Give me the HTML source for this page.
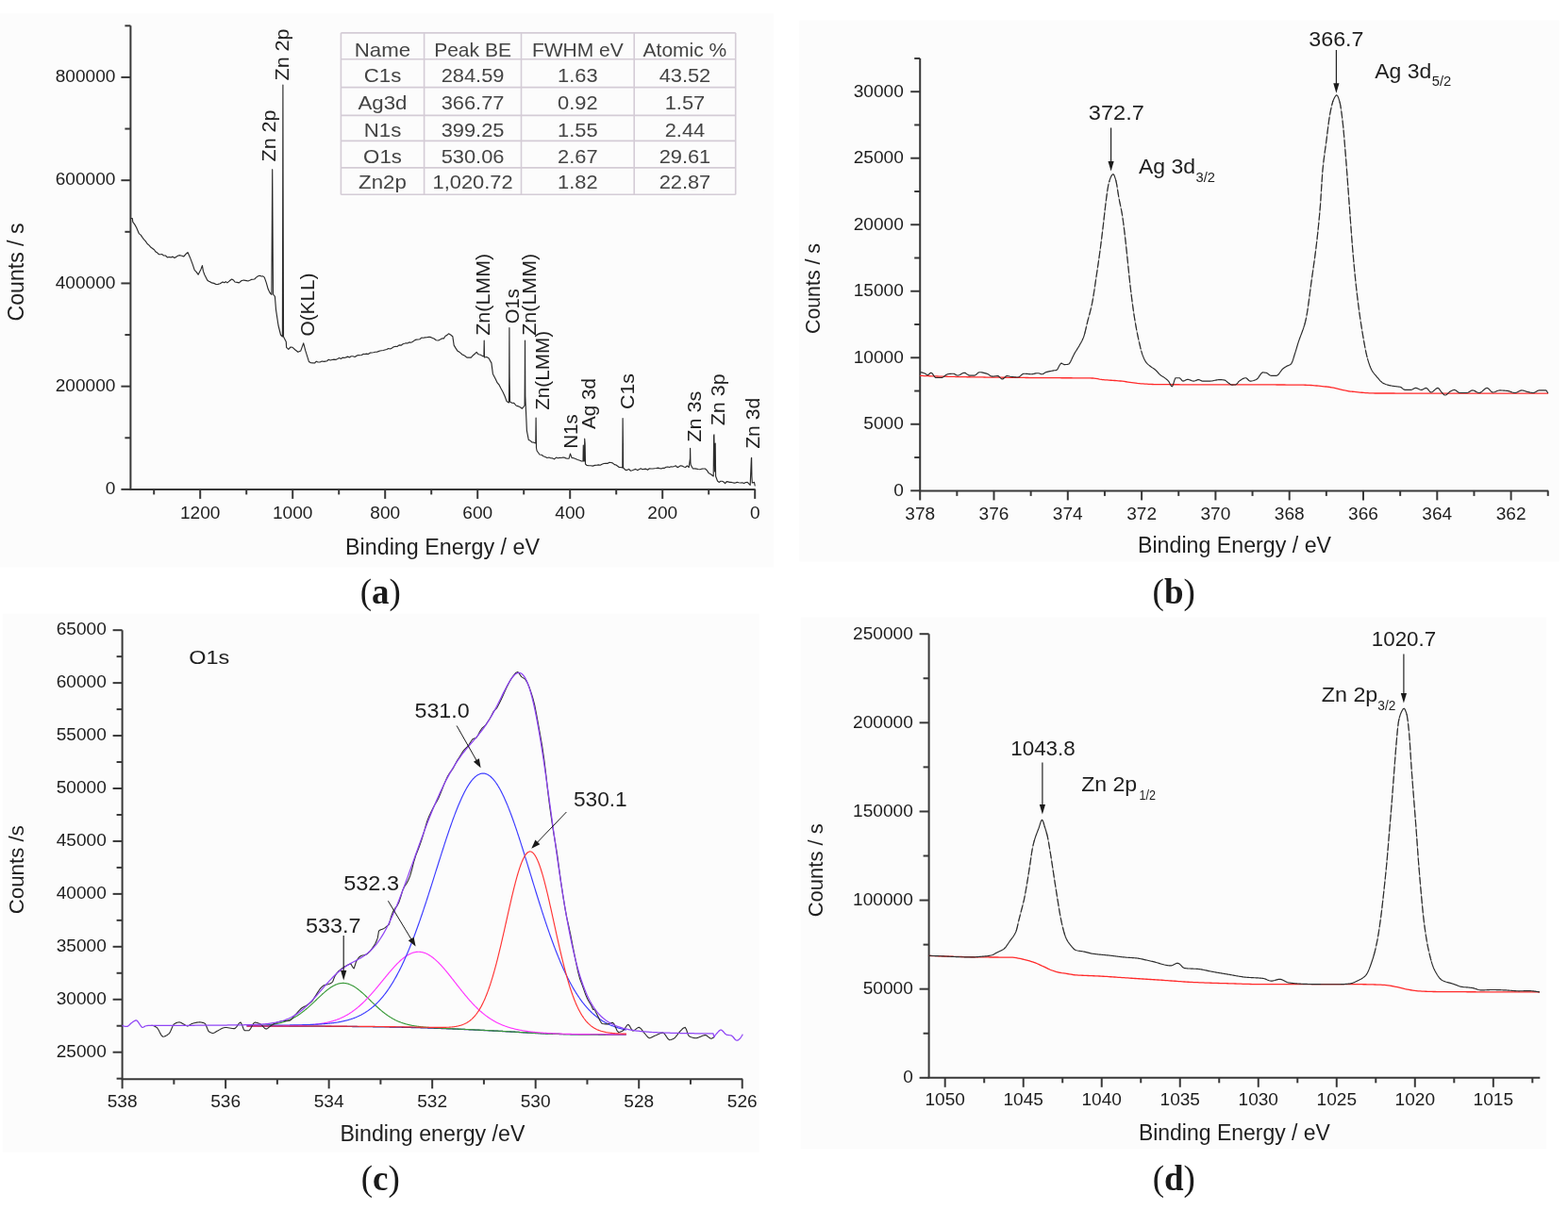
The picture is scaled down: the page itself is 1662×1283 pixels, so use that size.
<!DOCTYPE html>
<html><head><meta charset="utf-8"><title>XPS spectra</title>
<style>html,body{margin:0;padding:0;background:#fff;}body{width:1662px;height:1283px;overflow:hidden;}svg{display:block;}</style>
</head><body>
<svg width="1662" height="1283" viewBox="0 0 1662 1283">
<rect width="1662" height="1283" fill="#ffffff"/>
<rect x="0" y="14.4" width="820" height="587.1" fill="#fcfcfc"/>
<rect x="847.2" y="21.7" width="805.5" height="573.8" fill="#fcfcfc"/>
<rect x="2.7" y="650.6" width="801.9" height="570.9" fill="#fcfcfc"/>
<rect x="848.6" y="654.4" width="790.4" height="564.0000000000001" fill="#fcfcfc"/>
<line x1="138.4" y1="518.9" x2="138.4" y2="27.32" stroke="#383838" stroke-width="2.0"/>
<line x1="137.4" y1="518.9" x2="800.6" y2="518.9" stroke="#383838" stroke-width="2.0"/>
<line x1="128.4" y1="518.9" x2="138.4" y2="518.9" stroke="#383838" stroke-width="2.0"/>
<line x1="128.4" y1="409.66" x2="138.4" y2="409.66" stroke="#383838" stroke-width="2.0"/>
<line x1="128.4" y1="300.42" x2="138.4" y2="300.42" stroke="#383838" stroke-width="2.0"/>
<line x1="128.4" y1="191.18" x2="138.4" y2="191.18" stroke="#383838" stroke-width="2.0"/>
<line x1="128.4" y1="81.94" x2="138.4" y2="81.94" stroke="#383838" stroke-width="2.0"/>
<line x1="132.4" y1="464.28" x2="138.4" y2="464.28" stroke="#383838" stroke-width="2.0"/>
<line x1="132.4" y1="355.04" x2="138.4" y2="355.04" stroke="#383838" stroke-width="2.0"/>
<line x1="132.4" y1="245.8" x2="138.4" y2="245.8" stroke="#383838" stroke-width="2.0"/>
<line x1="132.4" y1="136.56" x2="138.4" y2="136.56" stroke="#383838" stroke-width="2.0"/>
<line x1="132.4" y1="27.32" x2="138.4" y2="27.32" stroke="#383838" stroke-width="2.0"/>
<text x="122.4" y="524.2" font-family='"Liberation Sans", Arial, sans-serif' font-size="18" font-weight="normal" fill="#1e1e1e" text-anchor="end" textLength="10.61" lengthAdjust="spacingAndGlyphs" >0</text>
<text x="122.4" y="414.96" font-family='"Liberation Sans", Arial, sans-serif' font-size="18" font-weight="normal" fill="#1e1e1e" text-anchor="end" textLength="63.67" lengthAdjust="spacingAndGlyphs" >200000</text>
<text x="122.4" y="305.72" font-family='"Liberation Sans", Arial, sans-serif' font-size="18" font-weight="normal" fill="#1e1e1e" text-anchor="end" textLength="63.67" lengthAdjust="spacingAndGlyphs" >400000</text>
<text x="122.4" y="196.48" font-family='"Liberation Sans", Arial, sans-serif' font-size="18" font-weight="normal" fill="#1e1e1e" text-anchor="end" textLength="63.67" lengthAdjust="spacingAndGlyphs" >600000</text>
<text x="122.4" y="87.24" font-family='"Liberation Sans", Arial, sans-serif' font-size="18" font-weight="normal" fill="#1e1e1e" text-anchor="end" textLength="63.67" lengthAdjust="spacingAndGlyphs" >800000</text>
<line x1="800.2" y1="518.9" x2="800.2" y2="528.9" stroke="#383838" stroke-width="2.0"/>
<line x1="702.2" y1="518.9" x2="702.2" y2="528.9" stroke="#383838" stroke-width="2.0"/>
<line x1="604.2" y1="518.9" x2="604.2" y2="528.9" stroke="#383838" stroke-width="2.0"/>
<line x1="506.2" y1="518.9" x2="506.2" y2="528.9" stroke="#383838" stroke-width="2.0"/>
<line x1="408.2" y1="518.9" x2="408.2" y2="528.9" stroke="#383838" stroke-width="2.0"/>
<line x1="310.2" y1="518.9" x2="310.2" y2="528.9" stroke="#383838" stroke-width="2.0"/>
<line x1="212.2" y1="518.9" x2="212.2" y2="528.9" stroke="#383838" stroke-width="2.0"/>
<line x1="751.2" y1="518.9" x2="751.2" y2="524.4" stroke="#383838" stroke-width="2.0"/>
<line x1="653.2" y1="518.9" x2="653.2" y2="524.4" stroke="#383838" stroke-width="2.0"/>
<line x1="555.2" y1="518.9" x2="555.2" y2="524.4" stroke="#383838" stroke-width="2.0"/>
<line x1="457.2" y1="518.9" x2="457.2" y2="524.4" stroke="#383838" stroke-width="2.0"/>
<line x1="359.2" y1="518.9" x2="359.2" y2="524.4" stroke="#383838" stroke-width="2.0"/>
<line x1="261.2" y1="518.9" x2="261.2" y2="524.4" stroke="#383838" stroke-width="2.0"/>
<line x1="163.2" y1="518.9" x2="163.2" y2="524.4" stroke="#383838" stroke-width="2.0"/>
<text x="800.2" y="550.3" font-family='"Liberation Sans", Arial, sans-serif' font-size="18" font-weight="normal" fill="#1e1e1e" text-anchor="middle" textLength="10.61" lengthAdjust="spacingAndGlyphs" >0</text>
<text x="702.2" y="550.3" font-family='"Liberation Sans", Arial, sans-serif' font-size="18" font-weight="normal" fill="#1e1e1e" text-anchor="middle" textLength="31.83" lengthAdjust="spacingAndGlyphs" >200</text>
<text x="604.2" y="550.3" font-family='"Liberation Sans", Arial, sans-serif' font-size="18" font-weight="normal" fill="#1e1e1e" text-anchor="middle" textLength="31.83" lengthAdjust="spacingAndGlyphs" >400</text>
<text x="506.2" y="550.3" font-family='"Liberation Sans", Arial, sans-serif' font-size="18" font-weight="normal" fill="#1e1e1e" text-anchor="middle" textLength="31.83" lengthAdjust="spacingAndGlyphs" >600</text>
<text x="408.2" y="550.3" font-family='"Liberation Sans", Arial, sans-serif' font-size="18" font-weight="normal" fill="#1e1e1e" text-anchor="middle" textLength="31.83" lengthAdjust="spacingAndGlyphs" >800</text>
<text x="310.2" y="550.3" font-family='"Liberation Sans", Arial, sans-serif' font-size="18" font-weight="normal" fill="#1e1e1e" text-anchor="middle" textLength="42.45" lengthAdjust="spacingAndGlyphs" >1000</text>
<text x="212.2" y="550.3" font-family='"Liberation Sans", Arial, sans-serif' font-size="18" font-weight="normal" fill="#1e1e1e" text-anchor="middle" textLength="42.45" lengthAdjust="spacingAndGlyphs" >1200</text>
<text x="469" y="588" font-family='"Liberation Sans", Arial, sans-serif' font-size="23" font-weight="normal" fill="#1e1e1e" text-anchor="middle" textLength="206" lengthAdjust="spacingAndGlyphs" >Binding Energy / eV</text>
<text transform="translate(24.5,288.5) rotate(-90)" font-family='"Liberation Sans", Arial, sans-serif' font-size="23" font-weight="normal" fill="#1e1e1e" text-anchor="middle" textLength="104" lengthAdjust="spacingAndGlyphs" >Counts / s</text>
<text x="403.3" y="639.5" font-family='"Liberation Serif", "Times New Roman", serif' font-size="37" font-weight="bold" fill="#1a1a1a" text-anchor="middle" ><tspan font-weight="normal">(</tspan>a<tspan font-weight="normal">)</tspan></text>
<polyline fill="none" stroke="#2b2b2b" stroke-width="1.15" stroke-linejoin="round" stroke-linecap="round"  points="138.7,231.5 140.3,231.5 140.8,235.4 142.7,237.86 144.6,241.2 147.5,247.9 149.18,249.1 150.85,251.61 152.52,253.91 154.2,255.6 156.13,258.46 158.07,260.13 160,262.3 161.7,263.45 163.4,264.77 165.1,267.06 166.8,268.1 168.48,269.72 170.15,269.7 171.82,269.6 173.5,271 175.43,270.97 177.37,272.88 179.3,272.5 181.2,272.91 183.1,272.15 185,273.4 186.95,272.15 188.9,271 190.83,270.69 192.77,271.32 194.7,272 196.85,269.53 199,267.6 201.4,272.9 204.3,280.6 206.2,286.4 208.15,288.41 210.1,291.2 213,285.4 214.4,281.6 215.4,287.4 216.8,291.2 219.7,297 221.3,298.27 222.9,298.9 224.5,299.9 226.75,300.38 229,301.5 231.1,301.38 233.2,300.8 236.1,298.9 237.7,299.69 239.3,298.66 240.9,299.9 243.3,297.81 245.7,296 247.35,296.96 249,299 251.2,299.35 253.4,299.9 255.8,297.74 258.2,297 259.8,297.34 261.4,297.65 263,298 264.68,297.33 266.35,296.42 268.02,296.28 269.7,296 271.63,294.13 273.57,292.72 275.5,292.2 277.1,292.96 278.7,292.86 280.3,294.1 282.3,299.9 284.2,306.6 286.1,310.5 287.9,312.4 288.4,230 288.7,179.7 289,230 289.5,312 291.4,314.3 292.5,328.3 295,345 297.5,355 299.4,357 299.7,200 299.9,90 300.1,200 300.5,357 303.3,362.6 303.6,368.3 305.8,370.4 308,368 310.1,368.3 313,371 315.9,373.3 318.8,371.9 321.7,363.9 323.8,371.9 327.4,383.4 329.6,384.79 331.8,384.9 333.53,384.99 335.27,383.2 337,384 339.1,383.95 341.2,382.99 343.3,383.4 344.98,383.07 346.65,382.72 348.32,381.26 350,382 351.95,381.5 353.9,381.11 355.85,381.4 357.8,380.5 359.6,379.6 361.4,380.41 363.2,379.15 365,379.5 366.8,378.87 368.6,378.14 370.4,378.95 372.2,377.7 374.15,377.71 376.1,378.44 378.05,377.15 380,376.5 381.65,376.71 383.3,376.46 384.95,375.42 386.6,375.5 388.45,375.09 390.3,375.49 392.15,374.16 394,374 395.77,373.75 397.55,373.29 399.33,373.29 401.1,372.6 402.83,372 404.55,371.72 406.27,371.53 408,371 409.88,370.56 411.75,369.52 413.62,369.99 415.5,369 417.33,367.79 419.17,367.34 421,367.5 423.03,365.86 425.07,366.17 427.1,364.7 428.73,364.27 430.37,363.7 432,364 433.73,362.88 435.47,363.23 437.2,362.5 439.13,361.09 441.07,360.13 443,360 444.9,359.74 446.8,358.14 448.7,358.2 450.52,357.82 452.35,357.8 454.18,357.36 456,357.4 458,358.17 460,359 462.3,360.74 464.6,361 466.53,360.02 468.47,358.91 470.4,358.9 472.1,356.19 473.8,355.39 475.5,353.8 477.65,355.06 479.8,356.7 481.2,366.1 483,369.15 484.8,371.9 486.53,373.01 488.27,374.37 490,376 491.63,376.64 493.27,377.78 494.9,379.1 497.1,379.19 499.3,379.1 501.23,376.96 503.17,375.29 505.1,373.3 507.25,375.8 509.4,376.2 511.15,377.36 512.9,378 513.2,361 513.5,379 515.75,378.53 518,379.8 520.9,384.9 522.4,396.4 525.3,402 527.15,405.95 529,408 531.05,412.04 533.1,415.7 535.05,420.03 537,425.4 539.4,427 539.7,400 539.9,347.5 540.1,400 540.5,426 542.65,427.2 544.8,427.4 547,430 548.8,430.66 550.6,431.3 553.5,433.2 556.1,430 556.3,400 556.5,361 556.8,420 558.4,456.6 560.3,466.4 562.15,467.36 564,469 565.9,469.15 567.8,470 568.1,443 568.5,475 569.1,478 572,482 574,482.29 576,483.69 578,484.5 579.92,485.44 581.85,485.02 583.78,485.78 585.7,485.9 587.56,486.85 589.42,485.07 591.28,485.8 593.14,485.41 595,485.5 596.62,485.04 598.24,485.18 599.86,485.85 601.48,486.22 603.1,486.1 604.5,481.1 606,485.4 608,485.66 610,486.5 612.35,487.43 614.7,488.3 616.35,489.05 618,489 618.3,472 618.6,489 619.4,489 619.7,465.2 620.1,470 620.5,492 621.9,493.4 623.95,493.76 626,493.8 628.25,494.08 630.5,493.4 632.4,493.27 634.3,492.91 636.2,493.26 638.1,492.22 640,491.5 641.98,491.32 643.95,491.39 645.92,490.24 647.9,490.5 649.6,491.15 651.3,492.6 653,493 654.67,494.18 656.33,495.52 658,495.5 659.8,496 660.1,443.5 660.4,470 660.6,496 663,498.4 664.8,498.33 666.6,497.44 668.4,499.23 670.2,498.68 672,498 673.8,497.36 675.6,498.64 677.4,497.84 679.2,496.76 681,497.7 682.83,497.35 684.67,497.19 686.5,498.22 688.33,496.8 690.17,496.98 692,497 693.78,496.71 695.57,496.52 697.35,496.1 699.13,496.59 700.92,496.93 702.7,496.2 704.42,496.34 706.13,495.29 707.85,494.97 709.57,495.47 711.28,494.81 713,495 714.67,494.5 716.33,493.78 718,495.62 719.67,494.9 721.33,493.71 723,494.1 724.8,494.95 726.6,495.54 728.4,493.84 730.2,495.5 731.5,486 731.6,475.3 731.9,490 732.2,493 734.5,497 736.33,496.86 738.17,497.12 740,497.5 741.88,497.73 743.75,497.18 745.62,497 747.5,497 749.43,498.87 751.37,501.82 753.3,502.7 756.2,505 756.6,462 756.9,460.9 757.2,480 757.6,500 758.2,470 758.6,505 760.5,510 762.12,511.44 763.75,510.21 765.38,510.24 767,511 768.6,512.56 770.2,510.62 771.8,510.92 773.4,511.34 775,511.4 776.6,511.75 778.2,512.13 779.8,511.86 781.4,511.24 783,511.8 784.86,512 786.72,511.78 788.58,512.59 790.44,511.47 792.3,511.4 795.2,514.3 796.4,486 796.6,485.4 796.9,505 797.3,512 799.5,511.4 800.2,515"/>
<text transform="translate(306.2,85.5) rotate(-90)" font-family='"Liberation Sans", Arial, sans-serif' font-size="20.5" font-weight="normal" fill="#202020" text-anchor="start" textLength="55" lengthAdjust="spacingAndGlyphs" >Zn 2p</text>
<text transform="translate(292,171.5) rotate(-90)" font-family='"Liberation Sans", Arial, sans-serif' font-size="20.5" font-weight="normal" fill="#202020" text-anchor="start" textLength="55" lengthAdjust="spacingAndGlyphs" >Zn 2p</text>
<text transform="translate(333.4,356.5) rotate(-90)" font-family='"Liberation Sans", Arial, sans-serif' font-size="20.5" font-weight="normal" fill="#202020" text-anchor="start" textLength="67" lengthAdjust="spacingAndGlyphs" >O(KLL)</text>
<text transform="translate(519.3,355.8) rotate(-90)" font-family='"Liberation Sans", Arial, sans-serif' font-size="20.5" font-weight="normal" fill="#202020" text-anchor="start" textLength="87" lengthAdjust="spacingAndGlyphs" >Zn(LMM)</text>
<text transform="translate(549.5,343.2) rotate(-90)" font-family='"Liberation Sans", Arial, sans-serif' font-size="20.5" font-weight="normal" fill="#202020" text-anchor="start" textLength="37" lengthAdjust="spacingAndGlyphs" >O1s</text>
<text transform="translate(568.2,355.8) rotate(-90)" font-family='"Liberation Sans", Arial, sans-serif' font-size="20.5" font-weight="normal" fill="#202020" text-anchor="start" textLength="87" lengthAdjust="spacingAndGlyphs" >Zn(LMM)</text>
<text transform="translate(581.8,434.8) rotate(-90)" font-family='"Liberation Sans", Arial, sans-serif' font-size="20.5" font-weight="normal" fill="#202020" text-anchor="start" textLength="84" lengthAdjust="spacingAndGlyphs" >Zn(LMM)</text>
<text transform="translate(612.3,475.8) rotate(-90)" font-family='"Liberation Sans", Arial, sans-serif' font-size="20.5" font-weight="normal" fill="#202020" text-anchor="start" textLength="36.5" lengthAdjust="spacingAndGlyphs" >N1s</text>
<text transform="translate(630.8,455) rotate(-90)" font-family='"Liberation Sans", Arial, sans-serif' font-size="20.5" font-weight="normal" fill="#202020" text-anchor="start" textLength="54" lengthAdjust="spacingAndGlyphs" >Ag 3d</text>
<text transform="translate(671.5,434) rotate(-90)" font-family='"Liberation Sans", Arial, sans-serif' font-size="20.5" font-weight="normal" fill="#202020" text-anchor="start" textLength="38" lengthAdjust="spacingAndGlyphs" >C1s</text>
<text transform="translate(743,468.8) rotate(-90)" font-family='"Liberation Sans", Arial, sans-serif' font-size="20.5" font-weight="normal" fill="#202020" text-anchor="start" textLength="54" lengthAdjust="spacingAndGlyphs" >Zn 3s</text>
<text transform="translate(768,451.3) rotate(-90)" font-family='"Liberation Sans", Arial, sans-serif' font-size="20.5" font-weight="normal" fill="#202020" text-anchor="start" textLength="55" lengthAdjust="spacingAndGlyphs" >Zn 3p</text>
<text transform="translate(805.1,475.8) rotate(-90)" font-family='"Liberation Sans", Arial, sans-serif' font-size="20.5" font-weight="normal" fill="#202020" text-anchor="start" textLength="54" lengthAdjust="spacingAndGlyphs" >Zn 3d</text>
<line x1="361.4" y1="34.9" x2="361.4" y2="206.3" stroke="#d4ccd6" stroke-width="1.6"/>
<line x1="449.6" y1="34.9" x2="449.6" y2="206.3" stroke="#d4ccd6" stroke-width="1.6"/>
<line x1="552.5" y1="34.9" x2="552.5" y2="206.3" stroke="#d4ccd6" stroke-width="1.6"/>
<line x1="672.2" y1="34.9" x2="672.2" y2="206.3" stroke="#d4ccd6" stroke-width="1.6"/>
<line x1="779.7" y1="34.9" x2="779.7" y2="206.3" stroke="#d4ccd6" stroke-width="1.6"/>
<line x1="361.4" y1="34.9" x2="779.7" y2="34.9" stroke="#d4ccd6" stroke-width="1.6"/>
<line x1="361.4" y1="62.8" x2="779.7" y2="62.8" stroke="#d4ccd6" stroke-width="1.6"/>
<line x1="361.4" y1="92.6" x2="779.7" y2="92.6" stroke="#d4ccd6" stroke-width="1.6"/>
<line x1="361.4" y1="122.4" x2="779.7" y2="122.4" stroke="#d4ccd6" stroke-width="1.6"/>
<line x1="361.4" y1="149.4" x2="779.7" y2="149.4" stroke="#d4ccd6" stroke-width="1.6"/>
<line x1="361.4" y1="177.9" x2="779.7" y2="177.9" stroke="#d4ccd6" stroke-width="1.6"/>
<line x1="361.4" y1="206.3" x2="779.7" y2="206.3" stroke="#d4ccd6" stroke-width="1.6"/>
<text x="405.5" y="60.2" font-family='"Liberation Sans", Arial, sans-serif' font-size="21" font-weight="normal" fill="#444444" text-anchor="middle" textLength="59.38" lengthAdjust="spacingAndGlyphs" >Name</text>
<text x="501.05" y="60.2" font-family='"Liberation Sans", Arial, sans-serif' font-size="21" font-weight="normal" fill="#444444" text-anchor="middle" textLength="81.71" lengthAdjust="spacingAndGlyphs" >Peak BE</text>
<text x="612.35" y="60.2" font-family='"Liberation Sans", Arial, sans-serif' font-size="21" font-weight="normal" fill="#444444" text-anchor="middle" textLength="96.83" lengthAdjust="spacingAndGlyphs" >FWHM eV</text>
<text x="725.95" y="60.2" font-family='"Liberation Sans", Arial, sans-serif' font-size="21" font-weight="normal" fill="#444444" text-anchor="middle" textLength="88.69" lengthAdjust="spacingAndGlyphs" >Atomic %</text>
<text x="405.5" y="87.2" font-family='"Liberation Sans", Arial, sans-serif' font-size="21" font-weight="normal" fill="#444444" text-anchor="middle" textLength="39.59" lengthAdjust="spacingAndGlyphs" >C1s</text>
<text x="501.05" y="87.2" font-family='"Liberation Sans", Arial, sans-serif' font-size="21" font-weight="normal" fill="#444444" text-anchor="middle" textLength="66.8" lengthAdjust="spacingAndGlyphs" >284.59</text>
<text x="612.35" y="87.2" font-family='"Liberation Sans", Arial, sans-serif' font-size="21" font-weight="normal" fill="#444444" text-anchor="middle" textLength="42.51" lengthAdjust="spacingAndGlyphs" >1.63</text>
<text x="725.95" y="87.2" font-family='"Liberation Sans", Arial, sans-serif' font-size="21" font-weight="normal" fill="#444444" text-anchor="middle" textLength="54.65" lengthAdjust="spacingAndGlyphs" >43.52</text>
<text x="405.5" y="115.5" font-family='"Liberation Sans", Arial, sans-serif' font-size="21" font-weight="normal" fill="#444444" text-anchor="middle" textLength="51.99" lengthAdjust="spacingAndGlyphs" >Ag3d</text>
<text x="501.05" y="115.5" font-family='"Liberation Sans", Arial, sans-serif' font-size="21" font-weight="normal" fill="#444444" text-anchor="middle" textLength="66.8" lengthAdjust="spacingAndGlyphs" >366.77</text>
<text x="612.35" y="115.5" font-family='"Liberation Sans", Arial, sans-serif' font-size="21" font-weight="normal" fill="#444444" text-anchor="middle" textLength="42.51" lengthAdjust="spacingAndGlyphs" >0.92</text>
<text x="725.95" y="115.5" font-family='"Liberation Sans", Arial, sans-serif' font-size="21" font-weight="normal" fill="#444444" text-anchor="middle" textLength="42.51" lengthAdjust="spacingAndGlyphs" >1.57</text>
<text x="405.5" y="144.5" font-family='"Liberation Sans", Arial, sans-serif' font-size="21" font-weight="normal" fill="#444444" text-anchor="middle" textLength="39.59" lengthAdjust="spacingAndGlyphs" >N1s</text>
<text x="501.05" y="144.5" font-family='"Liberation Sans", Arial, sans-serif' font-size="21" font-weight="normal" fill="#444444" text-anchor="middle" textLength="66.8" lengthAdjust="spacingAndGlyphs" >399.25</text>
<text x="612.35" y="144.5" font-family='"Liberation Sans", Arial, sans-serif' font-size="21" font-weight="normal" fill="#444444" text-anchor="middle" textLength="42.51" lengthAdjust="spacingAndGlyphs" >1.55</text>
<text x="725.95" y="144.5" font-family='"Liberation Sans", Arial, sans-serif' font-size="21" font-weight="normal" fill="#444444" text-anchor="middle" textLength="42.51" lengthAdjust="spacingAndGlyphs" >2.44</text>
<text x="405.5" y="172.6" font-family='"Liberation Sans", Arial, sans-serif' font-size="21" font-weight="normal" fill="#444444" text-anchor="middle" textLength="40.82" lengthAdjust="spacingAndGlyphs" >O1s</text>
<text x="501.05" y="172.6" font-family='"Liberation Sans", Arial, sans-serif' font-size="21" font-weight="normal" fill="#444444" text-anchor="middle" textLength="66.8" lengthAdjust="spacingAndGlyphs" >530.06</text>
<text x="612.35" y="172.6" font-family='"Liberation Sans", Arial, sans-serif' font-size="21" font-weight="normal" fill="#444444" text-anchor="middle" textLength="42.51" lengthAdjust="spacingAndGlyphs" >2.67</text>
<text x="725.95" y="172.6" font-family='"Liberation Sans", Arial, sans-serif' font-size="21" font-weight="normal" fill="#444444" text-anchor="middle" textLength="54.65" lengthAdjust="spacingAndGlyphs" >29.61</text>
<text x="405.5" y="200.2" font-family='"Liberation Sans", Arial, sans-serif' font-size="21" font-weight="normal" fill="#444444" text-anchor="middle" textLength="50.74" lengthAdjust="spacingAndGlyphs" >Zn2p</text>
<text x="501.05" y="200.2" font-family='"Liberation Sans", Arial, sans-serif' font-size="21" font-weight="normal" fill="#444444" text-anchor="middle" textLength="85.01" lengthAdjust="spacingAndGlyphs" >1,020.72</text>
<text x="612.35" y="200.2" font-family='"Liberation Sans", Arial, sans-serif' font-size="21" font-weight="normal" fill="#444444" text-anchor="middle" textLength="42.51" lengthAdjust="spacingAndGlyphs" >1.82</text>
<text x="725.95" y="200.2" font-family='"Liberation Sans", Arial, sans-serif' font-size="21" font-weight="normal" fill="#444444" text-anchor="middle" textLength="54.65" lengthAdjust="spacingAndGlyphs" >22.87</text>
<line x1="975.2" y1="520.4" x2="975.2" y2="61.95" stroke="#383838" stroke-width="2.0"/>
<line x1="974.2" y1="520.4" x2="1641.2" y2="520.4" stroke="#383838" stroke-width="2.0"/>
<line x1="965.2" y1="520.3" x2="975.2" y2="520.3" stroke="#383838" stroke-width="2.0"/>
<line x1="965.2" y1="449.78" x2="975.2" y2="449.78" stroke="#383838" stroke-width="2.0"/>
<line x1="965.2" y1="379.27" x2="975.2" y2="379.27" stroke="#383838" stroke-width="2.0"/>
<line x1="965.2" y1="308.75" x2="975.2" y2="308.75" stroke="#383838" stroke-width="2.0"/>
<line x1="965.2" y1="238.24" x2="975.2" y2="238.24" stroke="#383838" stroke-width="2.0"/>
<line x1="965.2" y1="167.72" x2="975.2" y2="167.72" stroke="#383838" stroke-width="2.0"/>
<line x1="965.2" y1="97.21" x2="975.2" y2="97.21" stroke="#383838" stroke-width="2.0"/>
<line x1="969.2" y1="485.04" x2="975.2" y2="485.04" stroke="#383838" stroke-width="2.0"/>
<line x1="969.2" y1="414.53" x2="975.2" y2="414.53" stroke="#383838" stroke-width="2.0"/>
<line x1="969.2" y1="344.01" x2="975.2" y2="344.01" stroke="#383838" stroke-width="2.0"/>
<line x1="969.2" y1="273.5" x2="975.2" y2="273.5" stroke="#383838" stroke-width="2.0"/>
<line x1="969.2" y1="202.98" x2="975.2" y2="202.98" stroke="#383838" stroke-width="2.0"/>
<line x1="969.2" y1="132.47" x2="975.2" y2="132.47" stroke="#383838" stroke-width="2.0"/>
<line x1="969.2" y1="61.95" x2="975.2" y2="61.95" stroke="#383838" stroke-width="2.0"/>
<text x="957.8" y="525.6" font-family='"Liberation Sans", Arial, sans-serif' font-size="18" font-weight="normal" fill="#1e1e1e" text-anchor="end" textLength="10.61" lengthAdjust="spacingAndGlyphs" >0</text>
<text x="957.8" y="455.08" font-family='"Liberation Sans", Arial, sans-serif' font-size="18" font-weight="normal" fill="#1e1e1e" text-anchor="end" textLength="42.45" lengthAdjust="spacingAndGlyphs" >5000</text>
<text x="957.8" y="384.57" font-family='"Liberation Sans", Arial, sans-serif' font-size="18" font-weight="normal" fill="#1e1e1e" text-anchor="end" textLength="53.06" lengthAdjust="spacingAndGlyphs" >10000</text>
<text x="957.8" y="314.06" font-family='"Liberation Sans", Arial, sans-serif' font-size="18" font-weight="normal" fill="#1e1e1e" text-anchor="end" textLength="53.06" lengthAdjust="spacingAndGlyphs" >15000</text>
<text x="957.8" y="243.54" font-family='"Liberation Sans", Arial, sans-serif' font-size="18" font-weight="normal" fill="#1e1e1e" text-anchor="end" textLength="53.06" lengthAdjust="spacingAndGlyphs" >20000</text>
<text x="957.8" y="173.02" font-family='"Liberation Sans", Arial, sans-serif' font-size="18" font-weight="normal" fill="#1e1e1e" text-anchor="end" textLength="53.06" lengthAdjust="spacingAndGlyphs" >25000</text>
<text x="957.8" y="102.51" font-family='"Liberation Sans", Arial, sans-serif' font-size="18" font-weight="normal" fill="#1e1e1e" text-anchor="end" textLength="53.06" lengthAdjust="spacingAndGlyphs" >30000</text>
<line x1="1601.6" y1="520.4" x2="1601.6" y2="530.4" stroke="#383838" stroke-width="2.0"/>
<line x1="1523.3" y1="520.4" x2="1523.3" y2="530.4" stroke="#383838" stroke-width="2.0"/>
<line x1="1445" y1="520.4" x2="1445" y2="530.4" stroke="#383838" stroke-width="2.0"/>
<line x1="1366.7" y1="520.4" x2="1366.7" y2="530.4" stroke="#383838" stroke-width="2.0"/>
<line x1="1288.4" y1="520.4" x2="1288.4" y2="530.4" stroke="#383838" stroke-width="2.0"/>
<line x1="1210.1" y1="520.4" x2="1210.1" y2="530.4" stroke="#383838" stroke-width="2.0"/>
<line x1="1131.8" y1="520.4" x2="1131.8" y2="530.4" stroke="#383838" stroke-width="2.0"/>
<line x1="1053.5" y1="520.4" x2="1053.5" y2="530.4" stroke="#383838" stroke-width="2.0"/>
<line x1="975.2" y1="520.4" x2="975.2" y2="530.4" stroke="#383838" stroke-width="2.0"/>
<line x1="1640.75" y1="520.4" x2="1640.75" y2="525.9" stroke="#383838" stroke-width="2.0"/>
<line x1="1562.45" y1="520.4" x2="1562.45" y2="525.9" stroke="#383838" stroke-width="2.0"/>
<line x1="1484.15" y1="520.4" x2="1484.15" y2="525.9" stroke="#383838" stroke-width="2.0"/>
<line x1="1405.85" y1="520.4" x2="1405.85" y2="525.9" stroke="#383838" stroke-width="2.0"/>
<line x1="1327.55" y1="520.4" x2="1327.55" y2="525.9" stroke="#383838" stroke-width="2.0"/>
<line x1="1249.25" y1="520.4" x2="1249.25" y2="525.9" stroke="#383838" stroke-width="2.0"/>
<line x1="1170.95" y1="520.4" x2="1170.95" y2="525.9" stroke="#383838" stroke-width="2.0"/>
<line x1="1092.65" y1="520.4" x2="1092.65" y2="525.9" stroke="#383838" stroke-width="2.0"/>
<line x1="1014.35" y1="520.4" x2="1014.35" y2="525.9" stroke="#383838" stroke-width="2.0"/>
<text x="1601.6" y="551" font-family='"Liberation Sans", Arial, sans-serif' font-size="18" font-weight="normal" fill="#1e1e1e" text-anchor="middle" textLength="31.83" lengthAdjust="spacingAndGlyphs" >362</text>
<text x="1523.3" y="551" font-family='"Liberation Sans", Arial, sans-serif' font-size="18" font-weight="normal" fill="#1e1e1e" text-anchor="middle" textLength="31.83" lengthAdjust="spacingAndGlyphs" >364</text>
<text x="1445" y="551" font-family='"Liberation Sans", Arial, sans-serif' font-size="18" font-weight="normal" fill="#1e1e1e" text-anchor="middle" textLength="31.83" lengthAdjust="spacingAndGlyphs" >366</text>
<text x="1366.7" y="551" font-family='"Liberation Sans", Arial, sans-serif' font-size="18" font-weight="normal" fill="#1e1e1e" text-anchor="middle" textLength="31.83" lengthAdjust="spacingAndGlyphs" >368</text>
<text x="1288.4" y="551" font-family='"Liberation Sans", Arial, sans-serif' font-size="18" font-weight="normal" fill="#1e1e1e" text-anchor="middle" textLength="31.83" lengthAdjust="spacingAndGlyphs" >370</text>
<text x="1210.1" y="551" font-family='"Liberation Sans", Arial, sans-serif' font-size="18" font-weight="normal" fill="#1e1e1e" text-anchor="middle" textLength="31.83" lengthAdjust="spacingAndGlyphs" >372</text>
<text x="1131.8" y="551" font-family='"Liberation Sans", Arial, sans-serif' font-size="18" font-weight="normal" fill="#1e1e1e" text-anchor="middle" textLength="31.83" lengthAdjust="spacingAndGlyphs" >374</text>
<text x="1053.5" y="551" font-family='"Liberation Sans", Arial, sans-serif' font-size="18" font-weight="normal" fill="#1e1e1e" text-anchor="middle" textLength="31.83" lengthAdjust="spacingAndGlyphs" >376</text>
<text x="975.2" y="551" font-family='"Liberation Sans", Arial, sans-serif' font-size="18" font-weight="normal" fill="#1e1e1e" text-anchor="middle" textLength="31.83" lengthAdjust="spacingAndGlyphs" >378</text>
<text x="1308.5" y="585.5" font-family='"Liberation Sans", Arial, sans-serif' font-size="23" font-weight="normal" fill="#1e1e1e" text-anchor="middle" textLength="205" lengthAdjust="spacingAndGlyphs" >Binding Energy / eV</text>
<text transform="translate(869.4,306) rotate(-90)" font-family='"Liberation Sans", Arial, sans-serif' font-size="22" font-weight="normal" fill="#1e1e1e" text-anchor="middle" textLength="96" lengthAdjust="spacingAndGlyphs" >Counts / s</text>
<text x="1244.2" y="639.5" font-family='"Liberation Serif", "Times New Roman", serif' font-size="37" font-weight="bold" fill="#1a1a1a" text-anchor="middle" ><tspan font-weight="normal">(</tspan>b<tspan font-weight="normal">)</tspan></text>
<polyline fill="none" stroke="#ff2a2a" stroke-width="1.3" stroke-linejoin="round" stroke-linecap="round"  points="975.5,398.4 977.5,398.47 979.5,398.53 981.5,398.6 983.5,398.67 985.5,398.73 987.5,398.8 989.5,398.86 991.5,398.93 993.5,398.99 995.5,399.05 997.5,399.11 999.5,399.16 1001.5,399.22 1003.5,399.27 1005.5,399.33 1007.5,399.38 1009.5,399.42 1011.5,399.47 1013.5,399.51 1015.5,399.55 1017.5,399.59 1018,399.6 1019.5,399.63 1021.5,399.66 1023.5,399.7 1025.5,399.73 1027.5,399.76 1029.5,399.79 1031.5,399.82 1033.5,399.85 1035.5,399.88 1037.5,399.91 1039.5,399.94 1041.5,399.97 1043.5,400 1045.5,400.03 1047.5,400.05 1049.5,400.08 1051.5,400.1 1053.5,400.13 1055.5,400.15 1057.5,400.18 1059.5,400.2 1061.5,400.22 1063.5,400.25 1065.5,400.27 1067.5,400.29 1069.5,400.31 1071.5,400.33 1073.5,400.35 1075.5,400.37 1077.5,400.39 1079.5,400.41 1081.5,400.43 1083.5,400.45 1085.5,400.47 1087.5,400.49 1089.5,400.51 1091.5,400.53 1093.5,400.54 1095.5,400.56 1097.5,400.58 1099.5,400.6 1100,400.6 1101.5,400.61 1103.5,400.63 1105.5,400.64 1107.5,400.65 1109.5,400.66 1111.5,400.67 1113.5,400.68 1115.5,400.69 1117.5,400.7 1119.5,400.71 1121.5,400.71 1123.5,400.72 1125.5,400.73 1127.5,400.73 1129.5,400.74 1131.5,400.75 1133.5,400.76 1135.5,400.77 1137.5,400.78 1139.5,400.79 1141.5,400.81 1143.5,400.82 1145.5,400.84 1147.5,400.86 1149.5,400.88 1151.5,400.9 1153.5,400.93 1155.5,400.95 1157.5,400.98 1158.5,401 1159.5,401.05 1161.5,401.3 1163.5,401.67 1165.5,402.08 1167.5,402.41 1168.2,402.5 1169.5,402.63 1171.5,402.81 1173.5,402.97 1175.5,403.11 1177.5,403.24 1179.5,403.37 1181.5,403.5 1183.5,403.64 1185.5,403.8 1187.5,403.98 1187.7,404 1189.5,404.2 1191.5,404.45 1193.5,404.74 1195.5,405.04 1197.5,405.35 1199.5,405.66 1201.5,405.95 1203.5,406.22 1205.5,406.45 1207.2,406.6 1207.5,406.62 1209.5,406.78 1211.5,406.93 1213.5,407.08 1215.5,407.21 1217.5,407.33 1219.5,407.43 1221.5,407.52 1223.5,407.57 1225,407.6 1225.5,407.61 1227.5,407.63 1229.5,407.65 1231.5,407.66 1233.5,407.68 1235.5,407.7 1237.5,407.71 1239.5,407.72 1241.5,407.73 1243.5,407.74 1245.5,407.75 1247.5,407.76 1249.5,407.77 1251.5,407.78 1253.5,407.78 1255.5,407.79 1257.5,407.79 1259.5,407.8 1260,407.8 1261.5,407.8 1263.5,407.81 1265.5,407.81 1267.5,407.82 1269.5,407.82 1271.5,407.82 1273.5,407.83 1275.5,407.83 1277.5,407.83 1279.5,407.83 1281.5,407.84 1283.5,407.84 1285.5,407.84 1287.5,407.84 1289.5,407.85 1291.5,407.85 1293.5,407.85 1295.5,407.85 1297.5,407.85 1299.5,407.85 1301.5,407.86 1303.5,407.86 1305.5,407.86 1307.5,407.86 1309.5,407.87 1311.5,407.87 1313.5,407.87 1315.5,407.87 1317.5,407.88 1319.5,407.88 1321.5,407.88 1323.5,407.89 1325.5,407.89 1327.5,407.89 1329.5,407.9 1330,407.9 1331.5,407.9 1333.5,407.91 1335.5,407.91 1337.5,407.92 1339.5,407.92 1341.5,407.93 1343.5,407.94 1345.5,407.94 1347.5,407.95 1349.5,407.96 1351.5,407.97 1353.5,407.98 1355.5,407.99 1357.5,408 1359.5,408.01 1361.5,408.02 1363.5,408.03 1365.5,408.05 1367.5,408.06 1369.5,408.08 1371.5,408.1 1373.5,408.12 1375.5,408.14 1377.5,408.16 1379.5,408.18 1381.4,408.2 1381.5,408.2 1383.5,408.24 1385.5,408.31 1387.5,408.4 1389.5,408.52 1391.5,408.66 1393.5,408.81 1395.5,408.99 1397.5,409.17 1399.5,409.37 1401.5,409.58 1403.5,409.79 1405.5,410.01 1407.2,410.2 1407.5,410.23 1409.5,410.51 1411.5,410.84 1413.5,411.23 1415.5,411.66 1417.5,412.12 1419.5,412.59 1421.5,413.07 1423.5,413.53 1425.5,413.98 1427.5,414.38 1429.5,414.74 1431.5,415.04 1432.9,415.2 1433.5,415.26 1435.5,415.47 1437.5,415.67 1439.5,415.87 1441.5,416.06 1443.5,416.24 1445.5,416.41 1447.5,416.56 1449.5,416.69 1451.5,416.8 1453.5,416.89 1455.5,416.96 1457.5,416.99 1458.6,417 1459.5,417 1461.5,417 1463.5,417.01 1465.5,417.01 1467.5,417.01 1469.5,417.01 1471.5,417.02 1473.5,417.02 1475.5,417.02 1477.5,417.02 1479.5,417.03 1481.5,417.03 1483.5,417.03 1485.5,417.03 1487.5,417.04 1489.5,417.04 1491.5,417.04 1493.5,417.04 1495.5,417.04 1497.5,417.05 1499.5,417.05 1501.5,417.05 1503.5,417.05 1505.5,417.05 1507.5,417.06 1509.5,417.06 1511.5,417.06 1513.5,417.06 1515.5,417.06 1517.5,417.06 1519.5,417.07 1521.5,417.07 1523.5,417.07 1525.5,417.07 1527.5,417.07 1529.5,417.07 1531.5,417.07 1533.5,417.07 1535.5,417.08 1537.5,417.08 1539.5,417.08 1541.5,417.08 1543.5,417.08 1545.5,417.08 1547.5,417.08 1549.5,417.08 1551.5,417.08 1553.5,417.08 1555.5,417.09 1557.5,417.09 1559.5,417.09 1561.5,417.09 1563.5,417.09 1565.5,417.09 1567.5,417.09 1569.5,417.09 1571.5,417.09 1573.5,417.09 1575.5,417.09 1577.5,417.09 1579.5,417.09 1581.5,417.09 1583.5,417.09 1585.5,417.09 1587.5,417.1 1589.5,417.1 1591.5,417.1 1593.5,417.1 1595.5,417.1 1597.5,417.1 1599.5,417.1 1601.5,417.1 1603.5,417.1 1605.5,417.1 1607.5,417.1 1609.5,417.1 1611.5,417.1 1613.5,417.1 1615.5,417.1 1617.5,417.1 1619.5,417.1 1621.5,417.1 1623.5,417.1 1625.5,417.1 1627.5,417.1 1629.5,417.1 1631.5,417.1 1633.5,417.1 1635.5,417.1 1637.5,417.1 1639.5,417.1 1640.6,417.1"/>
<polyline fill="none" stroke="#2b2b2b" stroke-width="1.15" stroke-linejoin="round" stroke-linecap="round"  points="975.8,394.7 976.8,394.89 977.8,395.14 978.8,395.44 979.6,395.7 979.8,395.78 980.8,396.33 981.8,396.97 982.8,397.47 983.5,397.6 983.8,397.54 984.8,396.78 985.8,395.73 986.8,395.2 987.8,395.69 988.8,396.89 989.8,398.37 990.8,399.7 991.8,400.45 992.1,400.5 992.8,400.5 993.8,400.5 994.8,400.5 995.8,400.5 996.8,400.5 997.8,400.5 997.9,400.5 998.8,400.33 999.8,399.81 1000.8,399.09 1001.8,398.28 1002.8,397.52 1003.8,396.94 1004.6,396.7 1004.8,396.67 1005.8,396.53 1006.8,396.41 1007.8,396.32 1008.8,396.25 1009.8,396.21 1010.4,396.2 1010.8,396.24 1011.8,396.59 1012.8,397.15 1013.8,397.71 1014.8,398.06 1015.2,398.1 1015.8,398.04 1016.8,397.69 1017.8,397.15 1018.8,396.52 1019.8,395.91 1020.8,395.44 1021.8,395.21 1022,395.2 1022.8,395.36 1023.8,395.88 1024.8,396.61 1025.8,397.35 1026.8,397.91 1027.7,398.1 1027.8,398.1 1028.8,398.1 1029.8,398.1 1030.8,398.1 1031.8,398.1 1032.6,398.1 1032.8,398.09 1033.8,397.71 1034.8,396.97 1035.8,396.09 1036.8,395.28 1037.8,394.77 1038.3,394.7 1038.8,394.71 1039.8,394.78 1040.8,394.91 1041.8,395.1 1042.8,395.33 1043.8,395.58 1044.8,395.86 1045.8,396.14 1046,396.2 1046.8,396.52 1047.8,397.11 1048.8,397.79 1049.8,398.43 1050.8,398.91 1051.8,399.1 1052.8,399.06 1053.8,398.96 1054.8,398.84 1055.8,398.71 1056.8,398.63 1057.6,398.6 1057.8,398.62 1058.8,399.13 1059.8,400.09 1060.8,401.12 1061.8,401.85 1062.4,402 1062.8,401.93 1063.8,401.3 1064.8,400.3 1065.8,399.3 1066.8,398.67 1067.2,398.6 1067.8,398.63 1068.8,398.79 1069.8,399.04 1070.8,399.29 1071.8,399.48 1072,399.5 1072.8,399.59 1073.8,399.69 1074.8,399.79 1075.8,399.87 1076.8,399.94 1077.8,399.98 1078.8,400 1079.8,399.77 1080.8,399.19 1081.8,398.4 1082.8,397.55 1083.8,396.81 1084.8,396.32 1085.5,396.2 1085.8,396.2 1086.8,396.24 1087.8,396.31 1088.8,396.4 1089.8,396.49 1090.8,396.58 1091.8,396.66 1092.8,396.7 1093.2,396.7 1093.8,396.68 1094.8,396.56 1095.8,396.37 1096.8,396.14 1097.8,395.93 1098.8,395.77 1099.8,395.7 1099.9,395.7 1100.8,395.79 1101.8,396.05 1102.8,396.35 1103.8,396.61 1104.7,396.7 1104.8,396.7 1105.8,396.39 1106.8,395.76 1107.8,395.09 1108.6,394.7 1108.8,394.63 1109.8,394.34 1110.8,394.08 1111.8,393.86 1112.8,393.64 1113,393.6 1113.8,393.44 1114.8,393.25 1115.8,393.07 1116.8,392.89 1117.3,392.8 1117.8,392.72 1118.8,392.58 1119.8,392.39 1120.1,392.3 1120.8,391.65 1121.8,389.78 1122.8,387.81 1123,387.5 1123.8,386.2 1124.8,385.11 1124.9,385.1 1125.8,385.41 1126.8,386.1 1127.8,386.58 1128,386.6 1128.8,386.59 1129.8,386.54 1130.8,386.46 1131.8,386.35 1132.2,386.3 1132.8,386.06 1133.8,385.02 1134.8,383.37 1135.8,381.33 1136.8,379.1 1137.8,376.9 1138.8,374.94 1139,374.6 1139.8,373.3 1140.8,371.72 1141.8,370.16 1142.8,368.55 1143.8,366.86 1144,366.5 1144.8,365.09 1145.8,363.34 1146.8,361.46 1147.8,359.34 1148.7,357.1 1148.8,356.82 1149.8,353.44"/>
<polyline fill="none" stroke="#a8a8a8" stroke-width="1.15" stroke-linejoin="round" stroke-linecap="round"  points="1149.8,353.44 1150.8,349.28 1151.8,344.87 1152.6,341.5 1152.8,340.71 1153.8,336.92 1154.8,333.24 1155.8,329.43 1156.8,325.26 1157.5,322 1157.8,320.48 1158.8,314.83 1159.8,308.49 1160.8,301.73 1161.8,294.86 1162.4,290.8 1162.8,288.12 1163.8,281.35 1164.8,274.4 1165.8,267.21 1166.3,263.5 1166.8,259.69 1167.8,251.76 1168.8,243.54 1169.2,240.2 1169.8,234.97 1170.8,225.85 1171.8,217.16 1172.1,214.8 1172.8,209.4 1173.8,202.01 1174.8,196.17 1175,195.3 1175.8,192.26"/>
<polyline fill="none" stroke="#2b2b2b" stroke-width="1.15" stroke-linejoin="round" stroke-linecap="round" stroke-dasharray="7,3.2" points="1149.8,353.44 1150.8,349.28 1151.8,344.87 1152.6,341.5 1152.8,340.71 1153.8,336.92 1154.8,333.24 1155.8,329.43 1156.8,325.26 1157.5,322 1157.8,320.48 1158.8,314.83 1159.8,308.49 1160.8,301.73 1161.8,294.86 1162.4,290.8 1162.8,288.12 1163.8,281.35 1164.8,274.4 1165.8,267.21 1166.3,263.5 1166.8,259.69 1167.8,251.76 1168.8,243.54 1169.2,240.2 1169.8,234.97 1170.8,225.85 1171.8,217.16 1172.1,214.8 1172.8,209.4 1173.8,202.01 1174.8,196.17 1175,195.3 1175.8,192.26"/>
<polyline fill="none" stroke="#2b2b2b" stroke-width="1.15" stroke-linejoin="round" stroke-linecap="round"  points="1175.8,192.26 1176.8,189.14 1177.8,186.92 1178,186.6 1178.8,185.43 1179.8,184.61 1179.9,184.6 1180.8,185.51 1181.8,188.1 1182.8,191.4"/>
<polyline fill="none" stroke="#a8a8a8" stroke-width="1.15" stroke-linejoin="round" stroke-linecap="round"  points="1182.8,191.4 1183.8,196.23 1184.8,202.74 1185.8,209 1186.8,214.11 1187.8,218.87 1188.8,223.89 1189.6,228.5 1189.8,229.78 1190.8,236.98 1191.8,245.11 1192.6,251.9 1192.8,253.63 1193.8,262.8 1194.8,272.42 1195.5,279.1 1195.8,281.95 1196.8,291.66 1197.8,301.13 1198.4,306.4 1198.8,309.73 1199.8,317.81 1200.8,325.41 1201.8,332.44 1202.3,335.7 1202.8,338.82 1203.8,344.72 1204.8,350.18 1205.8,355.21 1206.2,357.1 1206.8,359.88 1207.8,364.42 1208.8,368.7 1209.8,372.54"/>
<polyline fill="none" stroke="#2b2b2b" stroke-width="1.15" stroke-linejoin="round" stroke-linecap="round" stroke-dasharray="7,3.2" points="1182.8,191.4 1183.8,196.23 1184.8,202.74 1185.8,209 1186.8,214.11 1187.8,218.87 1188.8,223.89 1189.6,228.5 1189.8,229.78 1190.8,236.98 1191.8,245.11 1192.6,251.9 1192.8,253.63 1193.8,262.8 1194.8,272.42 1195.5,279.1 1195.8,281.95 1196.8,291.66 1197.8,301.13 1198.4,306.4 1198.8,309.73 1199.8,317.81 1200.8,325.41 1201.8,332.44 1202.3,335.7 1202.8,338.82 1203.8,344.72 1204.8,350.18 1205.8,355.21 1206.2,357.1 1206.8,359.88 1207.8,364.42 1208.8,368.7 1209.8,372.54"/>
<polyline fill="none" stroke="#2b2b2b" stroke-width="1.15" stroke-linejoin="round" stroke-linecap="round"  points="1209.8,372.54 1210.8,375.77 1211.1,376.6 1211.8,378.37 1212.8,380.65 1213.8,382.58 1214.8,384.14 1215,384.4 1215.8,385.33 1216.8,386.32 1217.8,387.16 1218.8,387.95 1219.5,388.5 1219.8,388.74 1220.8,389.46 1221.8,390.12 1222.8,390.79 1223.8,391.49 1224.7,392.2 1224.8,392.29 1225.8,393.25 1226.8,394.36 1227.8,395.5 1228.8,396.58 1229.8,397.5 1230.8,398.24 1231.8,398.89 1232.8,399.5 1233.8,400.13 1234.6,400.7 1234.8,400.85 1235.8,401.62 1236.8,402.45 1237.8,403.37 1238.5,404.1 1238.8,404.48 1239.8,406.27 1240.8,408.23 1241.8,409.59 1242.3,409.8 1242.8,409.39 1243.8,406.8 1244.8,403.38 1245.8,400.97 1246.2,400.7 1246.8,400.7 1247.8,400.7 1248.8,400.7 1249.8,400.7 1250,400.7 1250.8,401.07 1251.8,402.2 1252.8,403.44 1253.8,404.09 1253.9,404.1 1254.8,403.93 1255.8,403.48 1256.8,402.92 1257.8,402.47 1258.7,402.3 1258.8,402.3 1259.8,402.43 1260.8,402.72 1261.8,403.1 1262.8,403.5 1263.8,403.84 1264.8,404.06 1265.4,404.1 1265.8,404.07 1266.8,403.79 1267.8,403.35 1268.8,402.91 1269.8,402.63 1270.2,402.6 1270.8,402.66 1271.8,402.99 1272.8,403.44 1273.8,403.87 1274.8,404.09 1275,404.1 1275.8,404.1 1276.8,404.1 1277.8,404.1 1278.8,404.1 1279.8,404.1 1280.8,404.1 1281.8,404.1 1282.7,404.1 1282.8,404.1 1283.8,404.05 1284.8,403.92 1285.8,403.74 1286.8,403.52 1287.8,403.29 1288.8,403.07 1289.8,402.87 1290.8,402.71 1291.8,402.62 1292.4,402.6 1292.8,402.6 1293.8,402.63 1294.8,402.69 1295.8,402.79 1296.8,402.91 1297.8,403.05 1298.1,403.1 1298.8,403.36 1299.8,404.1 1300.8,405.02 1301.8,405.87 1302,406 1302.8,406.56 1303.8,407.28 1304.8,407.86 1305.8,408.1 1306.8,408.09 1307.8,408.05 1308.8,407.98 1309.7,407.9 1309.8,407.88 1310.8,407.23 1311.8,406.02 1312.8,404.75 1313.5,404.1 1313.8,403.89 1314.8,403.19 1315.8,402.5 1316.8,401.87 1317.8,401.34 1318.8,400.95 1319.8,400.73 1320.3,400.7 1320.8,400.8 1321.8,401.49 1322.8,402.51 1323.8,403.49 1324.8,404.06 1325.1,404.1 1325.8,404.07 1326.8,403.95 1327.8,403.74 1328.8,403.45 1329.8,403.11 1330.8,402.72 1331.8,402.3 1332.8,401.55 1333.8,400.33 1334.8,398.85 1335.8,397.34 1336.8,396.03 1337.8,395.15 1338.6,394.9 1338.8,394.9 1339.8,394.96 1340.8,395.1 1341.8,395.28 1342.4,395.4 1342.8,395.53 1343.8,396.14 1344.8,396.98 1345.8,397.76 1346.8,398.25 1347.2,398.3 1347.8,398.3 1348.8,398.3 1349.8,398.3 1350.8,398.3 1351.8,398.3 1352.8,398.3 1353,398.3 1353.8,398.09 1354.8,397.31 1355.8,396.14 1356.8,394.74 1357.8,393.31 1358.8,392.01 1359.7,391.1 1359.8,391.02 1360.8,390.25 1361.8,389.56 1362.8,388.93 1363.5,388.5 1363.8,388.33 1364.8,387.86 1365.8,387.45 1366.8,387.02 1367.8,386.44 1368.6,385.8 1368.8,385.58 1369.8,383.6 1370.8,380.61 1371.8,377.24 1372.5,375 1372.8,374.09 1373.8,370.87 1374.8,367.52 1375.8,364.2 1376.3,362.6 1376.8,361.08 1377.8,358.25 1378.8,355.61 1379.8,353.01 1380.8,350.32 1381.8,347.41 1382.8,344.12"/>
<polyline fill="none" stroke="#a8a8a8" stroke-width="1.15" stroke-linejoin="round" stroke-linecap="round"  points="1382.8,344.12 1383.8,340.33 1384,339.5 1384.8,335.66 1385.8,329.74 1386.8,322.9 1387.8,315.46 1388.8,307.77 1389.8,300.18 1390.4,295.8 1390.8,292.97 1391.8,285.97 1392.8,278.92 1393.8,271.63 1394.8,263.87 1395.6,257.2 1395.8,255.46 1396.8,246.39 1397.8,236.54 1398.8,225.69 1399.4,218.6 1399.8,213.19 1400.8,197.1 1401.8,182.27 1402,180 1402.8,172.32 1403.8,164.31 1404.8,157.17 1405.8,149.96 1405.9,149.2 1406.8,142.02 1407.8,133.87 1408.8,126.38 1409.7,120.9 1409.8,120.38 1410.8,115.41 1411.8,111 1412.8,107.44"/>
<polyline fill="none" stroke="#2b2b2b" stroke-width="1.15" stroke-linejoin="round" stroke-linecap="round" stroke-dasharray="7,3.2" points="1382.8,344.12 1383.8,340.33 1384,339.5 1384.8,335.66 1385.8,329.74 1386.8,322.9 1387.8,315.46 1388.8,307.77 1389.8,300.18 1390.4,295.8 1390.8,292.97 1391.8,285.97 1392.8,278.92 1393.8,271.63 1394.8,263.87 1395.6,257.2 1395.8,255.46 1396.8,246.39 1397.8,236.54 1398.8,225.69 1399.4,218.6 1399.8,213.19 1400.8,197.1 1401.8,182.27 1402,180 1402.8,172.32 1403.8,164.31 1404.8,157.17 1405.8,149.96 1405.9,149.2 1406.8,142.02 1407.8,133.87 1408.8,126.38 1409.7,120.9 1409.8,120.38 1410.8,115.41 1411.8,111 1412.8,107.44"/>
<polyline fill="none" stroke="#2b2b2b" stroke-width="1.15" stroke-linejoin="round" stroke-linecap="round"  points="1412.8,107.44 1413.6,105.4 1413.8,104.99 1414.8,103.03 1415.8,101.49 1416.8,100.81 1416.9,100.8 1417.8,101.63 1418.8,104.05 1419.8,107.31 1420,108"/>
<polyline fill="none" stroke="#a8a8a8" stroke-width="1.15" stroke-linejoin="round" stroke-linecap="round"  points="1420,108 1420.8,111.64 1421.8,118.2 1422.8,126.11 1423.1,128.6 1423.8,135.11 1424.8,146.21 1425.8,158.48 1426.5,167.2 1426.8,170.96 1427.8,184.16 1428.8,197.98 1429.8,211.83 1430.3,218.6 1430.8,225.35 1431.8,239.07 1432.8,252.59 1433.8,265.29 1434.2,270 1434.8,276.77 1435.8,287.54 1436.8,297.6 1437.8,306.85 1438,308.6 1438.8,315.37 1439.8,323.42 1440.8,330.99 1441.8,338.08 1442.8,344.69 1443.2,347.2 1443.8,350.89 1444.8,356.92 1445.8,362.72 1446.8,368.17 1447.8,373.15 1448.8,377.56 1449.6,380.6"/>
<polyline fill="none" stroke="#2b2b2b" stroke-width="1.15" stroke-linejoin="round" stroke-linecap="round" stroke-dasharray="7,3.2" points="1420,108 1420.8,111.64 1421.8,118.2 1422.8,126.11 1423.1,128.6 1423.8,135.11 1424.8,146.21 1425.8,158.48 1426.5,167.2 1426.8,170.96 1427.8,184.16 1428.8,197.98 1429.8,211.83 1430.3,218.6 1430.8,225.35 1431.8,239.07 1432.8,252.59 1433.8,265.29 1434.2,270 1434.8,276.77 1435.8,287.54 1436.8,297.6 1437.8,306.85 1438,308.6 1438.8,315.37 1439.8,323.42 1440.8,330.99 1441.8,338.08 1442.8,344.69 1443.2,347.2 1443.8,350.89 1444.8,356.92 1445.8,362.72 1446.8,368.17 1447.8,373.15 1448.8,377.56 1449.6,380.6"/>
<polyline fill="none" stroke="#2b2b2b" stroke-width="1.15" stroke-linejoin="round" stroke-linecap="round"  points="1449.6,380.6 1449.8,381.29 1450.8,384.57 1451.8,387.49 1452.8,390.03 1453.8,392.13 1454,392.5 1454.8,393.83 1455.8,395.26 1456.8,396.52 1457.8,397.68 1458.6,398.6 1458.8,398.83 1459.8,400.02 1460.8,401.23 1461.8,402.41 1462.8,403.53 1463.8,404.54 1464.8,405.42 1465.8,406.13 1466.3,406.4 1466.8,406.64 1467.8,407.08 1468.8,407.47 1469.8,407.82 1470.8,408.12 1471.8,408.4 1472.8,408.64 1473.8,408.86 1474,408.9 1474.8,409.05 1475.8,409.22 1476.8,409.37 1477.8,409.51 1478.8,409.64 1479.8,409.77 1480,409.8 1480.8,409.89 1481.8,409.99 1482.8,410.1 1483.8,410.24 1484.1,410.3 1484.8,410.56 1485.8,411.25 1486.8,412.11 1487.8,412.88 1488.8,413.35 1489.2,413.4 1489.8,413.4 1490.8,413.4 1491.8,413.4 1492.8,413.4 1493.8,413.4 1494.8,413.4 1495.3,413.4 1495.8,413.35 1496.8,413 1497.8,412.46 1498.8,411.9 1499.8,411.5 1500.5,411.4 1500.8,411.41 1501.8,411.63 1502.8,412.04 1503.8,412.52 1504.8,412.98 1505.8,413.31 1506.6,413.4 1506.8,413.39 1507.8,413.12 1508.8,412.6 1509.8,412.03 1510.8,411.56 1511.7,411.4 1511.8,411.41 1512.8,411.95 1513.8,413.1 1514.8,414.43 1515.8,415.54 1516.8,416 1517.8,415.76 1518.8,415.13 1519.8,414.27 1520.8,413.32 1521.8,412.43 1522.8,411.74 1523.8,411.41 1524,411.4 1524.8,411.74 1525.8,412.86 1526.8,414.33 1527.8,415.68 1528.1,416 1528.8,416.73 1529.8,417.83 1530.8,418.69 1531.7,419 1531.8,419 1532.8,418.68 1533.8,417.98 1534.8,417.06 1535.8,416.11 1536.8,415.3 1537.3,415 1537.8,414.74 1538.8,414.21 1539.8,413.75 1540.8,413.46 1541.4,413.4 1541.8,413.44 1542.8,413.81 1543.8,414.46 1544.8,415.22 1545.8,415.91 1546.8,416.39 1547.5,416.5 1547.8,416.5 1548.8,416.5 1549.8,416.5 1550.8,416.5 1551.8,416.5 1552.8,416.5 1553.8,416.5 1554.7,416.5 1554.8,416.5 1555.8,416.28 1556.8,415.79 1557.8,415.17 1558.8,414.56 1559.8,414.09 1560.8,413.9 1561.8,414.04 1562.8,414.39 1563.8,414.88 1564.8,415.42 1565.8,415.92 1566.8,416.31 1567.8,416.49 1568,416.5 1568.8,416.36 1569.8,415.87 1570.8,415.12 1571.8,414.23 1572.8,413.3 1573.8,412.45 1574.8,411.8 1575.8,411.44 1576.2,411.4 1576.8,411.52 1577.8,412.18 1578.8,413.19 1579.8,414.32 1580.8,415.3 1581.8,415.91 1582.3,416 1582.8,415.97 1583.8,415.76 1584.8,415.42 1585.8,414.99 1586.8,414.56 1587.8,414.2 1588.8,413.96 1589.5,413.9 1589.8,413.9 1590.8,413.92 1591.8,413.95 1592.8,414 1593.8,414.07 1594.8,414.14 1595.8,414.23 1596.8,414.32 1597.6,414.4 1597.8,414.42 1598.8,414.61 1599.8,414.89 1600.8,415.23 1601.8,415.59 1602.8,415.93 1603.8,416.22 1604.8,416.42 1605.8,416.5 1606.8,416.36 1607.8,416.01 1608.8,415.52 1609.8,414.98 1610.8,414.48 1611.8,414.09 1612.8,413.91 1613,413.9 1613.8,413.96 1614.8,414.16 1615.8,414.46 1616.8,414.81 1617.8,415.15 1618.8,415.43 1619.1,415.5 1619.8,415.65 1620.8,415.86 1621.8,416.08 1622.8,416.26 1623.8,416.41 1624.8,416.49 1625.3,416.5 1625.8,416.45 1626.8,416.11 1627.8,415.55 1628.8,414.91 1629.8,414.34 1630.8,413.97 1631.4,413.9 1631.8,413.9 1632.8,413.9 1633.8,413.9 1634.8,413.9 1635.8,413.9 1636.8,413.9 1637.8,413.9 1638.5,413.9 1638.8,413.99 1639.8,415.19 1640.6,416.5"/>
<text x="1183.3" y="127.4" font-family='"Liberation Sans", Arial, sans-serif' font-size="22.5" font-weight="normal" fill="#1e1e1e" text-anchor="middle" textLength="59" lengthAdjust="spacingAndGlyphs" >372.7</text>
<line x1="1177.6" y1="135.5" x2="1177.6" y2="172" stroke="#1a1a1a" stroke-width="1.15"/>
<polygon points="1174.5,171 1180.7,171 1177.6,181.5" fill="#1a1a1a"/>
<text x="1416.4" y="49" font-family='"Liberation Sans", Arial, sans-serif' font-size="22.5" font-weight="normal" fill="#1e1e1e" text-anchor="middle" textLength="58.2" lengthAdjust="spacingAndGlyphs" >366.7</text>
<line x1="1416.4" y1="53" x2="1416.4" y2="89.3" stroke="#1a1a1a" stroke-width="1.15"/>
<polygon points="1413.3,88.3 1419.5,88.3 1416.4,98.8" fill="#1a1a1a"/>
<text x="1207.0" y="184.3" font-family='"Liberation Sans", Arial, sans-serif' font-size="22" fill="#1e1e1e"><tspan textLength="60" lengthAdjust="spacingAndGlyphs">Ag 3d</tspan><tspan font-size="14" dy="8.6" dx="0.5" textLength="20.5" lengthAdjust="spacingAndGlyphs">3/2</tspan></text>
<text x="1457.3" y="82.7" font-family='"Liberation Sans", Arial, sans-serif' font-size="22" fill="#1e1e1e"><tspan textLength="60" lengthAdjust="spacingAndGlyphs">Ag 3d</tspan><tspan font-size="14" dy="8.6" dx="0.5" textLength="20.5" lengthAdjust="spacingAndGlyphs">5/2</tspan></text>
<line x1="129.6" y1="1144.3" x2="129.6" y2="668.18" stroke="#383838" stroke-width="2.0"/>
<line x1="128.6" y1="1144.3" x2="787.2" y2="1144.3" stroke="#383838" stroke-width="2.0"/>
<line x1="119.6" y1="1115.7" x2="129.6" y2="1115.7" stroke="#383838" stroke-width="2.0"/>
<line x1="119.6" y1="1059.76" x2="129.6" y2="1059.76" stroke="#383838" stroke-width="2.0"/>
<line x1="119.6" y1="1003.82" x2="129.6" y2="1003.82" stroke="#383838" stroke-width="2.0"/>
<line x1="119.6" y1="947.88" x2="129.6" y2="947.88" stroke="#383838" stroke-width="2.0"/>
<line x1="119.6" y1="891.94" x2="129.6" y2="891.94" stroke="#383838" stroke-width="2.0"/>
<line x1="119.6" y1="836" x2="129.6" y2="836" stroke="#383838" stroke-width="2.0"/>
<line x1="119.6" y1="780.06" x2="129.6" y2="780.06" stroke="#383838" stroke-width="2.0"/>
<line x1="119.6" y1="724.12" x2="129.6" y2="724.12" stroke="#383838" stroke-width="2.0"/>
<line x1="119.6" y1="668.18" x2="129.6" y2="668.18" stroke="#383838" stroke-width="2.0"/>
<line x1="123.6" y1="1143.67" x2="129.6" y2="1143.67" stroke="#383838" stroke-width="2.0"/>
<line x1="123.6" y1="1087.73" x2="129.6" y2="1087.73" stroke="#383838" stroke-width="2.0"/>
<line x1="123.6" y1="1031.79" x2="129.6" y2="1031.79" stroke="#383838" stroke-width="2.0"/>
<line x1="123.6" y1="975.85" x2="129.6" y2="975.85" stroke="#383838" stroke-width="2.0"/>
<line x1="123.6" y1="919.91" x2="129.6" y2="919.91" stroke="#383838" stroke-width="2.0"/>
<line x1="123.6" y1="863.97" x2="129.6" y2="863.97" stroke="#383838" stroke-width="2.0"/>
<line x1="123.6" y1="808.03" x2="129.6" y2="808.03" stroke="#383838" stroke-width="2.0"/>
<line x1="123.6" y1="752.09" x2="129.6" y2="752.09" stroke="#383838" stroke-width="2.0"/>
<line x1="123.6" y1="696.15" x2="129.6" y2="696.15" stroke="#383838" stroke-width="2.0"/>
<text x="112.8" y="1121" font-family='"Liberation Sans", Arial, sans-serif' font-size="18" font-weight="normal" fill="#1e1e1e" text-anchor="end" textLength="53.06" lengthAdjust="spacingAndGlyphs" >25000</text>
<text x="112.8" y="1065.06" font-family='"Liberation Sans", Arial, sans-serif' font-size="18" font-weight="normal" fill="#1e1e1e" text-anchor="end" textLength="53.06" lengthAdjust="spacingAndGlyphs" >30000</text>
<text x="112.8" y="1009.12" font-family='"Liberation Sans", Arial, sans-serif' font-size="18" font-weight="normal" fill="#1e1e1e" text-anchor="end" textLength="53.06" lengthAdjust="spacingAndGlyphs" >35000</text>
<text x="112.8" y="953.18" font-family='"Liberation Sans", Arial, sans-serif' font-size="18" font-weight="normal" fill="#1e1e1e" text-anchor="end" textLength="53.06" lengthAdjust="spacingAndGlyphs" >40000</text>
<text x="112.8" y="897.24" font-family='"Liberation Sans", Arial, sans-serif' font-size="18" font-weight="normal" fill="#1e1e1e" text-anchor="end" textLength="53.06" lengthAdjust="spacingAndGlyphs" >45000</text>
<text x="112.8" y="841.3" font-family='"Liberation Sans", Arial, sans-serif' font-size="18" font-weight="normal" fill="#1e1e1e" text-anchor="end" textLength="53.06" lengthAdjust="spacingAndGlyphs" >50000</text>
<text x="112.8" y="785.36" font-family='"Liberation Sans", Arial, sans-serif' font-size="18" font-weight="normal" fill="#1e1e1e" text-anchor="end" textLength="53.06" lengthAdjust="spacingAndGlyphs" >55000</text>
<text x="112.8" y="729.42" font-family='"Liberation Sans", Arial, sans-serif' font-size="18" font-weight="normal" fill="#1e1e1e" text-anchor="end" textLength="53.06" lengthAdjust="spacingAndGlyphs" >60000</text>
<text x="112.8" y="673.48" font-family='"Liberation Sans", Arial, sans-serif' font-size="18" font-weight="normal" fill="#1e1e1e" text-anchor="end" textLength="53.06" lengthAdjust="spacingAndGlyphs" >65000</text>
<line x1="786.72" y1="1144.3" x2="786.72" y2="1154.3" stroke="#383838" stroke-width="2.0"/>
<line x1="677.2" y1="1144.3" x2="677.2" y2="1154.3" stroke="#383838" stroke-width="2.0"/>
<line x1="567.68" y1="1144.3" x2="567.68" y2="1154.3" stroke="#383838" stroke-width="2.0"/>
<line x1="458.16" y1="1144.3" x2="458.16" y2="1154.3" stroke="#383838" stroke-width="2.0"/>
<line x1="348.64" y1="1144.3" x2="348.64" y2="1154.3" stroke="#383838" stroke-width="2.0"/>
<line x1="239.12" y1="1144.3" x2="239.12" y2="1154.3" stroke="#383838" stroke-width="2.0"/>
<line x1="129.6" y1="1144.3" x2="129.6" y2="1154.3" stroke="#383838" stroke-width="2.0"/>
<line x1="731.96" y1="1144.3" x2="731.96" y2="1149.8" stroke="#383838" stroke-width="2.0"/>
<line x1="622.44" y1="1144.3" x2="622.44" y2="1149.8" stroke="#383838" stroke-width="2.0"/>
<line x1="512.92" y1="1144.3" x2="512.92" y2="1149.8" stroke="#383838" stroke-width="2.0"/>
<line x1="403.4" y1="1144.3" x2="403.4" y2="1149.8" stroke="#383838" stroke-width="2.0"/>
<line x1="293.88" y1="1144.3" x2="293.88" y2="1149.8" stroke="#383838" stroke-width="2.0"/>
<line x1="184.36" y1="1144.3" x2="184.36" y2="1149.8" stroke="#383838" stroke-width="2.0"/>
<text x="786.72" y="1174.3" font-family='"Liberation Sans", Arial, sans-serif' font-size="18" font-weight="normal" fill="#1e1e1e" text-anchor="middle" textLength="31.83" lengthAdjust="spacingAndGlyphs" >526</text>
<text x="677.2" y="1174.3" font-family='"Liberation Sans", Arial, sans-serif' font-size="18" font-weight="normal" fill="#1e1e1e" text-anchor="middle" textLength="31.83" lengthAdjust="spacingAndGlyphs" >528</text>
<text x="567.68" y="1174.3" font-family='"Liberation Sans", Arial, sans-serif' font-size="18" font-weight="normal" fill="#1e1e1e" text-anchor="middle" textLength="31.83" lengthAdjust="spacingAndGlyphs" >530</text>
<text x="458.16" y="1174.3" font-family='"Liberation Sans", Arial, sans-serif' font-size="18" font-weight="normal" fill="#1e1e1e" text-anchor="middle" textLength="31.83" lengthAdjust="spacingAndGlyphs" >532</text>
<text x="348.64" y="1174.3" font-family='"Liberation Sans", Arial, sans-serif' font-size="18" font-weight="normal" fill="#1e1e1e" text-anchor="middle" textLength="31.83" lengthAdjust="spacingAndGlyphs" >534</text>
<text x="239.12" y="1174.3" font-family='"Liberation Sans", Arial, sans-serif' font-size="18" font-weight="normal" fill="#1e1e1e" text-anchor="middle" textLength="31.83" lengthAdjust="spacingAndGlyphs" >536</text>
<text x="129.6" y="1174.3" font-family='"Liberation Sans", Arial, sans-serif' font-size="18" font-weight="normal" fill="#1e1e1e" text-anchor="middle" textLength="31.83" lengthAdjust="spacingAndGlyphs" >538</text>
<text x="458.4" y="1210" font-family='"Liberation Sans", Arial, sans-serif' font-size="23" font-weight="normal" fill="#1e1e1e" text-anchor="middle" textLength="196" lengthAdjust="spacingAndGlyphs" >Binding energy /eV</text>
<text transform="translate(24.9,922.2) rotate(-90)" font-family='"Liberation Sans", Arial, sans-serif' font-size="22" font-weight="normal" fill="#1e1e1e" text-anchor="middle" textLength="94" lengthAdjust="spacingAndGlyphs" >Counts /s</text>
<text x="403.2" y="1262" font-family='"Liberation Serif", "Times New Roman", serif' font-size="37" font-weight="bold" fill="#1a1a1a" text-anchor="middle" ><tspan font-weight="normal">(</tspan>c<tspan font-weight="normal">)</tspan></text>
<text x="200.3" y="703.6" font-family='"Liberation Sans", Arial, sans-serif' font-size="21" font-weight="normal" fill="#1e1e1e" text-anchor="start" textLength="43" lengthAdjust="spacingAndGlyphs" >O1s</text>
<polyline fill="none" stroke="#23238a" stroke-width="1.3" stroke-linejoin="round" stroke-linecap="round"  points="262.12,1088.07 263.21,1088.07 264.31,1088.07 265.4,1088.07 266.5,1088.07 267.6,1088.07 268.69,1088.07 269.79,1088.07 270.88,1088.07 271.98,1088.07 273.07,1088.07 274.17,1088.07 275.26,1088.07 276.36,1088.07 277.45,1088.07 278.55,1088.07 279.64,1088.07 280.74,1088.07 281.83,1088.07 282.93,1088.07 284.02,1088.07 285.12,1088.07 286.21,1088.07 287.31,1088.07 288.4,1088.07 289.5,1088.07 290.59,1088.08 291.69,1088.08 292.78,1088.08 293.88,1088.08 294.98,1088.08 296.07,1088.08 297.17,1088.08 298.26,1088.08 299.36,1088.08 300.45,1088.08 301.55,1088.08 302.64,1088.08 303.74,1088.09 304.83,1088.09 305.93,1088.09 307.02,1088.09 308.12,1088.09 309.21,1088.09 310.31,1088.09 311.4,1088.1 312.5,1088.1 313.59,1088.1 314.69,1088.1 315.78,1088.1 316.88,1088.11 317.97,1088.11 319.07,1088.11 320.16,1088.11 321.26,1088.12 322.36,1088.12 323.45,1088.12 324.55,1088.13 325.64,1088.13 326.74,1088.13 327.83,1088.14 328.93,1088.14 330.02,1088.15 331.12,1088.15 332.21,1088.16 333.31,1088.16 334.4,1088.17 335.5,1088.17 336.59,1088.18 337.69,1088.18 338.78,1088.19 339.88,1088.19 340.97,1088.2 342.07,1088.21 343.16,1088.21 344.26,1088.22 345.35,1088.23 346.45,1088.24 347.54,1088.24 348.64,1088.25 349.74,1088.26 350.83,1088.27 351.93,1088.28 353.02,1088.28 354.12,1088.29 355.21,1088.3 356.31,1088.31 357.4,1088.32 358.5,1088.33 359.59,1088.34 360.69,1088.35 361.78,1088.36 362.88,1088.37 363.97,1088.38 365.07,1088.39 366.16,1088.4 367.26,1088.41 368.35,1088.42 369.45,1088.43 370.54,1088.44 371.64,1088.46 372.73,1088.47 373.83,1088.48 374.92,1088.49 376.02,1088.5 377.12,1088.51 378.21,1088.52 379.31,1088.54 380.4,1088.55 381.5,1088.56 382.59,1088.57 383.69,1088.58 384.78,1088.6 385.88,1088.61 386.97,1088.62 388.07,1088.63 389.16,1088.65 390.26,1088.66 391.35,1088.67 392.45,1088.69 393.54,1088.7 394.64,1088.71 395.73,1088.73 396.83,1088.74 397.92,1088.76 399.02,1088.77 400.11,1088.79 401.21,1088.8 402.3,1088.82 403.4,1088.83 404.5,1088.85 405.59,1088.86 406.69,1088.88 407.78,1088.9 408.88,1088.91 409.97,1088.93 411.07,1088.95 412.16,1088.97 413.26,1088.98 414.35,1089 415.45,1089.02 416.54,1089.04 417.64,1089.06 418.73,1089.08 419.83,1089.1 420.92,1089.13 422.02,1089.15 423.11,1089.17 424.21,1089.19 425.3,1089.22 426.4,1089.24 427.49,1089.26 428.59,1089.29 429.68,1089.31 430.78,1089.34 431.88,1089.37 432.97,1089.39 434.07,1089.42 435.16,1089.45 436.26,1089.48 437.35,1089.5 438.45,1089.53 439.54,1089.56 440.64,1089.59 441.73,1089.62 442.83,1089.66 443.92,1089.69 445.02,1089.72 446.11,1089.75 447.21,1089.79 448.3,1089.82 449.4,1089.85 450.49,1089.89 451.59,1089.93 452.68,1089.96 453.78,1090 454.87,1090.03 455.97,1090.07 457.06,1090.11 458.16,1090.15 459.26,1090.19 460.35,1090.23 461.45,1090.26 462.54,1090.3 463.64,1090.35 464.73,1090.39 465.83,1090.43 466.92,1090.47 468.02,1090.51 469.11,1090.55 470.21,1090.6 471.3,1090.64 472.4,1090.68 473.49,1090.73 474.59,1090.77 475.68,1090.82 476.78,1090.86 477.87,1090.91 478.97,1090.95 480.06,1091 481.16,1091.04 482.25,1091.09 483.35,1091.14 484.44,1091.18 485.54,1091.23 486.64,1091.28 487.73,1091.33 488.83,1091.38 489.92,1091.43 491.02,1091.47 492.11,1091.52 493.21,1091.57 494.3,1091.62 495.4,1091.67 496.49,1091.72 497.59,1091.77 498.68,1091.82 499.78,1091.87 500.87,1091.92 501.97,1091.97 503.06,1092.03 504.16,1092.08 505.25,1092.13 506.35,1092.18 507.44,1092.23 508.54,1092.29 509.63,1092.34 510.73,1092.39 511.82,1092.44 512.92,1092.5 514.02,1092.55 515.11,1092.61 516.21,1092.66 517.3,1092.71 518.4,1092.77 519.49,1092.82 520.59,1092.88 521.68,1092.94 522.78,1092.99 523.87,1093.05 524.97,1093.1 526.06,1093.16 527.16,1093.22 528.25,1093.28 529.35,1093.34 530.44,1093.39 531.54,1093.45 532.63,1093.51 533.73,1093.57 534.82,1093.63 535.92,1093.69 537.01,1093.75 538.11,1093.81 539.2,1093.88 540.3,1093.94 541.4,1094 542.49,1094.06 543.59,1094.13 544.68,1094.19 545.78,1094.25 546.87,1094.32 547.97,1094.38 549.06,1094.44 550.16,1094.51 551.25,1094.57 552.35,1094.63 553.44,1094.7 554.54,1094.76 555.63,1094.82 556.73,1094.89 557.82,1094.95 558.92,1095.01 560.01,1095.07 561.11,1095.13 562.2,1095.2 563.3,1095.26 564.39,1095.31 565.49,1095.37 566.58,1095.43 567.68,1095.49 568.78,1095.55 569.87,1095.6 570.97,1095.66 572.06,1095.71 573.16,1095.76 574.25,1095.81 575.35,1095.86 576.44,1095.91 577.54,1095.96 578.63,1096.01 579.73,1096.05 580.82,1096.09 581.92,1096.14 583.01,1096.18 584.11,1096.22 585.2,1096.26 586.3,1096.29 587.39,1096.33 588.49,1096.36 589.58,1096.4 590.68,1096.43 591.77,1096.46 592.87,1096.49 593.96,1096.52 595.06,1096.55 596.16,1096.57 597.25,1096.6 598.35,1096.62 599.44,1096.64 600.54,1096.66 601.63,1096.68 602.73,1096.7 603.82,1096.72 604.92,1096.74 606.01,1096.76 607.11,1096.77 608.2,1096.79 609.3,1096.8 610.39,1096.81 611.49,1096.83 612.58,1096.84 613.68,1096.85 614.77,1096.86 615.87,1096.87 616.96,1096.88 618.06,1096.89 619.15,1096.9 620.25,1096.91 621.34,1096.91 622.44,1096.92 623.54,1096.93 624.63,1096.93 625.73,1096.94 626.82,1096.95 627.92,1096.95 629.01,1096.96 630.11,1096.96 631.2,1096.97 632.3,1096.97 633.39,1096.97 634.49,1096.98 635.58,1096.98 636.68,1096.98 637.77,1096.99 638.87,1096.99 639.96,1096.99 641.06,1097 642.15,1097 643.25,1097 644.34,1097 645.44,1097.01 646.53,1097.01 647.63,1097.01 648.72,1097.01 649.82,1097.01 650.92,1097.02 652.01,1097.02 653.11,1097.02 654.2,1097.02 655.3,1097.02 656.39,1097.02 657.49,1097.03 658.58,1097.03 659.68,1097.03 660.77,1097.03 661.87,1097.03 662.96,1097.03"/>
<polyline fill="none" stroke="#3a9a3a" stroke-width="1.15" stroke-linejoin="round" stroke-linecap="round"  points="262.12,1087.76 262.67,1087.75 263.21,1087.74 263.76,1087.73 264.31,1087.72 264.86,1087.71 265.4,1087.7 265.95,1087.69 266.5,1087.68 267.05,1087.67 267.6,1087.66 268.14,1087.64 268.69,1087.63 269.24,1087.61 269.79,1087.6 270.33,1087.58 270.88,1087.57 271.43,1087.55 271.98,1087.53 272.52,1087.51 273.07,1087.49 273.62,1087.47 274.17,1087.45 274.71,1087.42 275.26,1087.4 275.81,1087.37 276.36,1087.35 276.9,1087.32 277.45,1087.29 278,1087.26 278.55,1087.23 279.09,1087.19 279.64,1087.16 280.19,1087.12 280.74,1087.08 281.29,1087.04 281.83,1086.99 282.38,1086.95 282.93,1086.9 283.48,1086.85 284.02,1086.8 284.57,1086.75 285.12,1086.69 285.67,1086.63 286.21,1086.57 286.76,1086.51 287.31,1086.44 287.86,1086.37 288.4,1086.3 288.95,1086.22 289.5,1086.14 290.05,1086.06 290.59,1085.98 291.14,1085.89 291.69,1085.8 292.24,1085.7 292.78,1085.6 293.33,1085.5 293.88,1085.39 294.43,1085.28 294.98,1085.16 295.52,1085.04 296.07,1084.92 296.62,1084.79 297.17,1084.65 297.71,1084.51 298.26,1084.37 298.81,1084.22 299.36,1084.07 299.9,1083.91 300.45,1083.74 301,1083.57 301.55,1083.4 302.09,1083.21 302.64,1083.03 303.19,1082.83 303.74,1082.63 304.28,1082.43 304.83,1082.22 305.38,1082 305.93,1081.77 306.47,1081.54 307.02,1081.31 307.57,1081.06 308.12,1080.81 308.67,1080.55 309.21,1080.29 309.76,1080.02 310.31,1079.74 310.86,1079.45 311.4,1079.16 311.95,1078.86 312.5,1078.55 313.05,1078.24 313.59,1077.92 314.14,1077.59 314.69,1077.25 315.24,1076.91 315.78,1076.56 316.33,1076.2 316.88,1075.83 317.43,1075.46 317.97,1075.08 318.52,1074.7 319.07,1074.3 319.62,1073.9 320.16,1073.5 320.71,1073.08 321.26,1072.66 321.81,1072.23 322.36,1071.8 322.9,1071.36 323.45,1070.91 324,1070.46 324.55,1070 325.09,1069.54 325.64,1069.07 326.19,1068.6 326.74,1068.12 327.28,1067.63 327.83,1067.14 328.38,1066.65 328.93,1066.15 329.47,1065.65 330.02,1065.15 330.57,1064.64 331.12,1064.13 331.66,1063.61 332.21,1063.1 332.76,1062.58 333.31,1062.06 333.85,1061.54 334.4,1061.02 334.95,1060.49 335.5,1059.97 336.05,1059.44 336.59,1058.92 337.14,1058.4 337.69,1057.88 338.24,1057.36 338.78,1056.84 339.33,1056.33 339.88,1055.81 340.43,1055.31 340.97,1054.8 341.52,1054.3 342.07,1053.8 342.62,1053.31 343.16,1052.82 343.71,1052.34 344.26,1051.87 344.81,1051.4 345.35,1050.94 345.9,1050.49 346.45,1050.05 347,1049.61 347.54,1049.19 348.09,1048.77 348.64,1048.36 349.19,1047.96 349.74,1047.58 350.28,1047.2 350.83,1046.84 351.38,1046.49 351.93,1046.15 352.47,1045.82 353.02,1045.51 353.57,1045.21 354.12,1044.92 354.66,1044.65 355.21,1044.39 355.76,1044.14 356.31,1043.92 356.85,1043.7 357.4,1043.5 357.95,1043.32 358.5,1043.15 359.04,1043 359.59,1042.87 360.14,1042.75 360.69,1042.65 361.23,1042.56 361.78,1042.5 362.33,1042.45 362.88,1042.41 363.43,1042.4 363.97,1042.4 364.52,1042.41 365.07,1042.45 365.62,1042.5 366.16,1042.57 366.71,1042.66 367.26,1042.76 367.81,1042.88 368.35,1043.01 368.9,1043.16 369.45,1043.33 370,1043.52 370.54,1043.72 371.09,1043.93 371.64,1044.16 372.19,1044.41 372.73,1044.67 373.28,1044.95 373.83,1045.24 374.38,1045.54 374.92,1045.86 375.47,1046.19 376.02,1046.53 376.57,1046.89 377.12,1047.25 377.66,1047.63 378.21,1048.02 378.76,1048.42 379.31,1048.83 379.85,1049.26 380.4,1049.69 380.95,1050.13 381.5,1050.58 382.04,1051.03 382.59,1051.5 383.14,1051.97 383.69,1052.45 384.23,1052.94 384.78,1053.43 385.33,1053.93 385.88,1054.43 386.42,1054.94 386.97,1055.45 387.52,1055.97 388.07,1056.49 388.61,1057.01 389.16,1057.54 389.71,1058.07 390.26,1058.6 390.81,1059.13 391.35,1059.66 391.9,1060.19 392.45,1060.73 393,1061.26 393.54,1061.79 394.09,1062.32 394.64,1062.85 395.19,1063.38 395.73,1063.91 396.28,1064.43 396.83,1064.96 397.38,1065.47 397.92,1065.99 398.47,1066.5 399.02,1067.01 399.57,1067.52 400.11,1068.02 400.66,1068.51 401.21,1069.01 401.76,1069.49 402.3,1069.97 402.85,1070.45 403.4,1070.92 403.95,1071.39 404.5,1071.84 405.04,1072.3 405.59,1072.74 406.14,1073.18 406.69,1073.62 407.23,1074.05 407.78,1074.47 408.33,1074.88 408.88,1075.29 409.42,1075.69 409.97,1076.08 410.52,1076.47 411.07,1076.85 411.61,1077.22 412.16,1077.58 412.71,1077.94 413.26,1078.29 413.8,1078.63 414.35,1078.97 414.9,1079.3 415.45,1079.62 415.99,1079.94 416.54,1080.24 417.09,1080.54 417.64,1080.84 418.19,1081.12 418.73,1081.4 419.28,1081.68 419.83,1081.94 420.38,1082.2 420.92,1082.45 421.47,1082.7 422.02,1082.94 422.57,1083.17 423.11,1083.4 423.66,1083.62 424.21,1083.83 424.76,1084.04 425.3,1084.25 425.85,1084.44 426.4,1084.63 426.95,1084.82 427.49,1085 428.04,1085.17 428.59,1085.34 429.14,1085.51 429.68,1085.67 430.23,1085.82 430.78,1085.97 431.33,1086.12 431.88,1086.26 432.42,1086.4 432.97,1086.53 433.52,1086.66 434.07,1086.78 434.61,1086.9 435.16,1087.02 435.71,1087.13 436.26,1087.24 436.8,1087.34 437.35,1087.45 437.9,1087.54 438.45,1087.64 438.99,1087.73 439.54,1087.82 440.09,1087.91 440.64,1087.99 441.18,1088.07 441.73,1088.15 442.28,1088.23 442.83,1088.3 443.37,1088.37 443.92,1088.44 444.47,1088.51 445.02,1088.57 445.57,1088.64 446.11,1088.7 446.66,1088.76 447.21,1088.81 447.76,1088.87 448.3,1088.92 448.85,1088.97 449.4,1089.03 449.95,1089.07 450.49,1089.12 451.04,1089.17 451.59,1089.22 452.14,1089.26 452.68,1089.3 453.23,1089.35 453.78,1089.39 454.33,1089.43 454.87,1089.47 455.42,1089.5 455.97,1089.54 456.52,1089.58 457.06,1089.62 457.61,1089.65 458.16,1089.69 458.71,1089.72 459.26,1089.75 459.8,1089.79 460.35,1089.82 460.9,1089.85 461.45,1089.88 461.99,1089.91 462.54,1089.94 463.09,1089.97 463.64,1090 464.18,1090.03 464.73,1090.06 465.28,1090.09 465.83,1090.12 466.37,1090.15 466.92,1090.18 467.47,1090.2 468.02,1090.23 468.56,1090.26 469.11,1090.29 469.66,1090.31 470.21,1090.34 470.75,1090.37 471.3,1090.39 471.85,1090.42 472.4,1090.45 472.95,1090.47 473.49,1090.5 474.04,1090.52 474.59,1090.55 475.14,1090.58 475.68,1090.6 476.23,1090.63 476.78,1090.65 477.33,1090.68 477.87,1090.7 478.42,1090.73 478.97,1090.76 479.52,1090.78 480.06,1090.81 480.61,1090.83 481.16,1090.86 481.71,1090.88 482.25,1090.91 482.8,1090.93 483.35,1090.96 483.9,1090.99 484.44,1091.01 484.99,1091.04 485.54,1091.06 486.09,1091.09 486.64,1091.11 487.18,1091.14 487.73,1091.17 488.28,1091.19 488.83,1091.22 489.37,1091.24 489.92,1091.27 490.47,1091.29 491.02,1091.32 491.56,1091.35 492.11,1091.37 492.66,1091.4 493.21,1091.42 493.75,1091.45 494.3,1091.48 494.85,1091.5 495.4,1091.53 495.94,1091.55 496.49,1091.58 497.04,1091.61 497.59,1091.63 498.13,1091.66 498.68,1091.69 499.23,1091.71 499.78,1091.74 500.33,1091.76 500.87,1091.79 501.42,1091.82 501.97,1091.84 502.52,1091.87 503.06,1091.9 503.61,1091.92 504.16,1091.95 504.71,1091.98 505.25,1092 505.8,1092.03 506.35,1092.06 506.9,1092.09 507.44,1092.11 507.99,1092.14 508.54,1092.17 509.09,1092.19 509.63,1092.22 510.18,1092.25 510.73,1092.28 511.28,1092.3 511.82,1092.33 512.37,1092.36 512.92,1092.39 513.47,1092.41 514.02,1092.44 514.56,1092.47 515.11,1092.5 515.66,1092.52 516.21,1092.55 516.75,1092.58 517.3,1092.61 517.85,1092.64 518.4,1092.66 518.94,1092.69 519.49,1092.72 520.04,1092.75 520.59,1092.78 521.13,1092.81 521.68,1092.83 522.23,1092.86 522.78,1092.89 523.32,1092.92 523.87,1092.95 524.42,1092.98 524.97,1093.01 525.51,1093.04 526.06,1093.07 526.61,1093.1 527.16,1093.12 527.71,1093.15 528.25,1093.18 528.8,1093.21 529.35,1093.24 529.9,1093.27 530.44,1093.3 530.99,1093.33 531.54,1093.36 532.09,1093.39 532.63,1093.42 533.18,1093.45 533.73,1093.48 534.28,1093.52 534.82,1093.55 535.37,1093.58 535.92,1093.61 536.47,1093.64 537.01,1093.67 537.56,1093.7 538.11,1093.73 538.66,1093.76 539.2,1093.79 539.75,1093.83 540.3,1093.86 540.85,1093.89 541.4,1093.92 541.94,1093.95 542.49,1093.98 543.04,1094.02 543.59,1094.05 544.13,1094.08 544.68,1094.11 545.23,1094.14 545.78,1094.18 546.32,1094.21 546.87,1094.24 547.42,1094.27 547.97,1094.3 548.51,1094.34 549.06,1094.37 549.61,1094.4 550.16,1094.43 550.7,1094.46 551.25,1094.5 551.8,1094.53 552.35,1094.56 552.89,1094.59 553.44,1094.63 553.99,1094.66 554.54,1094.69 555.09,1094.72 555.63,1094.75 556.18,1094.79 556.73,1094.82 557.28,1094.85 557.82,1094.88 558.37,1094.91 558.92,1094.94 559.47,1094.98 560.01,1095.01 560.56,1095.04 561.11,1095.07 561.66,1095.1 562.2,1095.13 562.75,1095.16 563.3,1095.19 563.85,1095.22 564.39,1095.25 564.94,1095.28 565.49,1095.31 566.04,1095.34 566.58,1095.37 567.13,1095.4 567.68,1095.43 568.23,1095.46 568.78,1095.48 569.32,1095.51 569.87,1095.54 570.42,1095.57 570.97,1095.6 571.51,1095.62 572.06,1095.65 572.61,1095.68 573.16,1095.7 573.7,1095.73 574.25,1095.75 574.8,1095.78 575.35,1095.81 575.89,1095.83 576.44,1095.85 576.99,1095.88 577.54,1095.9 578.08,1095.93 578.63,1095.95 579.18,1095.97 579.73,1096 580.27,1096.02 580.82,1096.04 581.37,1096.06 581.92,1096.08 582.47,1096.1 583.01,1096.12 583.56,1096.14 584.11,1096.16 584.66,1096.18 585.2,1096.2 585.75,1096.22 586.3,1096.24 586.85,1096.26 587.39,1096.28 587.94,1096.3 588.49,1096.31 589.04,1096.33 589.58,1096.35 590.13,1096.36 590.68,1096.38 591.23,1096.4 591.77,1096.41 592.32,1096.43 592.87,1096.44 593.42,1096.46 593.96,1096.47 594.51,1096.48 595.06,1096.5 595.61,1096.51 596.16,1096.52 596.7,1096.54 597.25,1096.55 597.8,1096.56 598.35,1096.57 598.89,1096.58 599.44,1096.6 599.99,1096.61 600.54,1096.62 601.08,1096.63 601.63,1096.64 602.18,1096.65 602.73,1096.66 603.27,1096.67 603.82,1096.68 604.37,1096.69 604.92,1096.7 605.46,1096.7 606.01,1096.71 606.56,1096.72 607.11,1096.73 607.65,1096.74 608.2,1096.74 608.75,1096.75 609.3,1096.76 609.85,1096.77 610.39,1096.77 610.94,1096.78 611.49,1096.78 612.04,1096.79 612.58,1096.8 613.13,1096.8 613.68,1096.81 614.23,1096.81 614.77,1096.82 615.32,1096.83 615.87,1096.83 616.42,1096.84 616.96,1096.84 617.51,1096.85 618.06,1096.85 618.61,1096.85 619.15,1096.86 619.7,1096.86 620.25,1096.87 620.8,1096.87 621.34,1096.87 621.89,1096.88 622.44,1096.88 622.99,1096.89 623.54,1096.89 624.08,1096.89 624.63,1096.9 625.18,1096.9 625.73,1096.9 626.27,1096.91 626.82,1096.91 627.37,1096.91 627.92,1096.91 628.46,1096.92 629.01,1096.92 629.56,1096.92 630.11,1096.92 630.65,1096.93 631.2,1096.93 631.75,1096.93 632.3,1096.93 632.84,1096.94 633.39,1096.94 633.94,1096.94 634.49,1096.94 635.03,1096.94 635.58,1096.95 636.13,1096.95 636.68,1096.95 637.23,1096.95 637.77,1096.95 638.32,1096.96 638.87,1096.96 639.42,1096.96 639.96,1096.96 640.51,1096.96 641.06,1096.96 641.61,1096.96 642.15,1096.97 642.7,1096.97 643.25,1096.97 643.8,1096.97 644.34,1096.97 644.89,1096.97 645.44,1096.97 645.99,1096.98 646.53,1096.98 647.08,1096.98 647.63,1096.98 648.18,1096.98 648.72,1096.98 649.27,1096.98 649.82,1096.98 650.37,1096.98 650.92,1096.98 651.46,1096.99 652.01,1096.99 652.56,1096.99 653.11,1096.99 653.65,1096.99 654.2,1096.99 654.75,1096.99 655.3,1096.99 655.84,1096.99 656.39,1096.99 656.94,1096.99 657.49,1097 658.03,1097 658.58,1097 659.13,1097 659.68,1097 660.22,1097 660.77,1097 661.32,1097 661.87,1097 662.41,1097 662.96,1097 663.51,1097"/>
<polyline fill="none" stroke="#ff33ff" stroke-width="1.15" stroke-linejoin="round" stroke-linecap="round"  points="262.12,1087.83 262.67,1087.82 263.21,1087.82 263.76,1087.82 264.31,1087.82 264.86,1087.82 265.4,1087.82 265.95,1087.82 266.5,1087.82 267.05,1087.81 267.6,1087.81 268.14,1087.81 268.69,1087.81 269.24,1087.81 269.79,1087.81 270.33,1087.8 270.88,1087.8 271.43,1087.8 271.98,1087.8 272.52,1087.8 273.07,1087.8 273.62,1087.79 274.17,1087.79 274.71,1087.79 275.26,1087.79 275.81,1087.79 276.36,1087.78 276.9,1087.78 277.45,1087.78 278,1087.78 278.55,1087.78 279.09,1087.77 279.64,1087.77 280.19,1087.77 280.74,1087.77 281.29,1087.77 281.83,1087.76 282.38,1087.76 282.93,1087.76 283.48,1087.76 284.02,1087.75 284.57,1087.75 285.12,1087.75 285.67,1087.74 286.21,1087.74 286.76,1087.74 287.31,1087.74 287.86,1087.73 288.4,1087.73 288.95,1087.73 289.5,1087.72 290.05,1087.72 290.59,1087.72 291.14,1087.71 291.69,1087.71 292.24,1087.7 292.78,1087.7 293.33,1087.7 293.88,1087.69 294.43,1087.69 294.98,1087.68 295.52,1087.68 296.07,1087.67 296.62,1087.67 297.17,1087.66 297.71,1087.66 298.26,1087.65 298.81,1087.65 299.36,1087.64 299.9,1087.64 300.45,1087.63 301,1087.62 301.55,1087.62 302.09,1087.61 302.64,1087.6 303.19,1087.59 303.74,1087.59 304.28,1087.58 304.83,1087.57 305.38,1087.56 305.93,1087.55 306.47,1087.54 307.02,1087.53 307.57,1087.52 308.12,1087.51 308.67,1087.5 309.21,1087.49 309.76,1087.48 310.31,1087.47 310.86,1087.46 311.4,1087.44 311.95,1087.43 312.5,1087.42 313.05,1087.4 313.59,1087.39 314.14,1087.37 314.69,1087.35 315.24,1087.34 315.78,1087.32 316.33,1087.3 316.88,1087.28 317.43,1087.26 317.97,1087.24 318.52,1087.22 319.07,1087.2 319.62,1087.18 320.16,1087.16 320.71,1087.13 321.26,1087.11 321.81,1087.08 322.36,1087.05 322.9,1087.03 323.45,1087 324,1086.97 324.55,1086.94 325.09,1086.9 325.64,1086.87 326.19,1086.84 326.74,1086.8 327.28,1086.76 327.83,1086.72 328.38,1086.68 328.93,1086.64 329.47,1086.6 330.02,1086.55 330.57,1086.51 331.12,1086.46 331.66,1086.41 332.21,1086.36 332.76,1086.31 333.31,1086.25 333.85,1086.2 334.4,1086.14 334.95,1086.08 335.5,1086.02 336.05,1085.95 336.59,1085.89 337.14,1085.82 337.69,1085.75 338.24,1085.67 338.78,1085.6 339.33,1085.52 339.88,1085.44 340.43,1085.35 340.97,1085.27 341.52,1085.18 342.07,1085.09 342.62,1084.99 343.16,1084.89 343.71,1084.79 344.26,1084.69 344.81,1084.58 345.35,1084.47 345.9,1084.36 346.45,1084.24 347,1084.12 347.54,1084 348.09,1083.87 348.64,1083.74 349.19,1083.61 349.74,1083.47 350.28,1083.33 350.83,1083.18 351.38,1083.03 351.93,1082.87 352.47,1082.71 353.02,1082.55 353.57,1082.38 354.12,1082.21 354.66,1082.03 355.21,1081.85 355.76,1081.66 356.31,1081.47 356.85,1081.28 357.4,1081.07 357.95,1080.87 358.5,1080.66 359.04,1080.44 359.59,1080.22 360.14,1079.99 360.69,1079.76 361.23,1079.52 361.78,1079.27 362.33,1079.02 362.88,1078.77 363.43,1078.51 363.97,1078.24 364.52,1077.97 365.07,1077.69 365.62,1077.4 366.16,1077.11 366.71,1076.81 367.26,1076.51 367.81,1076.19 368.35,1075.88 368.9,1075.55 369.45,1075.22 370,1074.89 370.54,1074.54 371.09,1074.19 371.64,1073.84 372.19,1073.47 372.73,1073.1 373.28,1072.73 373.83,1072.34 374.38,1071.95 374.92,1071.55 375.47,1071.15 376.02,1070.74 376.57,1070.32 377.12,1069.89 377.66,1069.46 378.21,1069.02 378.76,1068.57 379.31,1068.12 379.85,1067.66 380.4,1067.19 380.95,1066.72 381.5,1066.24 382.04,1065.75 382.59,1065.26 383.14,1064.76 383.69,1064.25 384.23,1063.74 384.78,1063.22 385.33,1062.69 385.88,1062.15 386.42,1061.61 386.97,1061.07 387.52,1060.52 388.07,1059.96 388.61,1059.39 389.16,1058.82 389.71,1058.25 390.26,1057.66 390.81,1057.08 391.35,1056.48 391.9,1055.89 392.45,1055.28 393,1054.68 393.54,1054.06 394.09,1053.44 394.64,1052.82 395.19,1052.19 395.73,1051.56 396.28,1050.93 396.83,1050.29 397.38,1049.65 397.92,1049 398.47,1048.35 399.02,1047.7 399.57,1047.04 400.11,1046.39 400.66,1045.73 401.21,1045.06 401.76,1044.4 402.3,1043.73 402.85,1043.06 403.4,1042.39 403.95,1041.72 404.5,1041.05 405.04,1040.38 405.59,1039.71 406.14,1039.04 406.69,1038.37 407.23,1037.69 407.78,1037.02 408.33,1036.35 408.88,1035.69 409.42,1035.02 409.97,1034.36 410.52,1033.69 411.07,1033.04 411.61,1032.38 412.16,1031.73 412.71,1031.08 413.26,1030.43 413.8,1029.79 414.35,1029.15 414.9,1028.52 415.45,1027.89 415.99,1027.27 416.54,1026.65 417.09,1026.04 417.64,1025.43 418.19,1024.84 418.73,1024.24 419.28,1023.66 419.83,1023.08 420.38,1022.51 420.92,1021.95 421.47,1021.4 422.02,1020.86 422.57,1020.32 423.11,1019.8 423.66,1019.28 424.21,1018.78 424.76,1018.28 425.3,1017.8 425.85,1017.32 426.4,1016.86 426.95,1016.41 427.49,1015.97 428.04,1015.54 428.59,1015.12 429.14,1014.72 429.68,1014.33 430.23,1013.95 430.78,1013.59 431.33,1013.23 431.88,1012.9 432.42,1012.57 432.97,1012.26 433.52,1011.97 434.07,1011.69 434.61,1011.42 435.16,1011.17 435.71,1010.93 436.26,1010.71 436.8,1010.5 437.35,1010.31 437.9,1010.14 438.45,1009.98 438.99,1009.84 439.54,1009.71 440.09,1009.6 440.64,1009.5 441.18,1009.42 441.73,1009.36 442.28,1009.31 442.83,1009.28 443.37,1009.27 443.92,1009.27 444.47,1009.29 445.02,1009.33 445.57,1009.38 446.11,1009.45 446.66,1009.53 447.21,1009.63 447.76,1009.75 448.3,1009.88 448.85,1010.03 449.4,1010.2 449.95,1010.38 450.49,1010.58 451.04,1010.79 451.59,1011.02 452.14,1011.26 452.68,1011.52 453.23,1011.8 453.78,1012.08 454.33,1012.39 454.87,1012.71 455.42,1013.04 455.97,1013.39 456.52,1013.75 457.06,1014.12 457.61,1014.51 458.16,1014.91 458.71,1015.33 459.26,1015.75 459.8,1016.19 460.35,1016.65 460.9,1017.11 461.45,1017.59 461.99,1018.07 462.54,1018.57 463.09,1019.08 463.64,1019.6 464.18,1020.14 464.73,1020.68 465.28,1021.23 465.83,1021.79 466.37,1022.36 466.92,1022.94 467.47,1023.52 468.02,1024.12 468.56,1024.72 469.11,1025.33 469.66,1025.95 470.21,1026.58 470.75,1027.21 471.3,1027.85 471.85,1028.5 472.4,1029.15 472.95,1029.8 473.49,1030.46 474.04,1031.13 474.59,1031.8 475.14,1032.48 475.68,1033.16 476.23,1033.84 476.78,1034.52 477.33,1035.21 477.87,1035.91 478.42,1036.6 478.97,1037.3 479.52,1037.99 480.06,1038.69 480.61,1039.4 481.16,1040.1 481.71,1040.8 482.25,1041.5 482.8,1042.21 483.35,1042.91 483.9,1043.61 484.44,1044.32 484.99,1045.02 485.54,1045.72 486.09,1046.42 486.64,1047.11 487.18,1047.81 487.73,1048.5 488.28,1049.2 488.83,1049.88 489.37,1050.57 489.92,1051.25 490.47,1051.93 491.02,1052.61 491.56,1053.28 492.11,1053.95 492.66,1054.62 493.21,1055.28 493.75,1055.93 494.3,1056.59 494.85,1057.23 495.4,1057.88 495.94,1058.52 496.49,1059.15 497.04,1059.78 497.59,1060.4 498.13,1061.02 498.68,1061.63 499.23,1062.23 499.78,1062.83 500.33,1063.43 500.87,1064.02 501.42,1064.6 501.97,1065.17 502.52,1065.74 503.06,1066.31 503.61,1066.86 504.16,1067.41 504.71,1067.96 505.25,1068.49 505.8,1069.02 506.35,1069.55 506.9,1070.07 507.44,1070.58 507.99,1071.08 508.54,1071.58 509.09,1072.07 509.63,1072.55 510.18,1073.02 510.73,1073.49 511.28,1073.96 511.82,1074.41 512.37,1074.86 512.92,1075.3 513.47,1075.74 514.02,1076.16 514.56,1076.58 515.11,1077 515.66,1077.41 516.21,1077.81 516.75,1078.2 517.3,1078.59 517.85,1078.97 518.4,1079.34 518.94,1079.71 519.49,1080.07 520.04,1080.43 520.59,1080.77 521.13,1081.11 521.68,1081.45 522.23,1081.78 522.78,1082.1 523.32,1082.42 523.87,1082.73 524.42,1083.03 524.97,1083.33 525.51,1083.63 526.06,1083.91 526.61,1084.2 527.16,1084.47 527.71,1084.74 528.25,1085.01 528.8,1085.27 529.35,1085.52 529.9,1085.77 530.44,1086.01 530.99,1086.25 531.54,1086.49 532.09,1086.72 532.63,1086.94 533.18,1087.16 533.73,1087.37 534.28,1087.58 534.82,1087.79 535.37,1087.99 535.92,1088.19 536.47,1088.38 537.01,1088.57 537.56,1088.75 538.11,1088.93 538.66,1089.11 539.2,1089.28 539.75,1089.45 540.3,1089.61 540.85,1089.77 541.4,1089.93 541.94,1090.08 542.49,1090.23 543.04,1090.38 543.59,1090.53 544.13,1090.67 544.68,1090.8 545.23,1090.94 545.78,1091.07 546.32,1091.2 546.87,1091.32 547.42,1091.45 547.97,1091.57 548.51,1091.68 549.06,1091.8 549.61,1091.91 550.16,1092.02 550.7,1092.13 551.25,1092.23 551.8,1092.34 552.35,1092.44 552.89,1092.53 553.44,1092.63 553.99,1092.72 554.54,1092.82 555.09,1092.91 555.63,1092.99 556.18,1093.08 556.73,1093.16 557.28,1093.25 557.82,1093.33 558.37,1093.4 558.92,1093.48 559.47,1093.56 560.01,1093.63 560.56,1093.7 561.11,1093.77 561.66,1093.84 562.2,1093.91 562.75,1093.98 563.3,1094.04 563.85,1094.11 564.39,1094.17 564.94,1094.23 565.49,1094.29 566.04,1094.35 566.58,1094.4 567.13,1094.46 567.68,1094.51 568.23,1094.57 568.78,1094.62 569.32,1094.67 569.87,1094.72 570.42,1094.77 570.97,1094.82 571.51,1094.87 572.06,1094.91 572.61,1094.96 573.16,1095 573.7,1095.05 574.25,1095.09 574.8,1095.13 575.35,1095.17 575.89,1095.21 576.44,1095.25 576.99,1095.29 577.54,1095.32 578.08,1095.36 578.63,1095.4 579.18,1095.43 579.73,1095.47 580.27,1095.5 580.82,1095.53 581.37,1095.56 581.92,1095.59 582.47,1095.63 583.01,1095.66 583.56,1095.68 584.11,1095.71 584.66,1095.74 585.2,1095.77 585.75,1095.8 586.3,1095.82 586.85,1095.85 587.39,1095.87 587.94,1095.9 588.49,1095.92 589.04,1095.94 589.58,1095.97 590.13,1095.99 590.68,1096.01 591.23,1096.03 591.77,1096.05 592.32,1096.07 592.87,1096.09 593.42,1096.11 593.96,1096.13 594.51,1096.15 595.06,1096.17 595.61,1096.18 596.16,1096.2 596.7,1096.22 597.25,1096.23 597.8,1096.25 598.35,1096.27 598.89,1096.28 599.44,1096.3 599.99,1096.31 600.54,1096.32 601.08,1096.34 601.63,1096.35 602.18,1096.36 602.73,1096.38 603.27,1096.39 603.82,1096.4 604.37,1096.41 604.92,1096.42 605.46,1096.43 606.01,1096.45 606.56,1096.46 607.11,1096.47 607.65,1096.48 608.2,1096.49 608.75,1096.5 609.3,1096.51 609.85,1096.51 610.39,1096.52 610.94,1096.53 611.49,1096.54 612.04,1096.55 612.58,1096.56 613.13,1096.56 613.68,1096.57 614.23,1096.58 614.77,1096.59 615.32,1096.59 615.87,1096.6 616.42,1096.61 616.96,1096.61 617.51,1096.62 618.06,1096.63 618.61,1096.63 619.15,1096.64 619.7,1096.64 620.25,1096.65 620.8,1096.66 621.34,1096.66 621.89,1096.67 622.44,1096.67 622.99,1096.68 623.54,1096.68 624.08,1096.69 624.63,1096.69 625.18,1096.69 625.73,1096.7 626.27,1096.7 626.82,1096.71 627.37,1096.71 627.92,1096.72 628.46,1096.72 629.01,1096.72 629.56,1096.73 630.11,1096.73 630.65,1096.73 631.2,1096.74 631.75,1096.74 632.3,1096.75 632.84,1096.75 633.39,1096.75 633.94,1096.75 634.49,1096.76 635.03,1096.76 635.58,1096.76 636.13,1096.77 636.68,1096.77 637.23,1096.77 637.77,1096.78 638.32,1096.78 638.87,1096.78 639.42,1096.78 639.96,1096.79 640.51,1096.79 641.06,1096.79 641.61,1096.79 642.15,1096.8 642.7,1096.8 643.25,1096.8 643.8,1096.8 644.34,1096.8 644.89,1096.81 645.44,1096.81 645.99,1096.81 646.53,1096.81 647.08,1096.82 647.63,1096.82 648.18,1096.82 648.72,1096.82 649.27,1096.82 649.82,1096.83 650.37,1096.83 650.92,1096.83 651.46,1096.83 652.01,1096.83 652.56,1096.83 653.11,1096.84 653.65,1096.84 654.2,1096.84 654.75,1096.84 655.3,1096.84 655.84,1096.84 656.39,1096.85 656.94,1096.85 657.49,1096.85 658.03,1096.85 658.58,1096.85 659.13,1096.85 659.68,1096.85 660.22,1096.86 660.77,1096.86 661.32,1096.86 661.87,1096.86 662.41,1096.86 662.96,1096.86 663.51,1096.86"/>
<polyline fill="none" stroke="#3a3aff" stroke-width="1.15" stroke-linejoin="round" stroke-linecap="round"  points="262.12,1087.33 262.67,1087.33 263.21,1087.32 263.76,1087.32 264.31,1087.32 264.86,1087.31 265.4,1087.31 265.95,1087.31 266.5,1087.3 267.05,1087.3 267.6,1087.3 268.14,1087.29 268.69,1087.29 269.24,1087.29 269.79,1087.28 270.33,1087.28 270.88,1087.28 271.43,1087.27 271.98,1087.27 272.52,1087.27 273.07,1087.26 273.62,1087.26 274.17,1087.26 274.71,1087.25 275.26,1087.25 275.81,1087.25 276.36,1087.24 276.9,1087.24 277.45,1087.23 278,1087.23 278.55,1087.23 279.09,1087.22 279.64,1087.22 280.19,1087.22 280.74,1087.21 281.29,1087.21 281.83,1087.2 282.38,1087.2 282.93,1087.19 283.48,1087.19 284.02,1087.19 284.57,1087.18 285.12,1087.18 285.67,1087.17 286.21,1087.17 286.76,1087.16 287.31,1087.16 287.86,1087.16 288.4,1087.15 288.95,1087.15 289.5,1087.14 290.05,1087.14 290.59,1087.13 291.14,1087.13 291.69,1087.12 292.24,1087.12 292.78,1087.11 293.33,1087.11 293.88,1087.1 294.43,1087.1 294.98,1087.09 295.52,1087.09 296.07,1087.08 296.62,1087.07 297.17,1087.07 297.71,1087.06 298.26,1087.06 298.81,1087.05 299.36,1087.05 299.9,1087.04 300.45,1087.03 301,1087.03 301.55,1087.02 302.09,1087.01 302.64,1087.01 303.19,1087 303.74,1086.99 304.28,1086.99 304.83,1086.98 305.38,1086.97 305.93,1086.96 306.47,1086.96 307.02,1086.95 307.57,1086.94 308.12,1086.93 308.67,1086.92 309.21,1086.92 309.76,1086.91 310.31,1086.9 310.86,1086.89 311.4,1086.88 311.95,1086.87 312.5,1086.86 313.05,1086.85 313.59,1086.84 314.14,1086.83 314.69,1086.82 315.24,1086.81 315.78,1086.8 316.33,1086.79 316.88,1086.78 317.43,1086.77 317.97,1086.76 318.52,1086.74 319.07,1086.73 319.62,1086.72 320.16,1086.7 320.71,1086.69 321.26,1086.68 321.81,1086.66 322.36,1086.65 322.9,1086.63 323.45,1086.62 324,1086.6 324.55,1086.59 325.09,1086.57 325.64,1086.55 326.19,1086.54 326.74,1086.52 327.28,1086.5 327.83,1086.48 328.38,1086.46 328.93,1086.44 329.47,1086.42 330.02,1086.4 330.57,1086.38 331.12,1086.36 331.66,1086.34 332.21,1086.31 332.76,1086.29 333.31,1086.26 333.85,1086.24 334.4,1086.21 334.95,1086.19 335.5,1086.16 336.05,1086.13 336.59,1086.1 337.14,1086.07 337.69,1086.04 338.24,1086.01 338.78,1085.97 339.33,1085.94 339.88,1085.9 340.43,1085.87 340.97,1085.83 341.52,1085.79 342.07,1085.76 342.62,1085.71 343.16,1085.67 343.71,1085.63 344.26,1085.59 344.81,1085.54 345.35,1085.5 345.9,1085.45 346.45,1085.4 347,1085.35 347.54,1085.3 348.09,1085.24 348.64,1085.19 349.19,1085.13 349.74,1085.07 350.28,1085.01 350.83,1084.95 351.38,1084.88 351.93,1084.82 352.47,1084.75 353.02,1084.68 353.57,1084.61 354.12,1084.54 354.66,1084.46 355.21,1084.38 355.76,1084.3 356.31,1084.22 356.85,1084.14 357.4,1084.05 357.95,1083.96 358.5,1083.87 359.04,1083.77 359.59,1083.68 360.14,1083.58 360.69,1083.47 361.23,1083.37 361.78,1083.26 362.33,1083.15 362.88,1083.03 363.43,1082.92 363.97,1082.8 364.52,1082.67 365.07,1082.55 365.62,1082.41 366.16,1082.28 366.71,1082.14 367.26,1082 367.81,1081.86 368.35,1081.71 368.9,1081.55 369.45,1081.4 370,1081.23 370.54,1081.07 371.09,1080.9 371.64,1080.73 372.19,1080.55 372.73,1080.36 373.28,1080.18 373.83,1079.98 374.38,1079.79 374.92,1079.59 375.47,1079.38 376.02,1079.17 376.57,1078.95 377.12,1078.73 377.66,1078.5 378.21,1078.26 378.76,1078.03 379.31,1077.78 379.85,1077.53 380.4,1077.27 380.95,1077.01 381.5,1076.74 382.04,1076.47 382.59,1076.18 383.14,1075.9 383.69,1075.6 384.23,1075.3 384.78,1074.99 385.33,1074.68 385.88,1074.35 386.42,1074.02 386.97,1073.69 387.52,1073.34 388.07,1072.99 388.61,1072.63 389.16,1072.26 389.71,1071.89 390.26,1071.5 390.81,1071.11 391.35,1070.71 391.9,1070.3 392.45,1069.89 393,1069.46 393.54,1069.03 394.09,1068.59 394.64,1068.13 395.19,1067.67 395.73,1067.2 396.28,1066.72 396.83,1066.23 397.38,1065.73 397.92,1065.23 398.47,1064.71 399.02,1064.18 399.57,1063.64 400.11,1063.09 400.66,1062.53 401.21,1061.96 401.76,1061.38 402.3,1060.79 402.85,1060.19 403.4,1059.58 403.95,1058.96 404.5,1058.32 405.04,1057.67 405.59,1057.02 406.14,1056.35 406.69,1055.67 407.23,1054.98 407.78,1054.27 408.33,1053.56 408.88,1052.83 409.42,1052.09 409.97,1051.34 410.52,1050.58 411.07,1049.8 411.61,1049.01 412.16,1048.21 412.71,1047.4 413.26,1046.57 413.8,1045.73 414.35,1044.88 414.9,1044.01 415.45,1043.13 415.99,1042.24 416.54,1041.34 417.09,1040.42 417.64,1039.49 418.19,1038.55 418.73,1037.59 419.28,1036.62 419.83,1035.64 420.38,1034.64 420.92,1033.63 421.47,1032.6 422.02,1031.56 422.57,1030.51 423.11,1029.45 423.66,1028.37 424.21,1027.28 424.76,1026.17 425.3,1025.05 425.85,1023.92 426.4,1022.77 426.95,1021.61 427.49,1020.43 428.04,1019.25 428.59,1018.04 429.14,1016.83 429.68,1015.6 430.23,1014.36 430.78,1013.1 431.33,1011.84 431.88,1010.55 432.42,1009.26 432.97,1007.95 433.52,1006.63 434.07,1005.29 434.61,1003.95 435.16,1002.59 435.71,1001.21 436.26,999.83 436.8,998.43 437.35,997.02 437.9,995.6 438.45,994.17 438.99,992.72 439.54,991.26 440.09,989.79 440.64,988.31 441.18,986.82 441.73,985.31 442.28,983.8 442.83,982.27 443.37,980.74 443.92,979.19 444.47,977.63 445.02,976.07 445.57,974.49 446.11,972.9 446.66,971.31 447.21,969.7 447.76,968.09 448.3,966.46 448.85,964.83 449.4,963.19 449.95,961.55 450.49,959.89 451.04,958.23 451.59,956.56 452.14,954.89 452.68,953.21 453.23,951.52 453.78,949.82 454.33,948.12 454.87,946.42 455.42,944.71 455.97,943 456.52,941.28 457.06,939.56 457.61,937.83 458.16,936.1 458.71,934.37 459.26,932.64 459.8,930.9 460.35,929.16 460.9,927.42 461.45,925.69 461.99,923.95 462.54,922.2 463.09,920.47 463.64,918.73 464.18,916.99 464.73,915.25 465.28,913.52 465.83,911.79 466.37,910.06 466.92,908.33 467.47,906.61 468.02,904.89 468.56,903.18 469.11,901.47 469.66,899.77 470.21,898.07 470.75,896.38 471.3,894.69 471.85,893.02 472.4,891.35 472.95,889.69 473.49,888.04 474.04,886.39 474.59,884.76 475.14,883.14 475.68,881.53 476.23,879.92 476.78,878.33 477.33,876.76 477.87,875.19 478.42,873.64 478.97,872.1 479.52,870.57 480.06,869.06 480.61,867.56 481.16,866.08 481.71,864.62 482.25,863.17 482.8,861.74 483.35,860.32 483.9,858.92 484.44,857.54 484.99,856.18 485.54,854.84 486.09,853.52 486.64,852.21 487.18,850.93 487.73,849.67 488.28,848.42 488.83,847.2 489.37,846.01 489.92,844.83 490.47,843.68 491.02,842.55 491.56,841.44 492.11,840.36 492.66,839.3 493.21,838.27 493.75,837.26 494.3,836.28 494.85,835.32 495.4,834.39 495.94,833.49 496.49,832.61 497.04,831.76 497.59,830.94 498.13,830.15 498.68,829.38 499.23,828.64 499.78,827.93 500.33,827.25 500.87,826.6 501.42,825.98 501.97,825.39 502.52,824.83 503.06,824.3 503.61,823.8 504.16,823.33 504.71,822.89 505.25,822.48 505.8,822.1 506.35,821.76 506.9,821.44 507.44,821.16 507.99,820.91 508.54,820.69 509.09,820.51 509.63,820.35 510.18,820.23 510.73,820.14 511.28,820.08 511.82,820.05 512.37,820.06 512.92,820.1 513.47,820.17 514.02,820.27 514.56,820.41 515.11,820.58 515.66,820.77 516.21,821.01 516.75,821.27 517.3,821.57 517.85,821.89 518.4,822.25 518.94,822.64 519.49,823.06 520.04,823.52 520.59,824 521.13,824.52 521.68,825.06 522.23,825.64 522.78,826.25 523.32,826.88 523.87,827.55 524.42,828.25 524.97,828.97 525.51,829.73 526.06,830.51 526.61,831.32 527.16,832.17 527.71,833.03 528.25,833.93 528.8,834.85 529.35,835.8 529.9,836.78 530.44,837.79 530.99,838.82 531.54,839.87 532.09,840.95 532.63,842.06 533.18,843.19 533.73,844.34 534.28,845.52 534.82,846.72 535.37,847.94 535.92,849.19 536.47,850.46 537.01,851.75 537.56,853.06 538.11,854.39 538.66,855.75 539.2,857.12 539.75,858.51 540.3,859.92 540.85,861.35 541.4,862.8 541.94,864.27 542.49,865.75 543.04,867.25 543.59,868.76 544.13,870.3 544.68,871.84 545.23,873.4 545.78,874.98 546.32,876.57 546.87,878.17 547.42,879.79 547.97,881.42 548.51,883.06 549.06,884.71 549.61,886.38 550.16,888.05 550.7,889.74 551.25,891.43 551.8,893.13 552.35,894.85 552.89,896.57 553.44,898.29 553.99,900.03 554.54,901.77 555.09,903.52 555.63,905.28 556.18,907.03 556.73,908.8 557.28,910.57 557.82,912.34 558.37,914.12 558.92,915.9 559.47,917.68 560.01,919.47 560.56,921.25 561.11,923.04 561.66,924.83 562.2,926.62 562.75,928.41 563.3,930.2 563.85,931.99 564.39,933.78 564.94,935.57 565.49,937.35 566.04,939.14 566.58,940.92 567.13,942.69 567.68,944.47 568.23,946.24 568.78,948 569.32,949.77 569.87,951.52 570.42,953.27 570.97,955.02 571.51,956.76 572.06,958.5 572.61,960.22 573.16,961.94 573.7,963.66 574.25,965.37 574.8,967.07 575.35,968.76 575.89,970.44 576.44,972.11 576.99,973.78 577.54,975.44 578.08,977.08 578.63,978.72 579.18,980.35 579.73,981.97 580.27,983.58 580.82,985.17 581.37,986.76 581.92,988.34 582.47,989.9 583.01,991.46 583.56,993 584.11,994.53 584.66,996.05 585.2,997.56 585.75,999.05 586.3,1000.53 586.85,1002 587.39,1003.46 587.94,1004.91 588.49,1006.34 589.04,1007.76 589.58,1009.17 590.13,1010.56 590.68,1011.94 591.23,1013.31 591.77,1014.66 592.32,1016 592.87,1017.33 593.42,1018.64 593.96,1019.94 594.51,1021.23 595.06,1022.5 595.61,1023.75 596.16,1025 596.7,1026.23 597.25,1027.45 597.8,1028.65 598.35,1029.84 598.89,1031.01 599.44,1032.17 599.99,1033.32 600.54,1034.45 601.08,1035.57 601.63,1036.67 602.18,1037.76 602.73,1038.84 603.27,1039.9 603.82,1040.95 604.37,1041.98 604.92,1043 605.46,1044.01 606.01,1045 606.56,1045.98 607.11,1046.95 607.65,1047.9 608.2,1048.84 608.75,1049.76 609.3,1050.67 609.85,1051.57 610.39,1052.45 610.94,1053.33 611.49,1054.18 612.04,1055.03 612.58,1055.86 613.13,1056.68 613.68,1057.49 614.23,1058.28 614.77,1059.06 615.32,1059.83 615.87,1060.59 616.42,1061.33 616.96,1062.06 617.51,1062.78 618.06,1063.49 618.61,1064.19 619.15,1064.87 619.7,1065.54 620.25,1066.21 620.8,1066.85 621.34,1067.49 621.89,1068.12 622.44,1068.74 622.99,1069.34 623.54,1069.93 624.08,1070.52 624.63,1071.09 625.18,1071.65 625.73,1072.2 626.27,1072.74 626.82,1073.28 627.37,1073.8 627.92,1074.31 628.46,1074.81 629.01,1075.3 629.56,1075.78 630.11,1076.26 630.65,1076.72 631.2,1077.17 631.75,1077.62 632.3,1078.06 632.84,1078.48 633.39,1078.9 633.94,1079.31 634.49,1079.72 635.03,1080.11 635.58,1080.5 636.13,1080.87 636.68,1081.24 637.23,1081.6 637.77,1081.96 638.32,1082.31 638.87,1082.65 639.42,1082.98 639.96,1083.3 640.51,1083.62 641.06,1083.93 641.61,1084.24 642.15,1084.53 642.7,1084.82 643.25,1085.11 643.8,1085.39 644.34,1085.66 644.89,1085.92 645.44,1086.18 645.99,1086.44 646.53,1086.68 647.08,1086.93 647.63,1087.16 648.18,1087.39 648.72,1087.62 649.27,1087.84 649.82,1088.05 650.37,1088.26 650.92,1088.47 651.46,1088.67 652.01,1088.86 652.56,1089.06 653.11,1089.24 653.65,1089.42 654.2,1089.6 654.75,1089.77 655.3,1089.94 655.84,1090.11 656.39,1090.27 656.94,1090.42 657.49,1090.57 658.03,1090.72 658.58,1090.87 659.13,1091.01 659.68,1091.15 660.22,1091.28 660.77,1091.41 661.32,1091.54 661.87,1091.66 662.41,1091.78 662.96,1091.9 663.51,1092.02"/>
<polyline fill="none" stroke="#ff3333" stroke-width="1.15" stroke-linejoin="round" stroke-linecap="round"  points="262.12,1087.97 262.67,1087.97 263.21,1087.97 263.76,1087.97 264.31,1087.97 264.86,1087.97 265.4,1087.97 265.95,1087.97 266.5,1087.97 267.05,1087.97 267.6,1087.97 268.14,1087.97 268.69,1087.97 269.24,1087.97 269.79,1087.97 270.33,1087.97 270.88,1087.97 271.43,1087.97 271.98,1087.97 272.52,1087.97 273.07,1087.97 273.62,1087.97 274.17,1087.97 274.71,1087.97 275.26,1087.97 275.81,1087.97 276.36,1087.97 276.9,1087.97 277.45,1087.96 278,1087.96 278.55,1087.96 279.09,1087.96 279.64,1087.96 280.19,1087.96 280.74,1087.96 281.29,1087.96 281.83,1087.96 282.38,1087.96 282.93,1087.96 283.48,1087.96 284.02,1087.96 284.57,1087.96 285.12,1087.96 285.67,1087.96 286.21,1087.96 286.76,1087.96 287.31,1087.96 287.86,1087.96 288.4,1087.96 288.95,1087.96 289.5,1087.96 290.05,1087.96 290.59,1087.96 291.14,1087.96 291.69,1087.96 292.24,1087.96 292.78,1087.96 293.33,1087.96 293.88,1087.96 294.43,1087.96 294.98,1087.96 295.52,1087.96 296.07,1087.96 296.62,1087.96 297.17,1087.96 297.71,1087.96 298.26,1087.96 298.81,1087.96 299.36,1087.96 299.9,1087.96 300.45,1087.96 301,1087.96 301.55,1087.96 302.09,1087.96 302.64,1087.96 303.19,1087.96 303.74,1087.96 304.28,1087.96 304.83,1087.96 305.38,1087.96 305.93,1087.96 306.47,1087.96 307.02,1087.96 307.57,1087.96 308.12,1087.96 308.67,1087.96 309.21,1087.96 309.76,1087.96 310.31,1087.96 310.86,1087.96 311.4,1087.96 311.95,1087.96 312.5,1087.96 313.05,1087.96 313.59,1087.96 314.14,1087.96 314.69,1087.96 315.24,1087.96 315.78,1087.96 316.33,1087.96 316.88,1087.97 317.43,1087.97 317.97,1087.97 318.52,1087.97 319.07,1087.97 319.62,1087.97 320.16,1087.97 320.71,1087.97 321.26,1087.97 321.81,1087.97 322.36,1087.97 322.9,1087.97 323.45,1087.97 324,1087.98 324.55,1087.98 325.09,1087.98 325.64,1087.98 326.19,1087.98 326.74,1087.98 327.28,1087.98 327.83,1087.98 328.38,1087.98 328.93,1087.99 329.47,1087.99 330.02,1087.99 330.57,1087.99 331.12,1087.99 331.66,1087.99 332.21,1088 332.76,1088 333.31,1088 333.85,1088 334.4,1088 334.95,1088 335.5,1088.01 336.05,1088.01 336.59,1088.01 337.14,1088.01 337.69,1088.01 338.24,1088.02 338.78,1088.02 339.33,1088.02 339.88,1088.02 340.43,1088.03 340.97,1088.03 341.52,1088.03 342.07,1088.03 342.62,1088.03 343.16,1088.04 343.71,1088.04 344.26,1088.04 344.81,1088.05 345.35,1088.05 345.9,1088.05 346.45,1088.05 347,1088.06 347.54,1088.06 348.09,1088.06 348.64,1088.07 349.19,1088.07 349.74,1088.07 350.28,1088.07 350.83,1088.08 351.38,1088.08 351.93,1088.08 352.47,1088.09 353.02,1088.09 353.57,1088.09 354.12,1088.1 354.66,1088.1 355.21,1088.1 355.76,1088.11 356.31,1088.11 356.85,1088.12 357.4,1088.12 357.95,1088.12 358.5,1088.13 359.04,1088.13 359.59,1088.13 360.14,1088.14 360.69,1088.14 361.23,1088.15 361.78,1088.15 362.33,1088.15 362.88,1088.16 363.43,1088.16 363.97,1088.17 364.52,1088.17 365.07,1088.17 365.62,1088.18 366.16,1088.18 366.71,1088.19 367.26,1088.19 367.81,1088.19 368.35,1088.2 368.9,1088.2 369.45,1088.21 370,1088.21 370.54,1088.21 371.09,1088.22 371.64,1088.22 372.19,1088.23 372.73,1088.23 373.28,1088.24 373.83,1088.24 374.38,1088.24 374.92,1088.25 375.47,1088.25 376.02,1088.26 376.57,1088.26 377.12,1088.27 377.66,1088.27 378.21,1088.28 378.76,1088.28 379.31,1088.28 379.85,1088.29 380.4,1088.29 380.95,1088.3 381.5,1088.3 382.04,1088.31 382.59,1088.31 383.14,1088.32 383.69,1088.32 384.23,1088.33 384.78,1088.33 385.33,1088.33 385.88,1088.34 386.42,1088.34 386.97,1088.35 387.52,1088.35 388.07,1088.36 388.61,1088.36 389.16,1088.37 389.71,1088.37 390.26,1088.38 390.81,1088.38 391.35,1088.39 391.9,1088.39 392.45,1088.4 393,1088.4 393.54,1088.41 394.09,1088.41 394.64,1088.42 395.19,1088.42 395.73,1088.43 396.28,1088.43 396.83,1088.44 397.38,1088.44 397.92,1088.45 398.47,1088.45 399.02,1088.46 399.57,1088.46 400.11,1088.47 400.66,1088.47 401.21,1088.48 401.76,1088.48 402.3,1088.49 402.85,1088.49 403.4,1088.5 403.95,1088.51 404.5,1088.51 405.04,1088.52 405.59,1088.52 406.14,1088.53 406.69,1088.53 407.23,1088.54 407.78,1088.55 408.33,1088.55 408.88,1088.56 409.42,1088.57 409.97,1088.57 410.52,1088.58 411.07,1088.58 411.61,1088.59 412.16,1088.6 412.71,1088.6 413.26,1088.61 413.8,1088.62 414.35,1088.62 414.9,1088.63 415.45,1088.64 415.99,1088.64 416.54,1088.65 417.09,1088.66 417.64,1088.67 418.19,1088.67 418.73,1088.68 419.28,1088.69 419.83,1088.7 420.38,1088.7 420.92,1088.71 421.47,1088.72 422.02,1088.73 422.57,1088.73 423.11,1088.74 423.66,1088.75 424.21,1088.76 424.76,1088.77 425.3,1088.78 425.85,1088.78 426.4,1088.79 426.95,1088.8 427.49,1088.81 428.04,1088.82 428.59,1088.83 429.14,1088.84 429.68,1088.84 430.23,1088.85 430.78,1088.86 431.33,1088.87 431.88,1088.88 432.42,1088.89 432.97,1088.9 433.52,1088.91 434.07,1088.92 434.61,1088.93 435.16,1088.94 435.71,1088.95 436.26,1088.96 436.8,1088.97 437.35,1088.98 437.9,1088.99 438.45,1089 438.99,1089.01 439.54,1089.02 440.09,1089.03 440.64,1089.04 441.18,1089.05 441.73,1089.06 442.28,1089.07 442.83,1089.08 443.37,1089.09 443.92,1089.1 444.47,1089.11 445.02,1089.12 445.57,1089.13 446.11,1089.15 446.66,1089.16 447.21,1089.17 447.76,1089.18 448.3,1089.19 448.85,1089.2 449.4,1089.21 449.95,1089.22 450.49,1089.23 451.04,1089.24 451.59,1089.25 452.14,1089.26 452.68,1089.27 453.23,1089.28 453.78,1089.29 454.33,1089.3 454.87,1089.31 455.42,1089.32 455.97,1089.33 456.52,1089.34 457.06,1089.35 457.61,1089.36 458.16,1089.36 458.71,1089.37 459.26,1089.38 459.8,1089.39 460.35,1089.39 460.9,1089.4 461.45,1089.41 461.99,1089.41 462.54,1089.42 463.09,1089.42 463.64,1089.42 464.18,1089.43 464.73,1089.43 465.28,1089.43 465.83,1089.43 466.37,1089.43 466.92,1089.43 467.47,1089.43 468.02,1089.42 468.56,1089.42 469.11,1089.41 469.66,1089.4 470.21,1089.39 470.75,1089.38 471.3,1089.37 471.85,1089.36 472.4,1089.34 472.95,1089.32 473.49,1089.3 474.04,1089.28 474.59,1089.25 475.14,1089.23 475.68,1089.2 476.23,1089.16 476.78,1089.13 477.33,1089.09 477.87,1089.04 478.42,1089 478.97,1088.95 479.52,1088.89 480.06,1088.83 480.61,1088.77 481.16,1088.7 481.71,1088.62 482.25,1088.54 482.8,1088.46 483.35,1088.37 483.9,1088.27 484.44,1088.17 484.99,1088.05 485.54,1087.94 486.09,1087.81 486.64,1087.68 487.18,1087.53 487.73,1087.38 488.28,1087.22 488.83,1087.05 489.37,1086.87 489.92,1086.68 490.47,1086.48 491.02,1086.26 491.56,1086.04 492.11,1085.8 492.66,1085.55 493.21,1085.28 493.75,1085 494.3,1084.71 494.85,1084.4 495.4,1084.07 495.94,1083.73 496.49,1083.37 497.04,1083 497.59,1082.6 498.13,1082.19 498.68,1081.76 499.23,1081.3 499.78,1080.83 500.33,1080.33 500.87,1079.81 501.42,1079.27 501.97,1078.7 502.52,1078.11 503.06,1077.5 503.61,1076.86 504.16,1076.19 504.71,1075.5 505.25,1074.78 505.8,1074.03 506.35,1073.25 506.9,1072.44 507.44,1071.6 507.99,1070.72 508.54,1069.82 509.09,1068.88 509.63,1067.92 510.18,1066.91 510.73,1065.88 511.28,1064.81 511.82,1063.7 512.37,1062.56 512.92,1061.38 513.47,1060.17 514.02,1058.91 514.56,1057.62 515.11,1056.3 515.66,1054.93 516.21,1053.53 516.75,1052.09 517.3,1050.61 517.85,1049.09 518.4,1047.54 518.94,1045.94 519.49,1044.31 520.04,1042.63 520.59,1040.92 521.13,1039.17 521.68,1037.39 522.23,1035.56 522.78,1033.7 523.32,1031.8 523.87,1029.87 524.42,1027.9 524.97,1025.89 525.51,1023.86 526.06,1021.79 526.61,1019.68 527.16,1017.55 527.71,1015.38 528.25,1013.19 528.8,1010.96 529.35,1008.72 529.9,1006.44 530.44,1004.14 530.99,1001.82 531.54,999.48 532.09,997.12 532.63,994.74 533.18,992.35 533.73,989.94 534.28,987.52 534.82,985.09 535.37,982.65 535.92,980.2 536.47,977.75 537.01,975.3 537.56,972.85 538.11,970.4 538.66,967.96 539.2,965.53 539.75,963.1 540.3,960.69 540.85,958.29 541.4,955.91 541.94,953.55 542.49,951.22 543.04,948.91 543.59,946.62 544.13,944.37 544.68,942.15 545.23,939.97 545.78,937.82 546.32,935.72 546.87,933.66 547.42,931.64 547.97,929.68 548.51,927.77 549.06,925.91 549.61,924.1 550.16,922.36 550.7,920.68 551.25,919.06 551.8,917.51 552.35,916.02 552.89,914.61 553.44,913.27 553.99,912 554.54,910.81 555.09,909.7 555.63,908.66 556.18,907.71 556.73,906.84 557.28,906.06 557.82,905.36 558.37,904.75 558.92,904.22 559.47,903.78 560.01,903.44 560.56,903.18 561.11,903.01 561.66,902.93 562.2,902.94 562.75,903.05 563.3,903.24 563.85,903.52 564.39,903.9 564.94,904.36 565.49,904.91 566.04,905.55 566.58,906.27 567.13,907.08 567.68,907.98 568.23,908.96 568.78,910.02 569.32,911.16 569.87,912.38 570.42,913.68 570.97,915.05 571.51,916.49 572.06,918.01 572.61,919.59 573.16,921.24 573.7,922.96 574.25,924.73 574.8,926.57 575.35,928.46 575.89,930.41 576.44,932.41 576.99,934.46 577.54,936.56 578.08,938.7 578.63,940.88 579.18,943.11 579.73,945.37 580.27,947.66 580.82,949.99 581.37,952.34 581.92,954.72 582.47,957.12 583.01,959.54 583.56,961.99 584.11,964.44 584.66,966.91 585.2,969.39 585.75,971.88 586.3,974.38 586.85,976.88 587.39,979.38 587.94,981.87 588.49,984.37 589.04,986.86 589.58,989.34 590.13,991.81 590.68,994.27 591.23,996.71 591.77,999.14 592.32,1001.56 592.87,1003.95 593.42,1006.32 593.96,1008.68 594.51,1011 595.06,1013.3 595.61,1015.58 596.16,1017.83 596.7,1020.05 597.25,1022.23 597.8,1024.39 598.35,1026.51 598.89,1028.61 599.44,1030.66 599.99,1032.69 600.54,1034.67 601.08,1036.62 601.63,1038.54 602.18,1040.42 602.73,1042.25 603.27,1044.06 603.82,1045.82 604.37,1047.54 604.92,1049.23 605.46,1050.88 606.01,1052.48 606.56,1054.05 607.11,1055.58 607.65,1057.07 608.2,1058.53 608.75,1059.94 609.3,1061.32 609.85,1062.65 610.39,1063.95 610.94,1065.22 611.49,1066.44 612.04,1067.63 612.58,1068.78 613.13,1069.9 613.68,1070.98 614.23,1072.03 614.77,1073.04 615.32,1074.02 615.87,1074.97 616.42,1075.89 616.96,1076.77 617.51,1077.62 618.06,1078.44 618.61,1079.24 619.15,1080 619.7,1080.73 620.25,1081.44 620.8,1082.12 621.34,1082.78 621.89,1083.41 622.44,1084.01 622.99,1084.59 623.54,1085.15 624.08,1085.68 624.63,1086.19 625.18,1086.68 625.73,1087.15 626.27,1087.6 626.82,1088.03 627.37,1088.44 627.92,1088.84 628.46,1089.21 629.01,1089.57 629.56,1089.91 630.11,1090.24 630.65,1090.55 631.2,1090.85 631.75,1091.13 632.3,1091.41 632.84,1091.66 633.39,1091.91 633.94,1092.14 634.49,1092.36 635.03,1092.57 635.58,1092.77 636.13,1092.96 636.68,1093.14 637.23,1093.32 637.77,1093.48 638.32,1093.63 638.87,1093.78 639.42,1093.92 639.96,1094.05 640.51,1094.18 641.06,1094.3 641.61,1094.41 642.15,1094.51 642.7,1094.62 643.25,1094.71 643.8,1094.8 644.34,1094.89 644.89,1094.97 645.44,1095.04 645.99,1095.12 646.53,1095.19 647.08,1095.25 647.63,1095.31 648.18,1095.37 648.72,1095.43 649.27,1095.48 649.82,1095.53 650.37,1095.57 650.92,1095.62 651.46,1095.66 652.01,1095.7 652.56,1095.74 653.11,1095.77 653.65,1095.81 654.2,1095.84 654.75,1095.87 655.3,1095.9 655.84,1095.92 656.39,1095.95 656.94,1095.98 657.49,1096 658.03,1096.02 658.58,1096.04 659.13,1096.06 659.68,1096.08 660.22,1096.1 660.77,1096.12 661.32,1096.13 661.87,1096.15 662.41,1096.17 662.96,1096.18 663.51,1096.19"/>
<polyline fill="none" stroke="#2b2b2b" stroke-width="1.1" stroke-linejoin="round" stroke-linecap="round"  points="160.7,1087.3 162.2,1087.52 163.7,1088.09 165.2,1088.89 166.2,1089.5 166.7,1089.93 168.2,1092.29 169.7,1095.37 171.2,1098.05 172.7,1099.2 174.2,1098.98 175.7,1098.38 177.2,1097.49 178.7,1096.39 179.2,1096 180.2,1094.63 181.7,1091.2 183.2,1087.64 184.6,1085.7 184.7,1085.64 186.2,1084.87 187.7,1084.28 189.2,1083.95 190,1083.9 190.7,1083.98 192.2,1084.58 193.7,1085.4 194.3,1085.7 195.2,1086.21 196.7,1087.21 198.2,1087.86 198.6,1087.9 199.7,1087.67 201.2,1086.83 202.7,1085.84 204.1,1085.2 204.2,1085.17 205.7,1084.79 207.2,1084.44 208.7,1084.15 210.2,1083.96 211.6,1083.9 211.7,1083.9 213.2,1084.02 214.7,1084.34 216.2,1084.83 217.1,1085.2 217.7,1085.8 219.2,1089.24 220.7,1092.91 221.4,1093.8 222.2,1094.3 223.7,1095.07 225.2,1095.47 225.7,1095.5 226.7,1095.29 228.2,1094.47 229.7,1093.51 230.1,1093.3 231.2,1092.73 232.7,1091.87 234.2,1091 235.7,1090.24 237.2,1089.7 238.7,1089.5 240.2,1089.57 241.7,1089.75 243.2,1089.98 244.7,1090.23 246.2,1090.45 247.7,1090.58 248.5,1090.6 249.2,1090.39 250.7,1088.87 252.2,1086.68 253.7,1084.78 255,1084.1 255.2,1084.15 256.7,1087.07 258.2,1091.3 259.3,1092.7 259.7,1092.7 261.2,1092.7 262.7,1092.7 263.6,1092.7 264.2,1092.49 265.7,1090.59 267.2,1087.71 268.7,1085.13 270.1,1084.1 270.2,1084.1 271.7,1084.28 273.2,1084.7 274.7,1085.31 276.2,1086.01 276.6,1086.2 277.7,1087.06 279.2,1088.85 280.7,1090.5 282,1091.1 282.2,1091.09 283.7,1090.45 285.2,1089.19 286.7,1087.86 287.5,1087.3 288.2,1086.9 289.7,1086.06 291.2,1085.29 292.7,1084.6 294,1084.1 294.2,1084.03 295.7,1083.51 297.2,1083.02 298.7,1082.66 300,1082.5 300.2,1082.49 301.7,1082.43 303.2,1082.4 304.7,1082.37 306.2,1082.32 306.5,1082.3 307.7,1081.87 309.2,1080.55 310.7,1078.74 312.2,1076.88 313,1076 313.7,1075.27 315.2,1073.59 316.7,1071.87 318.2,1070.29 319.7,1069 321.2,1068.05 322.7,1067.27 324.2,1066.48 325,1066 325.7,1065.55 327.2,1064.55 328.7,1063.43 330.2,1062.1 330.5,1061.8 331.7,1060.29 333.2,1057.91 334.7,1055.46 335,1055 336.2,1053.13 337.7,1050.72 339.2,1048.55 340.2,1047.4 340.7,1046.91 342.2,1045.55 343.7,1044.61 344,1044.5 345.2,1044.22 346.7,1043.97 347.4,1043.8 348.2,1043.56 349.7,1043 351.2,1042.17 352.2,1041.4 352.7,1040.7 354.2,1036.84 355,1035 355.7,1033.83 357.2,1031.66 358.2,1030.5 358.7,1029.99 360.2,1028.62 361.7,1027.43 363.2,1026.37 364.2,1025.7 364.7,1025.37 366.2,1024.45 367.7,1023.64 368,1023.5 369.2,1022.87 370.7,1022.22 371.5,1022.1 372.2,1022.57 373.7,1025.29 375.1,1026.9 375.2,1026.87 376.7,1022.22 377.5,1019.7 378.2,1018.45 379.7,1016.15 381.2,1014.47 382.3,1013.7 382.7,1013.52 384.2,1013.02 385.7,1012.69 387.2,1012.32 388.3,1011.9 388.7,1011.7 390.2,1010.61 391.7,1009.11 393.2,1007.28 394.7,1005.24 395.5,1004.1 396.2,1003.1 397.7,1000.76 399.2,997.61 400.3,994.4 400.7,992.03 401.5,987.2 402.2,986.56 403.7,985.78 405.2,985.33 406.4,984.8 406.7,984.62 408.2,983.6 409.7,982.43 411.2,981.13 412.4,980 414.7,971.61 416.7,966.25 418.7,963.18 420.7,960.84 422.7,957.07 424.7,951.03 426.7,944.35 428.7,939.95 430.7,937.25 432.7,933.56 434.7,928.65 436.7,921.72 438.7,913.47 440.7,906.98 442.7,901.97 444.7,896.8 446.7,891.05 448.7,884.69 450.7,877.67 452.7,870.98 454.7,865.82 456.7,861.51 458.7,857.39 460.7,853.58 462.7,850.26 464.7,846.46 466.7,841.72 468.7,836.7 470.7,831.66 472.7,826.87 474.7,822.8 476.7,819.57 478.7,816.86 480.7,813.84 482.7,810.04 484.7,806.33 486.7,803.38 488.7,799.96 490.7,796.71 492.7,794.44 494.7,792.49 496.7,790.18 498.7,786.95 500.7,784.05 502.7,783.12 504.7,782.53 506.7,779.52 508.7,775.44 510.7,772.46 512.7,770.66 514.7,768.89 516.7,765.78 518.7,762.79 520.7,759.24 522.7,755.15 524.7,752.72 526.7,750.54 528.7,746.86 530.7,742.71 532.7,738.61 534.7,734.1 536.7,729.59 538.7,725.58 540.7,721.83 542.7,718.5 544.7,715.95 546.7,713.43 548.7,712.49 550.7,714.69 552.7,717.61 554.7,718.88 556.7,720.16 558.7,723.39 560.7,727.99 562.7,733.71 564.7,740 566.7,747.61 568.7,757.81 570.7,768.78 572.7,779.74 574.7,791.41 576.7,804.99 578.7,821.32 580.7,839.08 582.7,855.27 584.7,869.28 586.7,882.32 588.7,894.25 590.7,906.88 592.7,921.81 594.7,936.43 596.7,949.46 598.7,961.87 600.7,972.75 602.7,981.66 604.7,990.85 606.7,1001.24 608.7,1011.35 610.7,1021.07 612.7,1030.6 614.7,1038 616.7,1043.24 618.7,1048.84 620.7,1054.61 622.7,1059.28 624.7,1062.7 626.7,1065.93 628.7,1070.46 630,1070 631.5,1073.13 633,1076.11 634.1,1078.2 634.5,1078.99 636,1082.27 637.5,1084.82 638.2,1085.3 639,1085.47 640.5,1085.71 642,1085.86 643.3,1085.9 643.5,1085.89 645,1085.6 646.5,1085.04 648,1084.51 649.4,1084.3 649.5,1084.31 651,1085.99 652.5,1089.4 654,1092.81 655.5,1094.49 655.6,1094.5 657,1094.3 658.5,1093.72 660,1092.91 660.7,1092.5 661.5,1091.76 663,1089.49 664.5,1087.24 665.8,1086.4 666,1086.43 667.5,1088.11 669,1090.93 670.5,1092.88 670.9,1093 672,1092.7 673.5,1091.63 675,1090.36 676.5,1089.49 677.1,1089.4 678,1089.65 679.5,1090.95 681,1092.86 682.5,1094.82 683.2,1095.6 684,1096.51 685.5,1098.47 687,1100.12 688.3,1100.7 688.5,1100.69 690,1100.31 691.5,1099.55 693,1098.77 693.4,1098.6 694.5,1098.12 696,1097.39 697.5,1096.63 699,1095.95 700.5,1095.42 702,1095.13 702.6,1095.1 703.5,1095.43 705,1097.07 706.5,1099.37 708,1101.51 709.5,1102.66 709.8,1102.7 711,1102.55 712.5,1102.01 714,1101.23 714.9,1100.7 715.5,1100.25 717,1098.48 718.5,1096.35 720,1094.5 721.5,1092.9 723,1091.28 724.5,1090.01 726,1089.41 726.2,1089.4 727.5,1091.52 729,1096.28 730.2,1098.6 730.5,1098.76 732,1099.49 733.5,1100.06 735,1100.45 736.5,1100.66 737.4,1100.7 738,1100.67 739.5,1100.36 741,1099.81 742.5,1099.15 744,1098.49 745.5,1097.94 747,1097.63 747.6,1097.6 748.5,1097.81 750,1098.8 751.5,1100.08 753,1101.04 753.8,1101.2 754.5,1101.1 756,1100.33 756.8,1099.7"/>
<polyline fill="none" stroke="#8f45f5" stroke-width="1.25" stroke-linejoin="round" stroke-linecap="round"  points="129.9,1087.3 130.9,1087.85 131.9,1088.18 132.9,1088.34 133.9,1088.39 134.7,1088.4 134.9,1088.38 135.9,1087.91 136.9,1087 137.9,1085.96 138.9,1085.07 139,1085 139.9,1084.36 140.9,1083.61 141.9,1082.89 142.9,1082.32 143.9,1081.96 144.5,1081.9 144.9,1082 145.9,1082.95 146.9,1084.43 147.9,1085.88 148,1086 148.9,1087.27 149.9,1088.73 150.9,1089.49 151,1089.5 151.9,1089.23 152.9,1088.58 153.9,1088.03 154,1088 154.9,1087.75 155.9,1087.51 156.9,1087.35 157.5,1087.3 157.5,1087.46 159,1087.46 160.5,1087.45 162,1087.45 163.5,1087.44 165,1087.44 166.5,1087.43 168,1087.43 169.5,1087.42 171,1087.41 172.5,1087.41 174,1087.4 175.5,1087.4 177,1087.39 178.5,1087.38 180,1087.38 181.5,1087.37 183,1087.36 184.5,1087.36 186,1087.35 187.5,1087.34 189,1087.34 190.5,1087.33 192,1087.32 193.5,1087.31 195,1087.31 196.5,1087.3 198,1087.29 199.5,1087.28 201,1087.27 202.5,1087.27 204,1087.26 205.5,1087.25 207,1087.24 208.5,1087.23 210,1087.22 211.5,1087.21 213,1087.2 214.5,1087.19 216,1087.18 217.5,1087.17 219,1087.16 220.5,1087.15 222,1087.14 223.5,1087.13 225,1087.12 226.5,1087.11 228,1087.1 229.5,1087.09 231,1087.08 232.5,1087.06 234,1087.05 235.5,1087.04 237,1087.02 238.5,1087.01 240,1087 241.5,1086.98 243,1086.97 244.5,1086.95 246,1086.94 247.5,1086.92 249,1086.9 250.5,1086.88 252,1086.86 253.5,1086.84 255,1086.82 256.5,1086.79 258,1086.77 259.5,1086.74 261,1086.71 262.5,1086.67 264,1086.64 265.5,1086.6 267,1086.55 268.5,1086.5 270,1086.45 271.5,1086.38 273,1086.31 274.5,1086.24 276,1086.15 277.5,1086.06 279,1085.95 280.5,1085.83 282,1085.69 283.5,1085.54 285,1085.37 286.5,1085.19 288,1084.98 289.5,1084.74 291,1084.49 292.5,1084.2 294,1083.88 295.5,1083.53 297,1083.15 298.5,1082.73 300,1082.26 301.5,1081.76 303,1081.2 304.5,1080.6 306,1079.95 307.5,1079.25 309,1078.49 310.5,1077.67 312,1076.8 313.5,1075.87 315,1074.87 316.5,1073.82 318,1072.7 319.5,1071.52 321,1070.29 322.5,1068.99 324,1067.63 325.5,1066.22 327,1064.75 328.5,1063.24 330,1061.68 331.5,1060.07 333,1058.43 334.5,1056.76 336,1055.06 337.5,1053.35 339,1051.61 340.5,1049.87 342,1048.13 343.5,1046.4 345,1044.68 346.5,1042.98 348,1041.31 349.5,1039.66 351,1038.06 352.5,1036.51 354,1035 355.5,1033.54 357,1032.15 358.5,1030.81 360,1029.54 361.5,1028.32 363,1027.17 364.5,1026.08 366,1025.05 367.5,1024.06 369,1023.13 370.5,1022.24 372,1021.38 373.5,1020.55 375,1019.74 376.5,1018.93 378,1018.12 379.5,1017.31 381,1016.47 382.5,1015.59 384,1014.68 385.5,1013.71 387,1012.67 388.5,1011.56 390,1010.37 391.5,1009.09 393,1007.71 394.5,1006.22 396,1004.62 397.5,1002.9 399,1001.06 400.5,999.09 402,996.98 403.5,994.75 405,992.37 406.5,989.87 408,987.23 409.5,984.45 411,981.55 412.5,978.52 414,975.37 415.5,972.1 417,968.71 418.5,965.22 420,961.62 421.5,957.94 423,954.16 424.5,950.31 426,946.39 427.5,942.4 429,938.36 430.5,934.28 432,930.15 433.5,926 435,921.82 436.5,917.63 438,913.43 439.5,909.24 441,905.05 442.5,900.88 444,896.73 445.5,892.61 447,888.52 448.5,884.47 450,880.46 451.5,876.51 453,872.6 454.5,868.75 456,864.96 457.5,861.24 459,857.58 460.5,853.99 462,850.47 463.5,847.03 465,843.66 466.5,840.38 468,837.17 469.5,834.04 471,830.99 472.5,828.03 474,825.16 475.5,822.37 477,819.66 478.5,817.04 480,814.51 481.5,812.05 483,809.69 484.5,807.4 486,805.19 487.5,803.05 489,800.99 490.5,798.99 492,797.05 493.5,795.17 495,793.34 496.5,791.54 498,789.78 499.5,788.03 501,786.3 502.5,784.58 504,782.84 505.5,781.08 507,779.28 508.5,777.45 510,775.55 511.5,773.6 513,771.56 514.5,769.44 516,767.23 517.5,764.92 519,762.5 520.5,759.98 522,757.36 523.5,754.64 525,751.83 526.5,748.94 528,745.98 529.5,742.97 531,739.93 532.5,736.89 534,733.88 535.5,730.92 537,728.05 538.5,725.32 540,722.75 541.5,720.41 543,718.32 544.5,716.54 546,715.1 547.5,714.07 549,713.48 550.5,713.37 552,713.79 553.5,714.78 555,716.36 556.5,718.58 558,721.44 559.5,724.96 561,729.16 562.5,734.04 564,739.59 565.5,745.79 567,752.62 568.5,760.06 570,768.08 571.5,776.62 573,785.64 574.5,795.1 576,804.94 577.5,815.09 579,825.52 580.5,836.14 582,846.92 583.5,857.78 585,868.68 586.5,879.55 588,890.35 589.5,901.03 591,911.54 592.5,921.84 594,931.89 595.5,941.66 597,951.13 598.5,960.25 600,969.03 601.5,977.43 603,985.45 604.5,993.08 606,1000.32 607.5,1007.16 609,1013.61 610.5,1019.68 612,1025.37 613.5,1030.69 615,1035.66 616.5,1040.28 618,1044.58 619.5,1048.56 621,1052.26 622.5,1055.67 624,1058.82 625.5,1061.72 627,1064.39 628.5,1066.85 630,1069.12 631.5,1071.2 633,1073.1 634.5,1074.86 636,1076.47 637.5,1077.95 639,1079.31 640.5,1080.55 642,1081.7 643.5,1082.75 645,1083.72 646.5,1084.61 648,1085.44 649.5,1086.19 651,1086.89 652.5,1087.53 654,1088.13 655.5,1088.68 657,1089.18 658.5,1089.65 660,1090.09 661.5,1090.49 663,1090.86 664.5,1091.21 666,1091.53 667.5,1091.82 669,1092.1 670.5,1092.35 672,1092.59 673.5,1092.81 675,1093.01 676.5,1093.2 678,1093.38 679.5,1093.54 681,1093.69 682.5,1093.84 684,1093.97 685.5,1094.09 687,1094.2 688.5,1094.31 690,1094.41 691.5,1094.5 693,1094.59 694.5,1094.67 696,1094.74 697.5,1094.81 699,1094.88 700.5,1094.94 702,1095 703.5,1095.05 705,1095.1 706.5,1095.15 708,1095.2 709.5,1095.24 711,1095.28 712.5,1095.32 714,1095.36 715.5,1095.39 717,1095.42 718.5,1095.46 720,1095.49 721.5,1095.51 723,1095.54 724.5,1095.57 726,1095.59 727.5,1095.62 729,1095.64 730.5,1095.66 732,1095.69 733.5,1095.71 735,1095.73 736.5,1095.75 738,1095.77 739.5,1095.78 741,1095.8 742.5,1095.82 744,1095.84 745.5,1095.85 747,1095.87 748.5,1095.89 750,1095.9 751.5,1095.92 753,1095.93 754.5,1095.95 756,1095.96 756.8,1099.7 757.8,1098.24 758.8,1096.9 759.8,1095.72 760,1095.5 760.8,1094.59 761.8,1093.44 762.8,1092.49 763.8,1092.02 764,1092 764.8,1092.21 765.8,1092.95 766.8,1094.02 767.8,1095.2 768.8,1096.26 769.8,1096.98 770.1,1097.1 770.8,1097.29 771.8,1097.47 772.8,1097.61 773.8,1097.75 774.8,1097.96 775.3,1098.1 775.8,1098.35 776.8,1099.26 777.8,1100.48 778.8,1101.74 779.8,1102.74 780.8,1103.2 780.9,1103.2 781.8,1103.07 782.8,1102.61 783.8,1101.82 784.8,1100.7 785.8,1099.26 786.8,1097.49 787,1097.1"/>
<text x="353.2" y="988.6" font-family='"Liberation Sans", Arial, sans-serif' font-size="22.5" font-weight="normal" fill="#1e1e1e" text-anchor="middle" textLength="58.5" lengthAdjust="spacingAndGlyphs" >533.7</text>
<line x1="364.2" y1="992" x2="364.2" y2="1030" stroke="#1a1a1a" stroke-width="1.15"/>
<polygon points="361.1,1029 367.3,1029 364.2,1039.5" fill="#1a1a1a"/>
<text x="393.6" y="943.5" font-family='"Liberation Sans", Arial, sans-serif' font-size="22.5" font-weight="normal" fill="#1e1e1e" text-anchor="middle" textLength="58.8" lengthAdjust="spacingAndGlyphs" >532.3</text>
<line x1="411.4" y1="955.3" x2="436.2" y2="996.33" stroke="#1a1a1a" stroke-width="1.0"/>
<polygon points="432.78,997.23 438.59,993.71 440.6,1003.6" fill="#1a1a1a"/>
<text x="468.6" y="761.1" font-family='"Liberation Sans", Arial, sans-serif' font-size="22.5" font-weight="normal" fill="#1e1e1e" text-anchor="middle" textLength="58.2" lengthAdjust="spacingAndGlyphs" >531.0</text>
<line x1="484.1" y1="769.5" x2="505.4" y2="806.91" stroke="#1a1a1a" stroke-width="1.0"/>
<polygon points="501.95,807.73 507.86,804.36 509.6,814.3" fill="#1a1a1a"/>
<text x="636.3" y="855.4" font-family='"Liberation Sans", Arial, sans-serif' font-size="22.5" font-weight="normal" fill="#1e1e1e" text-anchor="middle" textLength="56.8" lengthAdjust="spacingAndGlyphs" >530.1</text>
<line x1="600.4" y1="861" x2="569.18" y2="893.56" stroke="#1a1a1a" stroke-width="1.0"/>
<polygon points="567.42,890.49 572.33,895.2 563.3,899.7" fill="#1a1a1a"/>
<line x1="984.6" y1="1142.8" x2="984.6" y2="672.2" stroke="#383838" stroke-width="2.0"/>
<line x1="983.6" y1="1142.8" x2="1632.3" y2="1142.8" stroke="#383838" stroke-width="2.0"/>
<line x1="974.6" y1="1142.8" x2="984.6" y2="1142.8" stroke="#383838" stroke-width="2.0"/>
<line x1="974.6" y1="1048.68" x2="984.6" y2="1048.68" stroke="#383838" stroke-width="2.0"/>
<line x1="974.6" y1="954.56" x2="984.6" y2="954.56" stroke="#383838" stroke-width="2.0"/>
<line x1="974.6" y1="860.44" x2="984.6" y2="860.44" stroke="#383838" stroke-width="2.0"/>
<line x1="974.6" y1="766.32" x2="984.6" y2="766.32" stroke="#383838" stroke-width="2.0"/>
<line x1="974.6" y1="672.2" x2="984.6" y2="672.2" stroke="#383838" stroke-width="2.0"/>
<line x1="978.6" y1="1095.74" x2="984.6" y2="1095.74" stroke="#383838" stroke-width="2.0"/>
<line x1="978.6" y1="1001.62" x2="984.6" y2="1001.62" stroke="#383838" stroke-width="2.0"/>
<line x1="978.6" y1="907.5" x2="984.6" y2="907.5" stroke="#383838" stroke-width="2.0"/>
<line x1="978.6" y1="813.38" x2="984.6" y2="813.38" stroke="#383838" stroke-width="2.0"/>
<line x1="978.6" y1="719.26" x2="984.6" y2="719.26" stroke="#383838" stroke-width="2.0"/>
<text x="967.8" y="1148.1" font-family='"Liberation Sans", Arial, sans-serif' font-size="18" font-weight="normal" fill="#1e1e1e" text-anchor="end" textLength="10.61" lengthAdjust="spacingAndGlyphs" >0</text>
<text x="967.8" y="1053.98" font-family='"Liberation Sans", Arial, sans-serif' font-size="18" font-weight="normal" fill="#1e1e1e" text-anchor="end" textLength="53.06" lengthAdjust="spacingAndGlyphs" >50000</text>
<text x="967.8" y="959.86" font-family='"Liberation Sans", Arial, sans-serif' font-size="18" font-weight="normal" fill="#1e1e1e" text-anchor="end" textLength="63.67" lengthAdjust="spacingAndGlyphs" >100000</text>
<text x="967.8" y="865.74" font-family='"Liberation Sans", Arial, sans-serif' font-size="18" font-weight="normal" fill="#1e1e1e" text-anchor="end" textLength="63.67" lengthAdjust="spacingAndGlyphs" >150000</text>
<text x="967.8" y="771.62" font-family='"Liberation Sans", Arial, sans-serif' font-size="18" font-weight="normal" fill="#1e1e1e" text-anchor="end" textLength="63.67" lengthAdjust="spacingAndGlyphs" >200000</text>
<text x="967.8" y="677.5" font-family='"Liberation Sans", Arial, sans-serif' font-size="18" font-weight="normal" fill="#1e1e1e" text-anchor="end" textLength="63.67" lengthAdjust="spacingAndGlyphs" >250000</text>
<line x1="1582.81" y1="1142.8" x2="1582.81" y2="1152.8" stroke="#383838" stroke-width="2.0"/>
<line x1="1499.79" y1="1142.8" x2="1499.79" y2="1152.8" stroke="#383838" stroke-width="2.0"/>
<line x1="1416.78" y1="1142.8" x2="1416.78" y2="1152.8" stroke="#383838" stroke-width="2.0"/>
<line x1="1333.76" y1="1142.8" x2="1333.76" y2="1152.8" stroke="#383838" stroke-width="2.0"/>
<line x1="1250.75" y1="1142.8" x2="1250.75" y2="1152.8" stroke="#383838" stroke-width="2.0"/>
<line x1="1167.73" y1="1142.8" x2="1167.73" y2="1152.8" stroke="#383838" stroke-width="2.0"/>
<line x1="1084.72" y1="1142.8" x2="1084.72" y2="1152.8" stroke="#383838" stroke-width="2.0"/>
<line x1="1001.7" y1="1142.8" x2="1001.7" y2="1152.8" stroke="#383838" stroke-width="2.0"/>
<line x1="1624.31" y1="1142.8" x2="1624.31" y2="1148.3" stroke="#383838" stroke-width="2.0"/>
<line x1="1541.3" y1="1142.8" x2="1541.3" y2="1148.3" stroke="#383838" stroke-width="2.0"/>
<line x1="1458.28" y1="1142.8" x2="1458.28" y2="1148.3" stroke="#383838" stroke-width="2.0"/>
<line x1="1375.27" y1="1142.8" x2="1375.27" y2="1148.3" stroke="#383838" stroke-width="2.0"/>
<line x1="1292.25" y1="1142.8" x2="1292.25" y2="1148.3" stroke="#383838" stroke-width="2.0"/>
<line x1="1209.24" y1="1142.8" x2="1209.24" y2="1148.3" stroke="#383838" stroke-width="2.0"/>
<line x1="1126.22" y1="1142.8" x2="1126.22" y2="1148.3" stroke="#383838" stroke-width="2.0"/>
<line x1="1043.21" y1="1142.8" x2="1043.21" y2="1148.3" stroke="#383838" stroke-width="2.0"/>
<text x="1582.81" y="1172.3" font-family='"Liberation Sans", Arial, sans-serif' font-size="18" font-weight="normal" fill="#1e1e1e" text-anchor="middle" textLength="42.45" lengthAdjust="spacingAndGlyphs" >1015</text>
<text x="1499.79" y="1172.3" font-family='"Liberation Sans", Arial, sans-serif' font-size="18" font-weight="normal" fill="#1e1e1e" text-anchor="middle" textLength="42.45" lengthAdjust="spacingAndGlyphs" >1020</text>
<text x="1416.78" y="1172.3" font-family='"Liberation Sans", Arial, sans-serif' font-size="18" font-weight="normal" fill="#1e1e1e" text-anchor="middle" textLength="42.45" lengthAdjust="spacingAndGlyphs" >1025</text>
<text x="1333.76" y="1172.3" font-family='"Liberation Sans", Arial, sans-serif' font-size="18" font-weight="normal" fill="#1e1e1e" text-anchor="middle" textLength="42.45" lengthAdjust="spacingAndGlyphs" >1030</text>
<text x="1250.75" y="1172.3" font-family='"Liberation Sans", Arial, sans-serif' font-size="18" font-weight="normal" fill="#1e1e1e" text-anchor="middle" textLength="42.45" lengthAdjust="spacingAndGlyphs" >1035</text>
<text x="1167.73" y="1172.3" font-family='"Liberation Sans", Arial, sans-serif' font-size="18" font-weight="normal" fill="#1e1e1e" text-anchor="middle" textLength="42.45" lengthAdjust="spacingAndGlyphs" >1040</text>
<text x="1084.72" y="1172.3" font-family='"Liberation Sans", Arial, sans-serif' font-size="18" font-weight="normal" fill="#1e1e1e" text-anchor="middle" textLength="42.45" lengthAdjust="spacingAndGlyphs" >1045</text>
<text x="1001.7" y="1172.3" font-family='"Liberation Sans", Arial, sans-serif' font-size="18" font-weight="normal" fill="#1e1e1e" text-anchor="middle" textLength="42.45" lengthAdjust="spacingAndGlyphs" >1050</text>
<text x="1308.4" y="1209" font-family='"Liberation Sans", Arial, sans-serif' font-size="23" font-weight="normal" fill="#1e1e1e" text-anchor="middle" textLength="203" lengthAdjust="spacingAndGlyphs" >Binding Energy / eV</text>
<text transform="translate(872.4,922.8) rotate(-90)" font-family='"Liberation Sans", Arial, sans-serif' font-size="22" font-weight="normal" fill="#1e1e1e" text-anchor="middle" textLength="99" lengthAdjust="spacingAndGlyphs" >Counts / s</text>
<text x="1244.3" y="1262.3" font-family='"Liberation Serif", "Times New Roman", serif' font-size="37" font-weight="bold" fill="#1a1a1a" text-anchor="middle" ><tspan font-weight="normal">(</tspan>d<tspan font-weight="normal">)</tspan></text>
<polyline fill="none" stroke="#ff2a2a" stroke-width="1.3" stroke-linejoin="round" stroke-linecap="round"  points="985.3,1013.4 987.3,1013.48 989.3,1013.55 991.3,1013.63 993.3,1013.7 995.3,1013.77 997.3,1013.84 999.3,1013.91 1001.3,1013.98 1003.3,1014.04 1005.3,1014.11 1007.3,1014.17 1009.3,1014.23 1011.3,1014.29 1013.3,1014.34 1015.3,1014.4 1017.3,1014.45 1019.3,1014.5 1021.3,1014.55 1023.3,1014.6 1025.3,1014.64 1027.3,1014.68 1029.3,1014.73 1031.3,1014.76 1033.3,1014.8 1035.3,1014.83 1037.3,1014.86 1039.3,1014.89 1040,1014.9 1041.3,1014.92 1043.3,1014.94 1045.3,1014.96 1047.3,1014.97 1049.3,1014.98 1051.3,1014.99 1053.3,1015 1055.3,1015.01 1057.3,1015.02 1059.3,1015.04 1061.3,1015.05 1063.3,1015.06 1065.3,1015.08 1067.3,1015.11 1069.3,1015.13 1071.3,1015.17 1073.1,1015.2 1073.3,1015.21 1075.3,1015.35 1077.3,1015.64 1079.3,1016.03 1081.3,1016.47 1083.3,1016.92 1083.7,1017 1085.3,1017.35 1087.3,1017.83 1089.3,1018.36 1091.3,1018.93 1093.3,1019.54 1095.3,1020.2 1095.6,1020.3 1097.3,1020.92 1099.3,1021.75 1101.3,1022.64 1103.3,1023.57 1105.3,1024.49 1106.2,1024.9 1107.3,1025.41 1109.3,1026.39 1111.3,1027.36 1113.3,1028.25 1114.2,1028.6 1115.3,1029 1117.3,1029.69 1119.3,1030.31 1121.3,1030.84 1122,1031 1123.3,1031.26 1125.3,1031.61 1127.3,1031.91 1129.3,1032.2 1130.6,1032.4 1131.3,1032.51 1133.3,1032.85 1135.3,1033.19 1137.3,1033.5 1139.3,1033.74 1140,1033.8 1141.3,1033.9 1143.3,1034.03 1145.3,1034.15 1147.3,1034.26 1149.3,1034.35 1151.3,1034.44 1153.3,1034.52 1155.3,1034.6 1157.3,1034.67 1159.3,1034.75 1161.3,1034.82 1163.3,1034.91 1165.3,1035 1167.1,1035.1 1167.3,1035.11 1169.3,1035.23 1171.3,1035.35 1173.3,1035.47 1175.3,1035.6 1177.3,1035.74 1179.3,1035.87 1181.3,1036.01 1183.3,1036.15 1185.3,1036.29 1187.3,1036.43 1189.3,1036.57 1191.3,1036.71 1193.3,1036.84 1194.2,1036.9 1195.3,1036.97 1197.3,1037.1 1199.3,1037.23 1201.3,1037.36 1203.3,1037.48 1205.3,1037.61 1207.3,1037.74 1209.3,1037.86 1211.3,1037.99 1213.3,1038.12 1215.3,1038.24 1217.3,1038.37 1219.3,1038.5 1221.3,1038.62 1223.3,1038.75 1225.3,1038.88 1227.3,1039.01 1229.3,1039.14 1230.3,1039.2 1231.3,1039.27 1233.3,1039.4 1235.3,1039.54 1237.3,1039.68 1239.3,1039.83 1241.3,1039.98 1243.3,1040.12 1245.3,1040.27 1247.3,1040.42 1249.3,1040.56 1251.3,1040.7 1253.3,1040.84 1255.3,1040.98 1257.3,1041.11 1259.3,1041.23 1261.3,1041.34 1263.3,1041.45 1265.3,1041.55 1266.4,1041.6 1267.3,1041.64 1269.3,1041.72 1271.3,1041.81 1273.3,1041.88 1275.3,1041.96 1277.3,1042.03 1279.3,1042.1 1281.3,1042.17 1283.3,1042.23 1285.3,1042.3 1287.3,1042.36 1289.3,1042.42 1291.3,1042.48 1293.3,1042.54 1295.3,1042.6 1297.3,1042.65 1299.3,1042.71 1301.3,1042.77 1302.5,1042.8 1303.3,1042.82 1305.3,1042.88 1307.3,1042.95 1309.3,1043.01 1311.3,1043.08 1313.3,1043.14 1315.3,1043.21 1317.3,1043.28 1319.3,1043.34 1321.3,1043.4 1323.3,1043.46 1325.3,1043.51 1327.3,1043.56 1329.3,1043.6 1331.3,1043.64 1333.3,1043.67 1335.3,1043.69 1337.3,1043.7 1338.6,1043.7 1339.3,1043.7 1341.3,1043.7 1343.3,1043.7 1345.3,1043.7 1347.3,1043.7 1349.3,1043.7 1351.3,1043.7 1353.3,1043.7 1355.3,1043.7 1357.3,1043.7 1359.3,1043.7 1361.3,1043.7 1363.3,1043.7 1365.3,1043.7 1367.3,1043.7 1369.3,1043.7 1371.3,1043.7 1373.3,1043.7 1375.3,1043.7 1377.3,1043.7 1379.3,1043.7 1381.3,1043.7 1383.3,1043.7 1385.3,1043.7 1387.3,1043.7 1389.3,1043.7 1391.3,1043.7 1393.3,1043.7 1395.3,1043.7 1397.3,1043.7 1399.3,1043.7 1401.3,1043.7 1403.3,1043.7 1405.3,1043.7 1407.3,1043.7 1409.3,1043.7 1411.3,1043.7 1413.3,1043.7 1415.3,1043.7 1417.3,1043.7 1419.3,1043.7 1421.3,1043.7 1423.3,1043.7 1425.3,1043.7 1427.3,1043.7 1429.3,1043.7 1431.3,1043.7 1433.3,1043.7 1435.3,1043.7 1437.3,1043.7 1439.3,1043.7 1440,1043.7 1441.3,1043.7 1443.3,1043.71 1445.3,1043.73 1447.3,1043.75 1449.3,1043.79 1451.3,1043.83 1453.3,1043.87 1455.3,1043.93 1457.3,1043.99 1459.3,1044.06 1461.3,1044.13 1463.3,1044.21 1465.3,1044.3 1467.3,1044.4 1467.4,1044.4 1469.3,1044.54 1471.3,1044.79 1473.3,1045.12 1475.3,1045.49 1477.3,1045.89 1479.3,1046.28 1479.9,1046.4 1481.3,1046.69 1483.3,1047.16 1485.3,1047.66 1487.3,1048.18 1489.3,1048.66 1491.3,1049.08 1492,1049.2 1493.3,1049.42 1495.3,1049.75 1497.3,1050.06 1499.3,1050.34 1501.3,1050.58 1503.3,1050.78 1504.9,1050.9 1505.3,1050.92 1507.3,1051.04 1509.3,1051.15 1511.3,1051.25 1513.3,1051.34 1515.3,1051.41 1517.3,1051.46 1519.3,1051.49 1520,1051.5 1521.3,1051.51 1523.3,1051.53 1525.3,1051.54 1527.3,1051.56 1529.3,1051.57 1531.3,1051.59 1533.3,1051.6 1535.3,1051.62 1537.3,1051.63 1539.3,1051.64 1541.3,1051.65 1543.3,1051.67 1545.3,1051.68 1547.3,1051.69 1549.3,1051.7 1551.3,1051.71 1553.3,1051.72 1555.3,1051.73 1557.3,1051.74 1559.3,1051.75 1561.3,1051.76 1563.3,1051.77 1565.3,1051.78 1567.3,1051.79 1569.3,1051.79 1571.3,1051.8 1573.3,1051.81 1575.3,1051.81 1577.3,1051.82 1579.3,1051.83 1581.3,1051.83 1583.3,1051.84 1585.3,1051.84 1587.3,1051.85 1589.3,1051.85 1591.3,1051.86 1593.3,1051.86 1595.3,1051.87 1597.3,1051.87 1599.3,1051.87 1601.3,1051.88 1603.3,1051.88 1605.3,1051.88 1607.3,1051.89 1609.3,1051.89 1611.3,1051.89 1613.3,1051.89 1615.3,1051.89 1617.3,1051.9 1619.3,1051.9 1621.3,1051.9 1623.3,1051.9 1625.3,1051.9 1627.3,1051.9 1629.3,1051.9 1631.3,1051.9 1631.5,1051.9"/>
<polyline fill="none" stroke="#2b2b2b" stroke-width="1.15" stroke-linejoin="round" stroke-linecap="round"  points="985.3,1013.4 986.3,1013.43 987.3,1013.46 988.3,1013.49 989.3,1013.52 990.3,1013.55 991.3,1013.58 992.3,1013.62 993.3,1013.65 994.3,1013.69 995.3,1013.72 996.3,1013.76 997.3,1013.8 998.3,1013.83 999.3,1013.87 1000,1013.9 1000.3,1013.91 1001.3,1013.96 1002.3,1014 1003.3,1014.05 1004.3,1014.1 1005.3,1014.16 1006.3,1014.22 1007.3,1014.27 1008.3,1014.33 1009.3,1014.38 1010.3,1014.44 1011.3,1014.49 1012.3,1014.54 1013.3,1014.58 1014.3,1014.62 1015.3,1014.66 1016.3,1014.69 1016.9,1014.7 1017.3,1014.71 1018.3,1014.73 1019.3,1014.75 1020.3,1014.78 1021.3,1014.8 1022.3,1014.82 1023.3,1014.83 1024.3,1014.85 1025.3,1014.87 1026.3,1014.88 1027.3,1014.89 1028.3,1014.9 1029.3,1014.9 1030,1014.9 1030.3,1014.9 1031.3,1014.88 1032.3,1014.85 1033.3,1014.81 1034.3,1014.75 1035.3,1014.68 1036.3,1014.6 1037.3,1014.52 1038.3,1014.44 1039.3,1014.36 1040,1014.3 1040.3,1014.28 1041.3,1014.19 1042.3,1014.11 1043.3,1014.02 1044.3,1013.92 1045.3,1013.82 1046.3,1013.7 1047.3,1013.57 1048.3,1013.42 1049.3,1013.25 1050.3,1013.06 1050.6,1013 1051.3,1012.81 1052.3,1012.42 1053.3,1011.93 1054.3,1011.36 1055.3,1010.76 1056.3,1010.18 1057.2,1009.7 1057.3,1009.65 1058.3,1009.18 1059.3,1008.75 1060.3,1008.32 1061.3,1007.86 1062.3,1007.35 1063.3,1006.74 1063.8,1006.4 1064.3,1006 1065.3,1005.01 1066.3,1003.8 1067.3,1002.43 1068.3,1000.97 1069.3,999.47 1070.3,997.99 1070.5,997.7 1071.3,996.6 1072.3,995.29 1073.3,993.98 1074.3,992.56 1075.3,990.93 1076.3,989.01 1077.1,987.2 1077.3,986.66"/>
<polyline fill="none" stroke="#a8a8a8" stroke-width="1.15" stroke-linejoin="round" stroke-linecap="round"  points="1077.3,986.66 1078.3,982.85 1079.3,978.29 1079.7,976.6 1080.3,974.22 1081.3,970.32 1082.3,966.4 1082.4,966 1083.3,962.52 1084.3,958.67 1085.3,954.52 1085.7,952.7 1086.3,949.74 1087.3,944.27 1088.3,938.39 1089,934.2 1089.3,932.39 1090.3,926.1 1091.3,919.61 1091.7,917 1092.3,912.88 1093.3,905.74 1094.3,899.7 1095.3,895.21 1096.3,891.45"/>
<polyline fill="none" stroke="#2b2b2b" stroke-width="1.15" stroke-linejoin="round" stroke-linecap="round" stroke-dasharray="7,3.2" points="1077.3,986.66 1078.3,982.85 1079.3,978.29 1079.7,976.6 1080.3,974.22 1081.3,970.32 1082.3,966.4 1082.4,966 1083.3,962.52 1084.3,958.67 1085.3,954.52 1085.7,952.7 1086.3,949.74 1087.3,944.27 1088.3,938.39 1089,934.2 1089.3,932.39 1090.3,926.1 1091.3,919.61 1091.7,917 1092.3,912.88 1093.3,905.74 1094.3,899.7 1095.3,895.21 1096.3,891.45"/>
<polyline fill="none" stroke="#2b2b2b" stroke-width="1.15" stroke-linejoin="round" stroke-linecap="round"  points="1096.3,891.45 1097,889.1 1097.3,888.15 1098.3,885.23 1099.3,882.58 1100.3,880.04 1100.9,878.5 1101.3,877.37 1102.3,874.14 1103.3,871.14 1104.3,869.41 1104.6,869.3 1105.3,870.07 1106.3,873.01"/>
<polyline fill="none" stroke="#2b2b2b" stroke-width="1.15" stroke-linejoin="round" stroke-linecap="round"  points="1106.3,873.01 1107.3,876.56"/>
<polyline fill="none" stroke="#2b2b2b" stroke-width="1.15" stroke-linejoin="round" stroke-linecap="round"  points="1107.3,876.56 1107.5,877.2 1108.3,879.66 1109.3,882.99"/>
<polyline fill="none" stroke="#a8a8a8" stroke-width="1.15" stroke-linejoin="round" stroke-linecap="round"  points="1109.3,882.99 1110.2,886.5 1110.3,886.94 1111.3,892.09 1112.3,898.07 1112.8,901.1 1113.3,904.14 1114.3,910.49 1115.3,917 1115.5,918.3 1116.3,923.57 1117.3,930.23 1118.1,935.5 1118.3,936.8 1119.3,943.23 1120.3,949.57 1120.8,952.7 1121.3,955.85 1122.3,962.15 1123.3,968.05 1123.4,968.6 1124.3,973.43 1125.3,978.41 1126.1,981.9 1126.3,982.7 1127.3,986.58 1128.3,990.13"/>
<polyline fill="none" stroke="#2b2b2b" stroke-width="1.15" stroke-linejoin="round" stroke-linecap="round" stroke-dasharray="7,3.2" points="1109.3,882.99 1110.2,886.5 1110.3,886.94 1111.3,892.09 1112.3,898.07 1112.8,901.1 1113.3,904.14 1114.3,910.49 1115.3,917 1115.5,918.3 1116.3,923.57 1117.3,930.23 1118.1,935.5 1118.3,936.8 1119.3,943.23 1120.3,949.57 1120.8,952.7 1121.3,955.85 1122.3,962.15 1123.3,968.05 1123.4,968.6 1124.3,973.43 1125.3,978.41 1126.1,981.9 1126.3,982.7 1127.3,986.58 1128.3,990.13"/>
<polyline fill="none" stroke="#2b2b2b" stroke-width="1.15" stroke-linejoin="round" stroke-linecap="round"  points="1128.3,990.13 1129.3,993.17 1130.1,995.1 1130.3,995.51 1131.3,997.39 1132.3,999.01 1133.3,1000.42 1134.3,1001.7 1135.3,1002.88 1135.4,1003 1136.3,1004.07 1137.3,1005.23 1138.3,1006.27 1139.3,1007.06 1140,1007.4 1140.3,1007.5 1141.3,1007.79 1142.3,1008.02 1143.3,1008.21 1144.3,1008.37 1145.3,1008.51 1146.3,1008.65 1147.3,1008.8 1148.3,1008.96 1149,1009.1 1149.3,1009.16 1150.3,1009.39 1151.3,1009.64 1152.3,1009.9 1153.3,1010.16 1154.3,1010.42 1155.3,1010.66 1156.3,1010.89 1157.3,1011.08 1158,1011.2 1158.3,1011.24 1159.3,1011.39 1160.3,1011.52 1161.3,1011.65 1162.3,1011.76 1163.3,1011.87 1164.3,1011.98 1165.3,1012.08 1166.3,1012.17 1167.3,1012.27 1168.3,1012.36 1169.3,1012.45 1170.3,1012.54 1171.3,1012.63 1172.3,1012.72 1173.3,1012.81 1174.3,1012.91 1175.3,1013.01 1176.1,1013.1 1176.3,1013.12 1177.3,1013.24 1178.3,1013.35 1179.3,1013.47 1180.3,1013.6 1181.3,1013.72 1182.3,1013.85 1183.3,1013.98 1184.3,1014.11 1185.3,1014.23 1186.3,1014.36 1187.3,1014.48 1188.3,1014.6 1189.3,1014.71 1190.3,1014.82 1191.3,1014.93 1192.3,1015.03 1193.3,1015.12 1194.2,1015.2 1194.3,1015.21 1195.3,1015.28 1196.3,1015.35 1197.3,1015.41 1198.3,1015.46 1199.3,1015.52 1200.3,1015.58 1201.3,1015.65 1202.3,1015.72 1203.2,1015.8 1203.3,1015.81 1204.3,1015.92 1205.3,1016.04 1206.3,1016.19 1207.3,1016.35 1208.3,1016.53 1209.3,1016.72 1210.3,1016.93 1211.3,1017.14 1212.3,1017.36 1213.3,1017.59 1214.3,1017.82 1215.3,1018.05 1216.3,1018.29 1217.3,1018.52 1218.3,1018.75 1219.3,1018.98 1220.3,1019.21 1221.2,1019.4 1221.3,1019.42 1222.3,1019.65 1223.3,1019.9 1224.3,1020.16 1225.3,1020.44 1226.3,1020.73 1227.3,1021.03 1228.3,1021.33 1229.3,1021.63 1230.3,1021.93 1231.3,1022.22 1232.3,1022.5 1233.3,1022.76 1234.3,1023.01 1235.3,1023.23 1236.3,1023.43 1237.3,1023.59 1238.3,1023.73 1239.3,1023.83 1240.3,1023.89 1241.1,1023.9 1241.3,1023.89 1242.3,1023.7 1243.3,1023.3 1244.3,1022.77 1245.3,1022.22 1246.3,1021.71 1247.3,1021.34 1248.3,1021.2 1249.3,1021.47 1250.3,1022.17 1251.3,1023.14 1252.3,1024.22 1253.3,1025.26 1254.3,1026.09 1255.3,1026.56 1255.5,1026.6 1256.3,1026.69 1257.3,1026.79 1258.3,1026.88 1259.3,1026.95 1260.3,1027 1261.3,1027.05 1262.3,1027.09 1263.3,1027.13 1264.3,1027.17 1265.3,1027.21 1266.3,1027.25 1267.3,1027.3 1268.3,1027.36 1269.3,1027.44 1270,1027.5 1270.3,1027.53 1271.3,1027.64 1272.3,1027.78 1273.3,1027.94 1274.3,1028.11 1275.3,1028.3 1276.3,1028.51 1277.3,1028.72 1278.3,1028.93 1279.3,1029.15 1280.3,1029.37 1281.3,1029.59 1282.3,1029.79 1283.3,1029.99 1284.3,1030.18 1284.4,1030.2 1285.3,1030.36 1286.3,1030.54 1287.3,1030.72 1288.3,1030.89 1289.3,1031.07 1290.3,1031.24 1291.3,1031.41 1292.3,1031.58 1293.3,1031.75 1294.3,1031.92 1295.3,1032.09 1296.3,1032.26 1297.3,1032.43 1298.3,1032.6 1299.3,1032.77 1300.3,1032.93 1301.3,1033.1 1302.3,1033.27 1302.5,1033.3 1303.3,1033.43 1304.3,1033.61 1305.3,1033.79 1306.3,1033.97 1307.3,1034.15 1308.3,1034.33 1309.3,1034.52 1310.3,1034.7 1311.3,1034.88 1312.3,1035.05 1313.3,1035.22 1314.3,1035.39 1315.3,1035.54 1316.3,1035.69 1317.3,1035.83 1318.3,1035.96 1319.3,1036.08 1320.3,1036.18 1320.5,1036.2 1321.3,1036.27 1322.3,1036.35 1323.3,1036.42 1324.3,1036.49 1325.3,1036.54 1326.3,1036.59 1327.3,1036.64 1328.3,1036.69 1329.3,1036.74 1330.3,1036.78 1331.3,1036.83 1332.3,1036.89 1333.3,1036.94 1334.3,1037.01 1335.3,1037.08 1336.3,1037.17 1337.3,1037.26 1338.3,1037.37 1338.6,1037.4 1339.3,1037.52 1340.3,1037.78 1341.3,1038.14 1342.3,1038.54 1343.3,1038.97 1344.3,1039.37 1345.3,1039.71 1346.3,1039.97 1347.3,1040.09 1347.6,1040.1 1348.3,1040.07 1349.3,1039.93 1350.3,1039.71 1351.3,1039.44 1352.3,1039.14 1353.3,1038.85 1354.3,1038.59 1355.3,1038.4 1356.3,1038.31 1356.6,1038.3 1357.3,1038.35 1358.3,1038.6 1359.3,1038.99 1360.3,1039.49 1361.3,1040.05 1362.3,1040.61 1363.3,1041.13 1364.3,1041.56 1365.3,1041.85 1365.6,1041.9 1366.3,1042 1367.3,1042.14 1368.3,1042.27 1369.3,1042.39 1370.3,1042.51 1371.3,1042.61 1372.3,1042.71 1373.3,1042.81 1374.3,1042.89 1375.3,1042.97 1376.3,1043.05 1377.3,1043.11 1378.3,1043.17 1379.3,1043.23 1380.3,1043.28 1381.3,1043.32 1382.3,1043.36 1383.3,1043.39 1383.7,1043.4 1384.3,1043.42 1385.3,1043.44 1386.3,1043.47 1387.3,1043.5 1388.3,1043.52 1389.3,1043.54 1390.3,1043.56 1391.3,1043.59 1392.3,1043.61 1393.3,1043.62 1394.3,1043.64 1395.3,1043.65 1396.3,1043.67 1397.3,1043.68 1398.3,1043.69 1399.3,1043.69 1400.3,1043.7 1401.3,1043.7 1401.7,1043.7 1402.3,1043.7 1403.3,1043.7 1404.3,1043.7 1405.3,1043.7 1406.3,1043.7 1407.3,1043.7 1408.3,1043.7 1409.3,1043.7 1410.3,1043.7 1411.3,1043.7 1412.3,1043.7 1413.3,1043.7 1414.3,1043.7 1415.3,1043.7 1416.3,1043.7 1417.3,1043.7 1418.3,1043.7 1419.3,1043.7 1419.8,1043.7 1420.3,1043.7 1421.3,1043.68 1422.3,1043.66 1423.3,1043.62 1424.3,1043.57 1425.3,1043.5 1426.3,1043.43 1427.3,1043.35 1428.3,1043.26 1429.3,1043.17 1430,1043.1 1430.3,1043.07 1431.3,1042.9 1432.3,1042.66 1433.3,1042.36 1434.3,1042 1435.3,1041.6 1436.3,1041.17 1437.3,1040.7 1438.3,1040.23 1439.3,1039.74 1440,1039.4 1440.3,1039.26 1441.3,1038.77 1442.3,1038.25 1443.3,1037.69 1444.3,1037.07 1445.3,1036.36 1446.3,1035.54 1447.3,1034.6 1447.5,1034.4 1448.3,1033.41 1449.3,1031.77 1450.3,1029.74 1451.3,1027.39 1452.3,1024.77 1453.3,1021.95 1454.3,1019.01 1455,1016.9 1455.3,1015.97 1456.3,1012.61"/>
<polyline fill="none" stroke="#a8a8a8" stroke-width="1.15" stroke-linejoin="round" stroke-linecap="round"  points="1456.3,1012.61 1457.3,1008.81 1458.3,1004.6 1459.3,999.97 1459.9,997 1460.3,994.89 1461.3,988.94 1462.3,982.23 1463.3,974.99 1463.7,972 1464.3,967.32 1465.3,958.86 1466.3,949.84 1467.3,940.54 1467.4,939.6 1468.3,931.05 1469.3,921.06 1469.9,914.7 1470.3,910.21 1471.3,898.2 1472.3,885.9 1472.4,884.7 1473.3,874.03 1474.3,862.15 1474.9,854.8 1475.3,849.75 1476.3,836.74 1477.3,823.6 1477.4,822.3 1478.3,810.28 1479.3,797.09 1479.9,789.9 1480.3,785.29 1481.3,773.92 1482.3,765.54 1482.4,765 1483.3,760.97"/>
<polyline fill="none" stroke="#2b2b2b" stroke-width="1.15" stroke-linejoin="round" stroke-linecap="round" stroke-dasharray="7,3.2" points="1456.3,1012.61 1457.3,1008.81 1458.3,1004.6 1459.3,999.97 1459.9,997 1460.3,994.89 1461.3,988.94 1462.3,982.23 1463.3,974.99 1463.7,972 1464.3,967.32 1465.3,958.86 1466.3,949.84 1467.3,940.54 1467.4,939.6 1468.3,931.05 1469.3,921.06 1469.9,914.7 1470.3,910.21 1471.3,898.2 1472.3,885.9 1472.4,884.7 1473.3,874.03 1474.3,862.15 1474.9,854.8 1475.3,849.75 1476.3,836.74 1477.3,823.6 1477.4,822.3 1478.3,810.28 1479.3,797.09 1479.9,789.9 1480.3,785.29 1481.3,773.92 1482.3,765.54 1482.4,765 1483.3,760.97"/>
<polyline fill="none" stroke="#2b2b2b" stroke-width="1.15" stroke-linejoin="round" stroke-linecap="round"  points="1483.3,760.97 1484.3,757.62 1485.3,755.2 1485.4,755 1486.3,753.23 1487.3,751.68 1488.1,751.2 1488.3,751.24 1489.3,752.44 1490.3,754.94 1491.1,757.5"/>
<polyline fill="none" stroke="#a8a8a8" stroke-width="1.15" stroke-linejoin="round" stroke-linecap="round"  points="1491.1,757.5 1491.3,758.28 1492.3,764.84 1493.3,774.3 1493.6,777.4 1494.3,786.39 1495.3,802.5 1496.1,814.9 1496.3,817.65 1497.3,830.76 1498.3,843.44 1498.6,847.3 1499.3,856.3 1500.3,869.15 1501.1,879.7 1501.3,882.42 1502.3,896.65 1503.3,910.74 1503.6,914.7 1504.3,923.55 1505.3,935.55 1506.1,944.6 1506.3,946.81 1507.3,957.78 1508.3,968.1 1509.3,977 1510.3,984.6 1511.3,991.51 1512.3,997.68 1513.3,1003.05 1513.6,1004.5 1514.3,1007.73 1515.3,1012.13 1516.3,1016.2 1517.3,1019.87"/>
<polyline fill="none" stroke="#2b2b2b" stroke-width="1.15" stroke-linejoin="round" stroke-linecap="round" stroke-dasharray="7,3.2" points="1491.1,757.5 1491.3,758.28 1492.3,764.84 1493.3,774.3 1493.6,777.4 1494.3,786.39 1495.3,802.5 1496.1,814.9 1496.3,817.65 1497.3,830.76 1498.3,843.44 1498.6,847.3 1499.3,856.3 1500.3,869.15 1501.1,879.7 1501.3,882.42 1502.3,896.65 1503.3,910.74 1503.6,914.7 1504.3,923.55 1505.3,935.55 1506.1,944.6 1506.3,946.81 1507.3,957.78 1508.3,968.1 1509.3,977 1510.3,984.6 1511.3,991.51 1512.3,997.68 1513.3,1003.05 1513.6,1004.5 1514.3,1007.73 1515.3,1012.13 1516.3,1016.2 1517.3,1019.87"/>
<polyline fill="none" stroke="#2b2b2b" stroke-width="1.15" stroke-linejoin="round" stroke-linecap="round"  points="1517.3,1019.87 1518.3,1023.09 1519.3,1025.78 1519.8,1026.9 1520.3,1027.93 1521.3,1029.91 1522.3,1031.75 1523.3,1033.45 1524.3,1034.99 1525.3,1036.35 1526.3,1037.52 1527.3,1038.49 1528.3,1039.22 1528.6,1039.4 1529.3,1039.77 1530.3,1040.23 1531.3,1040.63 1532.3,1040.99 1533.3,1041.3 1534.3,1041.58 1535.3,1041.85 1536.3,1042.11 1537.3,1042.37 1538.3,1042.64 1539.3,1042.94 1539.8,1043.1 1540.3,1043.27 1541.3,1043.63 1542.3,1044.01 1543.3,1044.4 1544.3,1044.78 1545.3,1045.16 1546.3,1045.51 1547.3,1045.83 1548.3,1046.1 1549.3,1046.32 1549.8,1046.4 1550.3,1046.47 1551.3,1046.6 1552.3,1046.7 1553.3,1046.79 1554.3,1046.87 1555.3,1046.94 1556.3,1047.02 1557.3,1047.1 1558.3,1047.2 1559.3,1047.31 1560,1047.4 1560.3,1047.45 1561.3,1047.65 1562.3,1047.92 1563.3,1048.24 1564.3,1048.57 1565.3,1048.91 1566.3,1049.23 1567.3,1049.51 1568.3,1049.73 1569.3,1049.86 1570.1,1049.9 1570.3,1049.9 1571.3,1049.89 1572.3,1049.86 1573.3,1049.83 1574.3,1049.79 1575.3,1049.74 1576.3,1049.69 1577.3,1049.64 1578.3,1049.59 1579.3,1049.55 1580.3,1049.52 1581.3,1049.5 1582,1049.5 1582.3,1049.5 1583.3,1049.51 1584.3,1049.52 1585.3,1049.54 1586.3,1049.56 1587.3,1049.59 1588.3,1049.62 1589.3,1049.65 1590.3,1049.69 1591.3,1049.73 1592.3,1049.77 1593.3,1049.81 1594.3,1049.85 1595.3,1049.89 1595.5,1049.9 1596.3,1049.94 1597.3,1049.99 1598.3,1050.06 1599.3,1050.14 1600.3,1050.22 1601.3,1050.3 1602.3,1050.38 1603.3,1050.47 1604.3,1050.55 1605.3,1050.62 1606.3,1050.68 1607.3,1050.73 1608.3,1050.77 1609.3,1050.8 1610,1050.8 1610.3,1050.8 1611.3,1050.79 1612.3,1050.77 1613.3,1050.75 1614.3,1050.72 1615.3,1050.69 1616.3,1050.66 1617.3,1050.64 1618.3,1050.62 1619.3,1050.6 1620,1050.6 1620.3,1050.6 1621.3,1050.62 1622.3,1050.67 1623.3,1050.74 1624.3,1050.82 1625.3,1050.93 1626.3,1051.06 1627.3,1051.19 1628.3,1051.35 1629.3,1051.51 1630.3,1051.68 1631.3,1051.86 1631.5,1051.9"/>
<text x="1105.5" y="800.9" font-family='"Liberation Sans", Arial, sans-serif' font-size="22.5" font-weight="normal" fill="#1e1e1e" text-anchor="middle" textLength="68.6" lengthAdjust="spacingAndGlyphs" >1043.8</text>
<line x1="1104.9" y1="808.6" x2="1104.9" y2="854" stroke="#1a1a1a" stroke-width="1.15"/>
<polygon points="1101.8,853 1108,853 1104.9,863.5" fill="#1a1a1a"/>
<text font-family='"Liberation Sans", Arial, sans-serif' font-size="22" fill="#1e1e1e"><tspan x="1146.2" y="838.6" textLength="59" lengthAdjust="spacingAndGlyphs">Zn 2p</tspan><tspan x="1207.4" y="848.3" font-size="14" textLength="17.5" lengthAdjust="spacingAndGlyphs">1/2</tspan></text>
<text x="1488" y="685" font-family='"Liberation Sans", Arial, sans-serif' font-size="22.5" font-weight="normal" fill="#1e1e1e" text-anchor="middle" textLength="68.4" lengthAdjust="spacingAndGlyphs" >1020.7</text>
<line x1="1487.9" y1="693.4" x2="1487.9" y2="736.1" stroke="#1a1a1a" stroke-width="1.15"/>
<polygon points="1484.8,735.1 1491,735.1 1487.9,745.6" fill="#1a1a1a"/>
<text font-family='"Liberation Sans", Arial, sans-serif' font-size="22" fill="#1e1e1e"><tspan x="1400.8" y="743.6" textLength="59.5" lengthAdjust="spacingAndGlyphs">Zn 2p</tspan><tspan x="1460.3" y="753" font-size="14" textLength="19" lengthAdjust="spacingAndGlyphs">3/2</tspan></text>
</svg>
</body></html>
